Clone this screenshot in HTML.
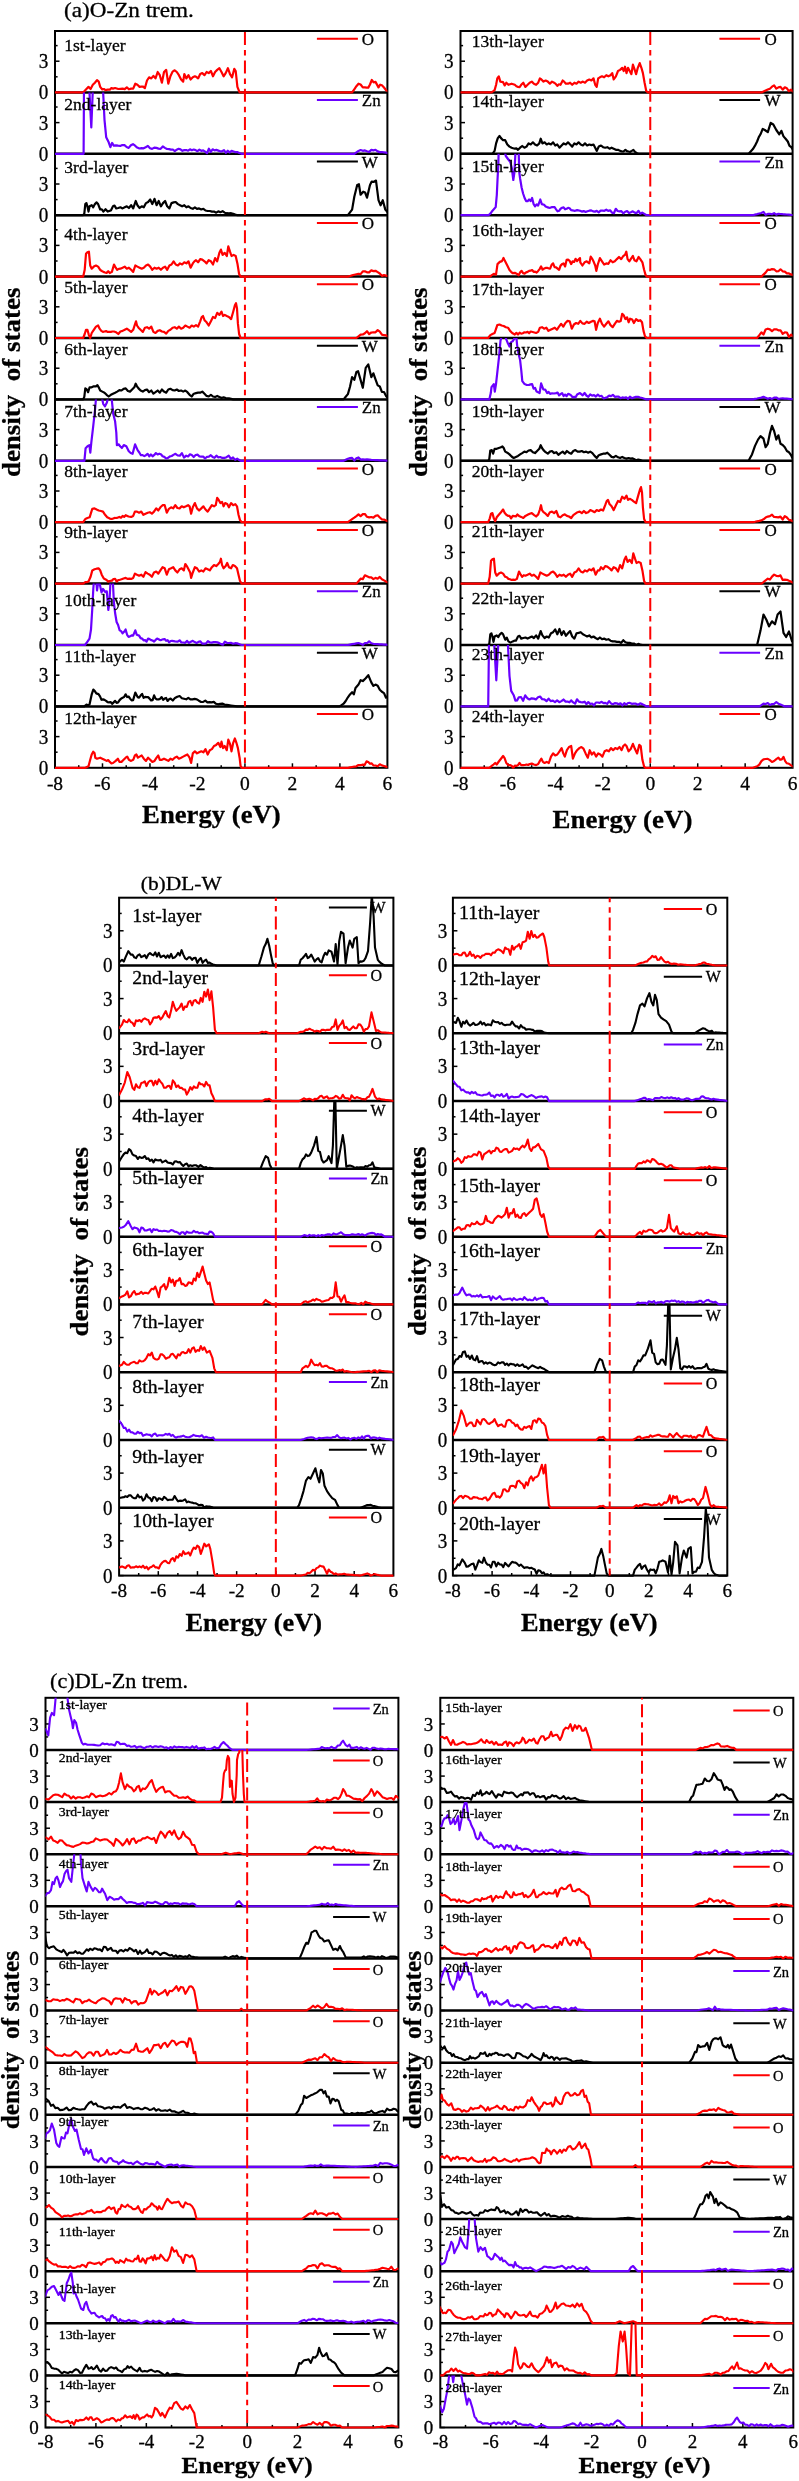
<!DOCTYPE html>
<html><head><meta charset="utf-8"><style>
html,body{margin:0;padding:0;background:#fff;}
svg{display:block;filter:blur(0.35px);}
text{font-family:"Liberation Serif",serif;fill:#000;stroke:#000;stroke-width:0.3px;}
</style></head><body>
<svg width="799" height="2481" viewBox="0 0 799 2481">
<defs><clipPath id="caL0"><rect x="55" y="31" width="332.4" height="63.4"/></clipPath><clipPath id="caL1"><rect x="55" y="92.4" width="332.4" height="63.4"/></clipPath><clipPath id="caL2"><rect x="55" y="153.8" width="332.4" height="63.4"/></clipPath><clipPath id="caL3"><rect x="55" y="215.2" width="332.4" height="63.4"/></clipPath><clipPath id="caL4"><rect x="55" y="276.6" width="332.4" height="63.4"/></clipPath><clipPath id="caL5"><rect x="55" y="338" width="332.4" height="63.4"/></clipPath><clipPath id="caL6"><rect x="55" y="399.4" width="332.4" height="63.4"/></clipPath><clipPath id="caL7"><rect x="55" y="460.8" width="332.4" height="63.4"/></clipPath><clipPath id="caL8"><rect x="55" y="522.2" width="332.4" height="63.4"/></clipPath><clipPath id="caL9"><rect x="55" y="583.6" width="332.4" height="63.4"/></clipPath><clipPath id="caL10"><rect x="55" y="645" width="332.4" height="63.4"/></clipPath><clipPath id="caL11"><rect x="55" y="706.4" width="332.4" height="63.4"/></clipPath><clipPath id="caR0"><rect x="460.5" y="31" width="332.1" height="63.4"/></clipPath><clipPath id="caR1"><rect x="460.5" y="92.4" width="332.1" height="63.4"/></clipPath><clipPath id="caR2"><rect x="460.5" y="153.8" width="332.1" height="63.4"/></clipPath><clipPath id="caR3"><rect x="460.5" y="215.2" width="332.1" height="63.4"/></clipPath><clipPath id="caR4"><rect x="460.5" y="276.6" width="332.1" height="63.4"/></clipPath><clipPath id="caR5"><rect x="460.5" y="338" width="332.1" height="63.4"/></clipPath><clipPath id="caR6"><rect x="460.5" y="399.4" width="332.1" height="63.4"/></clipPath><clipPath id="caR7"><rect x="460.5" y="460.8" width="332.1" height="63.4"/></clipPath><clipPath id="caR8"><rect x="460.5" y="522.2" width="332.1" height="63.4"/></clipPath><clipPath id="caR9"><rect x="460.5" y="583.6" width="332.1" height="63.4"/></clipPath><clipPath id="caR10"><rect x="460.5" y="645" width="332.1" height="63.4"/></clipPath><clipPath id="caR11"><rect x="460.5" y="706.4" width="332.1" height="63.4"/></clipPath><clipPath id="cbL0"><rect x="119.1" y="897.7" width="274.3" height="69.79"/></clipPath><clipPath id="cbL1"><rect x="119.1" y="965.49" width="274.3" height="69.79"/></clipPath><clipPath id="cbL2"><rect x="119.1" y="1033.28" width="274.3" height="69.79"/></clipPath><clipPath id="cbL3"><rect x="119.1" y="1101.07" width="274.3" height="69.79"/></clipPath><clipPath id="cbL4"><rect x="119.1" y="1168.86" width="274.3" height="69.79"/></clipPath><clipPath id="cbL5"><rect x="119.1" y="1236.65" width="274.3" height="69.79"/></clipPath><clipPath id="cbL6"><rect x="119.1" y="1304.44" width="274.3" height="69.79"/></clipPath><clipPath id="cbL7"><rect x="119.1" y="1372.23" width="274.3" height="69.79"/></clipPath><clipPath id="cbL8"><rect x="119.1" y="1440.02" width="274.3" height="69.79"/></clipPath><clipPath id="cbL9"><rect x="119.1" y="1507.81" width="274.3" height="69.79"/></clipPath><clipPath id="cbR0"><rect x="452.9" y="897.7" width="274.4" height="69.79"/></clipPath><clipPath id="cbR1"><rect x="452.9" y="965.49" width="274.4" height="69.79"/></clipPath><clipPath id="cbR2"><rect x="452.9" y="1033.28" width="274.4" height="69.79"/></clipPath><clipPath id="cbR3"><rect x="452.9" y="1101.07" width="274.4" height="69.79"/></clipPath><clipPath id="cbR4"><rect x="452.9" y="1168.86" width="274.4" height="69.79"/></clipPath><clipPath id="cbR5"><rect x="452.9" y="1236.65" width="274.4" height="69.79"/></clipPath><clipPath id="cbR6"><rect x="452.9" y="1304.44" width="274.4" height="69.79"/></clipPath><clipPath id="cbR7"><rect x="452.9" y="1372.23" width="274.4" height="69.79"/></clipPath><clipPath id="cbR8"><rect x="452.9" y="1440.02" width="274.4" height="69.79"/></clipPath><clipPath id="cbR9"><rect x="452.9" y="1507.81" width="274.4" height="69.79"/></clipPath><clipPath id="ccL0"><rect x="45.5" y="1697.8" width="352.9" height="54.12"/></clipPath><clipPath id="ccL1"><rect x="45.5" y="1749.92" width="352.9" height="54.12"/></clipPath><clipPath id="ccL2"><rect x="45.5" y="1802.04" width="352.9" height="54.12"/></clipPath><clipPath id="ccL3"><rect x="45.5" y="1854.16" width="352.9" height="54.12"/></clipPath><clipPath id="ccL4"><rect x="45.5" y="1906.29" width="352.9" height="54.12"/></clipPath><clipPath id="ccL5"><rect x="45.5" y="1958.41" width="352.9" height="54.12"/></clipPath><clipPath id="ccL6"><rect x="45.5" y="2010.53" width="352.9" height="54.12"/></clipPath><clipPath id="ccL7"><rect x="45.5" y="2062.65" width="352.9" height="54.12"/></clipPath><clipPath id="ccL8"><rect x="45.5" y="2114.77" width="352.9" height="54.12"/></clipPath><clipPath id="ccL9"><rect x="45.5" y="2166.89" width="352.9" height="54.12"/></clipPath><clipPath id="ccL10"><rect x="45.5" y="2219.01" width="352.9" height="54.12"/></clipPath><clipPath id="ccL11"><rect x="45.5" y="2271.14" width="352.9" height="54.12"/></clipPath><clipPath id="ccL12"><rect x="45.5" y="2323.26" width="352.9" height="54.12"/></clipPath><clipPath id="ccL13"><rect x="45.5" y="2375.38" width="352.9" height="54.12"/></clipPath><clipPath id="ccR0"><rect x="440.3" y="1697.8" width="353" height="54.12"/></clipPath><clipPath id="ccR1"><rect x="440.3" y="1749.92" width="353" height="54.12"/></clipPath><clipPath id="ccR2"><rect x="440.3" y="1802.04" width="353" height="54.12"/></clipPath><clipPath id="ccR3"><rect x="440.3" y="1854.16" width="353" height="54.12"/></clipPath><clipPath id="ccR4"><rect x="440.3" y="1906.29" width="353" height="54.12"/></clipPath><clipPath id="ccR5"><rect x="440.3" y="1958.41" width="353" height="54.12"/></clipPath><clipPath id="ccR6"><rect x="440.3" y="2010.53" width="353" height="54.12"/></clipPath><clipPath id="ccR7"><rect x="440.3" y="2062.65" width="353" height="54.12"/></clipPath><clipPath id="ccR8"><rect x="440.3" y="2114.77" width="353" height="54.12"/></clipPath><clipPath id="ccR9"><rect x="440.3" y="2166.89" width="353" height="54.12"/></clipPath><clipPath id="ccR10"><rect x="440.3" y="2219.01" width="353" height="54.12"/></clipPath><clipPath id="ccR11"><rect x="440.3" y="2271.14" width="353" height="54.12"/></clipPath><clipPath id="ccR12"><rect x="440.3" y="2323.26" width="353" height="54.12"/></clipPath><clipPath id="ccR13"><rect x="440.3" y="2375.38" width="353" height="54.12"/></clipPath></defs>
<line x1="55" y1="92.4" x2="59.5" y2="92.4" stroke="#000" stroke-width="1.5"/>
<line x1="55" y1="76.8" x2="57.6" y2="76.8" stroke="#000" stroke-width="1.5"/>
<line x1="55" y1="61.21" x2="59.5" y2="61.21" stroke="#000" stroke-width="1.5"/>
<line x1="55" y1="45.61" x2="57.6" y2="45.61" stroke="#000" stroke-width="1.5"/>
<text transform="translate(48.2,99.4) scale(0.920,1)" font-size="20.8" text-anchor="end">0</text>
<text transform="translate(48.2,68.21) scale(0.920,1)" font-size="20.8" text-anchor="end">3</text>
<line x1="55" y1="153.8" x2="59.5" y2="153.8" stroke="#000" stroke-width="1.5"/>
<line x1="55" y1="138.2" x2="57.6" y2="138.2" stroke="#000" stroke-width="1.5"/>
<line x1="55" y1="122.61" x2="59.5" y2="122.61" stroke="#000" stroke-width="1.5"/>
<line x1="55" y1="107.01" x2="57.6" y2="107.01" stroke="#000" stroke-width="1.5"/>
<text transform="translate(48.2,160.8) scale(0.920,1)" font-size="20.8" text-anchor="end">0</text>
<text transform="translate(48.2,129.61) scale(0.920,1)" font-size="20.8" text-anchor="end">3</text>
<line x1="55" y1="215.2" x2="59.5" y2="215.2" stroke="#000" stroke-width="1.5"/>
<line x1="55" y1="199.6" x2="57.6" y2="199.6" stroke="#000" stroke-width="1.5"/>
<line x1="55" y1="184.01" x2="59.5" y2="184.01" stroke="#000" stroke-width="1.5"/>
<line x1="55" y1="168.41" x2="57.6" y2="168.41" stroke="#000" stroke-width="1.5"/>
<text transform="translate(48.2,222.2) scale(0.920,1)" font-size="20.8" text-anchor="end">0</text>
<text transform="translate(48.2,191.01) scale(0.920,1)" font-size="20.8" text-anchor="end">3</text>
<line x1="55" y1="276.6" x2="59.5" y2="276.6" stroke="#000" stroke-width="1.5"/>
<line x1="55" y1="261" x2="57.6" y2="261" stroke="#000" stroke-width="1.5"/>
<line x1="55" y1="245.41" x2="59.5" y2="245.41" stroke="#000" stroke-width="1.5"/>
<line x1="55" y1="229.81" x2="57.6" y2="229.81" stroke="#000" stroke-width="1.5"/>
<text transform="translate(48.2,283.6) scale(0.920,1)" font-size="20.8" text-anchor="end">0</text>
<text transform="translate(48.2,252.41) scale(0.920,1)" font-size="20.8" text-anchor="end">3</text>
<line x1="55" y1="338" x2="59.5" y2="338" stroke="#000" stroke-width="1.5"/>
<line x1="55" y1="322.4" x2="57.6" y2="322.4" stroke="#000" stroke-width="1.5"/>
<line x1="55" y1="306.81" x2="59.5" y2="306.81" stroke="#000" stroke-width="1.5"/>
<line x1="55" y1="291.21" x2="57.6" y2="291.21" stroke="#000" stroke-width="1.5"/>
<text transform="translate(48.2,345) scale(0.920,1)" font-size="20.8" text-anchor="end">0</text>
<text transform="translate(48.2,313.81) scale(0.920,1)" font-size="20.8" text-anchor="end">3</text>
<line x1="55" y1="399.4" x2="59.5" y2="399.4" stroke="#000" stroke-width="1.5"/>
<line x1="55" y1="383.8" x2="57.6" y2="383.8" stroke="#000" stroke-width="1.5"/>
<line x1="55" y1="368.21" x2="59.5" y2="368.21" stroke="#000" stroke-width="1.5"/>
<line x1="55" y1="352.61" x2="57.6" y2="352.61" stroke="#000" stroke-width="1.5"/>
<text transform="translate(48.2,406.4) scale(0.920,1)" font-size="20.8" text-anchor="end">0</text>
<text transform="translate(48.2,375.21) scale(0.920,1)" font-size="20.8" text-anchor="end">3</text>
<line x1="55" y1="460.8" x2="59.5" y2="460.8" stroke="#000" stroke-width="1.5"/>
<line x1="55" y1="445.2" x2="57.6" y2="445.2" stroke="#000" stroke-width="1.5"/>
<line x1="55" y1="429.61" x2="59.5" y2="429.61" stroke="#000" stroke-width="1.5"/>
<line x1="55" y1="414.01" x2="57.6" y2="414.01" stroke="#000" stroke-width="1.5"/>
<text transform="translate(48.2,467.8) scale(0.920,1)" font-size="20.8" text-anchor="end">0</text>
<text transform="translate(48.2,436.61) scale(0.920,1)" font-size="20.8" text-anchor="end">3</text>
<line x1="55" y1="522.2" x2="59.5" y2="522.2" stroke="#000" stroke-width="1.5"/>
<line x1="55" y1="506.6" x2="57.6" y2="506.6" stroke="#000" stroke-width="1.5"/>
<line x1="55" y1="491.01" x2="59.5" y2="491.01" stroke="#000" stroke-width="1.5"/>
<line x1="55" y1="475.41" x2="57.6" y2="475.41" stroke="#000" stroke-width="1.5"/>
<text transform="translate(48.2,529.2) scale(0.920,1)" font-size="20.8" text-anchor="end">0</text>
<text transform="translate(48.2,498.01) scale(0.920,1)" font-size="20.8" text-anchor="end">3</text>
<line x1="55" y1="583.6" x2="59.5" y2="583.6" stroke="#000" stroke-width="1.5"/>
<line x1="55" y1="568" x2="57.6" y2="568" stroke="#000" stroke-width="1.5"/>
<line x1="55" y1="552.41" x2="59.5" y2="552.41" stroke="#000" stroke-width="1.5"/>
<line x1="55" y1="536.81" x2="57.6" y2="536.81" stroke="#000" stroke-width="1.5"/>
<text transform="translate(48.2,590.6) scale(0.920,1)" font-size="20.8" text-anchor="end">0</text>
<text transform="translate(48.2,559.41) scale(0.920,1)" font-size="20.8" text-anchor="end">3</text>
<line x1="55" y1="645" x2="59.5" y2="645" stroke="#000" stroke-width="1.5"/>
<line x1="55" y1="629.4" x2="57.6" y2="629.4" stroke="#000" stroke-width="1.5"/>
<line x1="55" y1="613.81" x2="59.5" y2="613.81" stroke="#000" stroke-width="1.5"/>
<line x1="55" y1="598.21" x2="57.6" y2="598.21" stroke="#000" stroke-width="1.5"/>
<text transform="translate(48.2,652) scale(0.920,1)" font-size="20.8" text-anchor="end">0</text>
<text transform="translate(48.2,620.81) scale(0.920,1)" font-size="20.8" text-anchor="end">3</text>
<line x1="55" y1="706.4" x2="59.5" y2="706.4" stroke="#000" stroke-width="1.5"/>
<line x1="55" y1="690.8" x2="57.6" y2="690.8" stroke="#000" stroke-width="1.5"/>
<line x1="55" y1="675.21" x2="59.5" y2="675.21" stroke="#000" stroke-width="1.5"/>
<line x1="55" y1="659.61" x2="57.6" y2="659.61" stroke="#000" stroke-width="1.5"/>
<text transform="translate(48.2,713.4) scale(0.920,1)" font-size="20.8" text-anchor="end">0</text>
<text transform="translate(48.2,682.21) scale(0.920,1)" font-size="20.8" text-anchor="end">3</text>
<line x1="55" y1="767.8" x2="59.5" y2="767.8" stroke="#000" stroke-width="1.5"/>
<line x1="55" y1="752.2" x2="57.6" y2="752.2" stroke="#000" stroke-width="1.5"/>
<line x1="55" y1="736.61" x2="59.5" y2="736.61" stroke="#000" stroke-width="1.5"/>
<line x1="55" y1="721.01" x2="57.6" y2="721.01" stroke="#000" stroke-width="1.5"/>
<text transform="translate(48.2,774.8) scale(0.920,1)" font-size="20.8" text-anchor="end">0</text>
<text transform="translate(48.2,743.61) scale(0.920,1)" font-size="20.8" text-anchor="end">3</text>
<line x1="55" y1="92.4" x2="387.4" y2="92.4" stroke="#000" stroke-width="2.5"/>
<line x1="55" y1="153.8" x2="387.4" y2="153.8" stroke="#000" stroke-width="2.5"/>
<line x1="55" y1="215.2" x2="387.4" y2="215.2" stroke="#000" stroke-width="2.5"/>
<line x1="55" y1="276.6" x2="387.4" y2="276.6" stroke="#000" stroke-width="2.5"/>
<line x1="55" y1="338" x2="387.4" y2="338" stroke="#000" stroke-width="2.5"/>
<line x1="55" y1="399.4" x2="387.4" y2="399.4" stroke="#000" stroke-width="2.5"/>
<line x1="55" y1="460.8" x2="387.4" y2="460.8" stroke="#000" stroke-width="2.5"/>
<line x1="55" y1="522.2" x2="387.4" y2="522.2" stroke="#000" stroke-width="2.5"/>
<line x1="55" y1="583.6" x2="387.4" y2="583.6" stroke="#000" stroke-width="2.5"/>
<line x1="55" y1="645" x2="387.4" y2="645" stroke="#000" stroke-width="2.5"/>
<line x1="55" y1="706.4" x2="387.4" y2="706.4" stroke="#000" stroke-width="2.5"/>
<rect x="55" y="31" width="332.4" height="736.8" fill="none" stroke="#000" stroke-width="2.0"/>
<line x1="78.74" y1="767.8" x2="78.74" y2="765.2" stroke="#000" stroke-width="1.5"/>
<line x1="102.49" y1="767.8" x2="102.49" y2="763.3" stroke="#000" stroke-width="1.5"/>
<line x1="126.23" y1="767.8" x2="126.23" y2="765.2" stroke="#000" stroke-width="1.5"/>
<line x1="149.97" y1="767.8" x2="149.97" y2="763.3" stroke="#000" stroke-width="1.5"/>
<line x1="173.71" y1="767.8" x2="173.71" y2="765.2" stroke="#000" stroke-width="1.5"/>
<line x1="197.46" y1="767.8" x2="197.46" y2="763.3" stroke="#000" stroke-width="1.5"/>
<line x1="221.2" y1="767.8" x2="221.2" y2="765.2" stroke="#000" stroke-width="1.5"/>
<line x1="244.94" y1="767.8" x2="244.94" y2="763.3" stroke="#000" stroke-width="1.5"/>
<line x1="268.69" y1="767.8" x2="268.69" y2="765.2" stroke="#000" stroke-width="1.5"/>
<line x1="292.43" y1="767.8" x2="292.43" y2="763.3" stroke="#000" stroke-width="1.5"/>
<line x1="316.17" y1="767.8" x2="316.17" y2="765.2" stroke="#000" stroke-width="1.5"/>
<line x1="339.91" y1="767.8" x2="339.91" y2="763.3" stroke="#000" stroke-width="1.5"/>
<line x1="363.66" y1="767.8" x2="363.66" y2="765.2" stroke="#000" stroke-width="1.5"/>
<text transform="translate(55,789.5)" font-size="19.5" text-anchor="middle">-8</text>
<text transform="translate(102.49,789.5)" font-size="19.5" text-anchor="middle">-6</text>
<text transform="translate(149.97,789.5)" font-size="19.5" text-anchor="middle">-4</text>
<text transform="translate(197.46,789.5)" font-size="19.5" text-anchor="middle">-2</text>
<text transform="translate(244.94,789.5)" font-size="19.5" text-anchor="middle">0</text>
<text transform="translate(292.43,789.5)" font-size="19.5" text-anchor="middle">2</text>
<text transform="translate(339.91,789.5)" font-size="19.5" text-anchor="middle">4</text>
<text transform="translate(387.4,789.5)" font-size="19.5" text-anchor="middle">6</text>
<polyline points="50.0,92.4 52.0,92.4 54.0,92.4 56.0,92.4 58.0,92.4 60.0,92.4 62.0,92.4 64.0,92.4 66.0,92.4 68.0,92.4 70.0,92.4 72.0,92.4 74.0,92.4 76.0,92.4 78.0,92.4 80.0,92.4 81.6,92.4 83.2,92.4 84.8,90.7 86.4,89.0 88.5,86.9 90.6,89.0 92.8,84.8 94.9,82.7 97.0,80.1 98.7,81.6 100.2,86.9 102.3,89.5 103.9,89.0 105.5,90.1 107.7,89.7 109.8,89.7 111.4,88.0 113.0,88.6 115.1,88.0 116.7,88.5 118.3,89.0 120.4,88.8 122.6,88.6 124.7,89.1 126.8,87.3 128.9,89.3 131.1,88.6 133.2,88.6 135.3,83.7 137.4,84.8 139.6,86.9 141.2,86.7 142.8,86.5 144.9,88.0 147.0,80.5 149.1,77.3 151.3,78.4 153.4,75.9 155.5,78.4 157.7,72.0 159.8,75.2 161.9,82.7 164.0,72.0 166.2,69.9 168.3,83.7 170.4,76.3 172.6,71.6 174.7,70.3 176.8,72.0 178.9,75.2 181.1,79.5 183.2,81.6 184.3,74.1 186.4,78.4 188.5,75.2 190.6,79.5 192.8,77.3 194.9,76.3 196.5,77.1 198.1,78.4 200.2,74.1 202.3,73.1 204.5,75.2 206.6,72.0 208.7,73.1 210.9,71.0 213.0,76.3 215.1,72.0 217.2,69.9 219.4,68.2 221.5,72.0 223.6,76.3 225.7,73.1 227.9,68.2 230.0,74.1 232.1,77.3 234.3,68.8 235.7,71.0 237.4,86.9 239.6,92.4 241.7,92.4 243.7,92.4 245.8,92.4 247.9,92.4 250.0,92.4 252.0,92.4 254.0,92.4 256.0,92.4 258.0,92.4 260.0,92.4 262.0,92.4 264.0,92.4 266.0,92.4 268.0,92.4 270.0,92.4 272.0,92.4 274.0,92.4 276.0,92.4 278.0,92.4 280.0,92.4 282.0,92.4 284.0,92.4 286.0,92.4 288.0,92.4 290.1,92.4 292.1,92.4 294.1,92.4 296.1,92.4 298.1,92.4 300.1,92.4 302.1,92.4 304.1,92.4 306.1,92.4 308.1,92.4 310.1,92.4 312.1,92.4 314.1,92.4 316.1,92.4 318.1,92.4 320.1,92.4 322.1,92.4 324.1,92.4 326.1,92.4 328.1,92.4 330.1,92.4 332.1,92.4 334.1,92.4 336.1,92.4 338.1,92.4 340.1,92.4 342.1,92.4 344.1,92.4 346.1,92.4 348.1,92.4 350.1,92.4 352.1,92.4 354.3,89.3 356.4,86.2 358.5,83.7 360.6,84.5 362.8,87.4 364.9,87.4 366.6,87.6 368.3,87.6 370.0,84.5 371.8,80.0 373.7,82.4 375.5,81.9 378.5,87.4 380.2,84.7 381.9,85.3 384.0,87.5 386.2,90.4 388.1,91.4 390.0,92.4" fill="none" stroke="#ff0000" stroke-width="2.2" stroke-linejoin="round" clip-path="url(#caL0)"/>
<polyline points="50.0,153.8 52.0,153.8 54.0,153.8 55.9,153.8 57.9,153.8 59.9,153.8 61.9,153.8 63.8,153.8 65.8,153.8 67.8,153.8 69.8,153.8 71.8,153.8 73.7,153.8 75.7,153.8 77.7,153.8 79.7,153.8 81.6,153.8 83.6,153.8 84.0,85.3 85.7,85.3 87.4,85.3 89.1,85.3 91.3,127.4 93.0,85.3 94.9,85.3 96.9,85.3 98.9,85.3 100.8,85.3 102.8,85.3 104.5,119.8 106.2,137.2 108.7,142.3 110.4,147.2 112.1,142.9 113.8,145.7 116.0,145.4 118.1,145.7 120.2,145.9 122.3,145.0 124.5,145.2 126.6,147.0 128.7,147.9 130.9,145.3 133.0,144.2 135.1,145.7 137.2,147.6 139.4,148.5 141.5,148.1 143.6,148.3 145.7,147.2 147.9,145.9 150.0,148.3 152.1,148.9 154.3,147.6 156.4,147.9 158.5,148.6 160.6,148.8 162.8,146.4 164.9,147.9 167.0,149.0 169.1,149.1 171.0,149.6 172.9,149.5 174.8,151.1 176.7,149.7 178.6,148.8 180.5,149.4 182.4,150.8 184.3,150.1 186.2,150.0 188.1,150.7 190.0,149.3 191.8,150.2 193.7,149.5 195.6,150.1 197.5,151.2 199.4,149.7 201.3,150.8 203.2,150.4 205.1,151.7 207.0,153.2 208.9,148.7 210.8,151.9 212.6,149.3 214.5,150.4 216.4,149.9 218.3,150.6 220.2,151.3 222.1,151.3 224.0,150.1 225.9,152.8 227.8,150.7 229.7,152.4 231.6,150.9 233.5,151.5 235.3,152.1 237.2,152.1 239.4,153.0 241.5,153.8 243.5,153.8 245.5,153.8 247.5,153.8 249.5,153.8 251.6,153.8 253.6,153.8 255.6,153.8 257.6,153.8 259.6,153.8 261.6,153.8 263.6,153.8 265.7,153.8 267.7,153.8 269.7,153.8 271.7,153.8 273.7,153.8 275.7,153.8 277.7,153.8 279.7,153.8 281.8,153.8 283.8,153.8 285.8,153.8 287.8,153.8 289.8,153.8 291.8,153.8 293.8,153.8 295.9,153.8 297.9,153.8 299.9,153.8 301.9,153.8 303.9,153.8 305.9,153.8 307.9,153.8 310.0,153.8 312.0,153.8 314.0,153.8 316.0,153.8 318.0,153.8 320.0,153.8 322.0,153.8 324.1,153.8 326.1,153.8 328.1,153.8 330.1,153.8 332.1,153.8 334.1,153.8 336.1,153.8 338.1,153.8 340.2,153.8 342.2,153.8 344.2,153.8 346.2,153.8 348.2,153.8 350.2,153.8 352.2,153.8 354.3,153.8 356.4,152.3 358.5,150.9 360.6,150.0 362.8,150.8 364.9,150.4 367.0,151.3 369.1,152.0 371.3,149.9 373.4,150.4 375.5,149.8 377.7,151.4 379.8,152.1 381.9,152.0 384.0,152.3 386.2,152.6 388.1,153.2 390.0,153.8" fill="none" stroke="#6a00ff" stroke-width="2.2" stroke-linejoin="round" clip-path="url(#caL1)"/>
<polyline points="50.0,215.2 52.0,215.2 54.0,215.2 56.0,215.2 58.0,215.2 60.0,215.2 62.0,215.2 64.0,215.2 66.0,215.2 68.0,215.2 70.0,215.2 72.0,215.2 74.0,215.2 76.0,215.2 78.0,215.2 80.0,215.2 81.6,215.2 83.2,215.2 84.3,213.7 85.3,204.1 86.4,203.1 87.4,206.3 88.5,211.6 89.6,206.3 91.7,205.2 93.2,207.3 94.9,204.1 96.6,202.4 98.1,204.1 100.2,209.5 101.8,209.4 103.4,211.6 105.5,209.2 107.7,211.6 109.3,210.9 110.9,210.5 113.0,206.3 114.5,205.6 116.2,208.4 118.3,208.0 120.4,207.3 122.6,208.4 124.7,207.3 126.8,206.3 128.9,208.0 131.1,205.2 133.2,208.4 135.7,201.0 137.4,205.2 139.6,208.0 141.7,206.3 143.8,207.3 146.0,203.1 148.1,202.0 150.2,199.5 152.3,204.1 154.5,198.8 156.6,205.2 158.7,201.0 160.9,206.3 163.0,203.1 165.1,201.0 167.2,206.3 169.4,208.4 171.5,203.1 173.6,202.4 175.7,202.0 177.9,204.1 180.0,205.2 182.1,206.3 184.3,205.2 186.4,207.3 188.5,206.3 190.6,208.0 192.8,208.8 194.9,207.3 197.0,208.8 199.1,208.4 201.3,209.5 203.4,208.8 205.5,210.5 207.7,211.0 209.8,211.0 211.9,211.6 214.0,211.6 216.2,212.7 218.3,211.3 220.4,212.2 222.6,211.2 224.7,212.7 226.8,213.2 228.9,213.3 231.1,213.2 233.2,213.9 235.3,214.6 237.4,215.2 239.6,215.2 241.7,215.2 243.8,215.2 245.9,215.2 247.9,215.2 250.0,215.2 252.0,215.2 254.0,215.2 256.0,215.2 258.0,215.2 260.0,215.2 262.0,215.2 264.0,215.2 266.0,215.2 268.0,215.2 270.0,215.2 272.0,215.2 274.0,215.2 276.0,215.2 278.0,215.2 280.0,215.2 282.0,215.2 284.0,215.2 286.0,215.2 288.0,215.2 289.9,215.2 291.9,215.2 293.9,215.2 295.9,215.2 297.9,215.2 299.9,215.2 301.9,215.2 303.9,215.2 305.9,215.2 307.9,215.2 309.9,215.2 311.9,215.2 313.9,215.2 315.9,215.2 317.9,215.2 319.9,215.2 321.9,215.2 323.9,215.2 325.9,215.2 327.9,215.2 329.9,215.2 331.9,215.2 333.9,215.2 335.9,215.2 337.9,215.2 339.9,215.2 341.9,215.2 343.9,215.2 345.9,215.2 347.9,215.2 350.0,212.4 352.1,209.6 354.3,196.8 357.2,184.9 358.9,184.2 360.6,194.7 363.2,191.7 365.1,192.5 367.0,197.7 370.0,184.9 371.7,181.6 373.4,181.9 376.0,180.6 378.5,200.2 380.6,205.3 382.8,200.2 385.3,209.6 388.3,213.0 390.0,215.2" fill="none" stroke="#000000" stroke-width="2.2" stroke-linejoin="round" clip-path="url(#caL2)"/>
<polyline points="50.0,276.6 52.0,276.6 54.0,276.6 56.0,276.6 58.0,276.6 60.0,276.6 62.0,276.6 64.0,276.6 66.0,276.6 68.0,276.6 70.0,276.6 72.0,276.6 74.0,276.6 76.0,276.6 78.0,276.6 80.0,276.6 81.6,276.6 83.2,276.6 84.7,269.8 86.0,253.8 87.4,252.3 88.9,251.7 90.2,265.5 91.7,268.7 93.8,266.6 96.0,265.5 98.1,266.6 100.2,269.8 101.8,271.0 103.4,271.9 105.0,272.5 106.6,273.0 108.2,271.2 109.8,273.0 111.9,271.9 114.0,264.5 115.7,267.7 117.2,269.8 118.8,268.9 120.4,268.7 122.6,267.7 124.7,266.6 126.8,268.7 128.9,267.7 131.1,269.8 133.2,271.9 135.3,265.5 137.4,266.6 139.6,267.7 141.7,268.7 143.8,267.7 146.0,265.5 148.1,264.5 150.2,266.6 152.3,269.8 154.5,267.7 156.6,268.7 158.7,267.7 160.9,269.8 163.0,267.7 165.1,266.6 167.2,269.8 169.4,265.5 171.5,264.5 173.6,261.3 175.7,264.5 177.9,265.5 180.0,263.4 182.1,264.5 184.3,262.3 186.4,263.4 188.5,261.3 190.6,267.7 192.8,263.4 194.4,261.4 196.0,260.2 198.1,262.3 200.2,259.1 202.3,259.6 204.5,261.3 206.6,263.4 208.7,260.2 210.9,261.3 213.0,264.5 215.1,258.1 217.2,261.3 219.4,252.8 220.9,249.6 222.6,254.9 224.7,252.8 226.8,256.0 228.3,246.4 230.0,251.7 231.5,256.0 233.6,254.9 235.7,256.0 237.4,263.4 239.1,274.0 240.6,276.6 242.5,276.6 244.4,276.6 246.3,276.6 248.1,276.6 250.0,276.6 252.0,276.6 254.0,276.6 256.0,276.6 258.0,276.6 260.0,276.6 262.0,276.6 264.0,276.6 266.0,276.6 268.0,276.6 270.0,276.6 272.0,276.6 274.0,276.6 276.0,276.6 278.0,276.6 280.0,276.6 282.0,276.6 284.0,276.6 286.0,276.6 288.0,276.6 289.9,276.6 291.9,276.6 293.9,276.6 295.9,276.6 297.9,276.6 299.9,276.6 301.9,276.6 303.9,276.6 305.9,276.6 307.9,276.6 309.9,276.6 311.9,276.6 313.9,276.6 315.9,276.6 317.9,276.6 319.9,276.6 321.9,276.6 323.9,276.6 325.9,276.6 327.9,276.6 329.9,276.6 331.9,276.6 333.9,276.6 335.9,276.6 337.9,276.6 339.9,276.6 341.9,276.6 343.9,276.6 345.9,276.6 347.9,276.6 350.0,276.0 352.1,275.4 354.3,274.8 356.4,274.3 358.5,273.8 360.6,274.1 362.8,271.4 364.9,271.3 367.0,272.3 369.1,272.4 371.3,270.4 373.4,271.1 375.5,270.8 377.7,272.1 379.8,273.5 381.9,275.9 384.0,275.1 386.0,275.6 388.0,276.1 390.0,276.6" fill="none" stroke="#ff0000" stroke-width="2.2" stroke-linejoin="round" clip-path="url(#caL3)"/>
<polyline points="50.0,338.0 52.0,338.0 54.0,338.0 56.0,338.0 58.0,338.0 60.0,338.0 62.0,338.0 64.0,338.0 66.0,338.0 68.0,338.0 70.0,338.0 72.0,338.0 74.0,338.0 76.0,338.0 78.0,338.0 80.0,338.0 81.6,338.0 83.2,338.0 84.7,334.0 86.0,329.8 87.4,329.8 88.9,335.1 90.2,338.0 91.7,333.0 93.8,329.8 96.0,326.6 98.1,325.5 99.6,328.7 101.3,330.9 102.9,331.9 104.5,331.5 106.1,331.1 107.7,331.9 109.3,331.9 110.9,331.9 112.4,331.5 114.0,331.5 116.2,332.3 118.3,334.0 120.4,331.5 122.6,330.9 124.7,329.8 126.8,328.7 128.9,330.2 131.1,331.9 133.2,329.8 134.9,324.5 136.0,321.3 137.0,325.5 138.5,327.7 140.6,329.8 142.8,331.9 144.9,327.7 147.0,327.2 149.1,328.7 151.3,326.6 153.4,331.9 155.5,333.0 157.7,330.9 159.8,330.2 161.9,331.5 164.0,331.9 166.2,333.6 168.3,330.9 170.4,329.8 172.6,327.7 174.7,327.2 176.8,328.7 178.9,326.6 181.1,328.7 183.2,327.7 185.3,325.5 187.4,326.6 189.6,327.7 191.7,325.5 193.8,326.6 196.0,325.1 198.1,326.6 200.2,321.3 201.7,317.0 203.0,316.0 204.5,320.2 206.6,322.3 208.7,325.5 210.9,321.3 213.0,317.0 215.1,318.1 217.2,312.8 219.4,314.9 221.5,311.7 223.0,316.0 224.7,314.9 226.8,316.0 228.9,317.0 231.1,319.1 233.2,311.7 234.9,305.3 236.0,303.2 237.0,308.5 237.9,323.4 239.1,334.0 240.6,338.0 242.5,338.0 244.4,338.0 246.3,338.0 248.1,338.0 250.0,338.0 252.0,338.0 254.0,338.0 256.0,338.0 258.0,338.0 260.0,338.0 262.0,338.0 264.1,338.0 266.1,338.0 268.1,338.0 270.1,338.0 272.1,338.0 274.1,338.0 276.1,338.0 278.1,338.0 280.1,338.0 282.1,338.0 284.1,338.0 286.1,338.0 288.1,338.0 290.1,338.0 292.2,338.0 294.2,338.0 296.2,338.0 298.2,338.0 300.2,338.0 302.2,338.0 304.2,338.0 306.2,338.0 308.2,338.0 310.2,338.0 312.2,338.0 314.2,338.0 316.2,338.0 318.2,338.0 320.3,338.0 322.3,338.0 324.3,338.0 326.3,338.0 328.3,338.0 330.3,338.0 332.3,338.0 334.3,338.0 336.3,338.0 338.3,338.0 340.3,338.0 342.3,338.0 344.3,338.0 346.3,338.0 348.4,338.0 350.4,338.0 352.4,338.0 354.4,338.0 356.4,338.0 358.5,336.3 360.6,334.6 362.8,334.5 364.9,333.3 367.0,331.2 369.1,334.1 371.3,332.5 373.4,332.4 375.5,332.3 377.7,330.1 379.8,331.6 381.9,334.6 384.0,335.2 386.2,335.4 388.1,336.7 390.0,338.0" fill="none" stroke="#ff0000" stroke-width="2.2" stroke-linejoin="round" clip-path="url(#caL4)"/>
<polyline points="50.0,399.4 52.0,399.4 54.0,399.4 56.0,399.4 58.0,399.4 60.0,399.4 62.0,399.4 64.0,399.4 66.0,399.4 68.0,399.4 70.0,399.4 72.0,399.4 74.0,399.4 76.0,399.4 78.0,399.4 80.0,399.4 81.6,399.4 83.2,399.4 84.3,396.9 85.3,388.4 86.8,389.5 88.1,392.2 89.6,387.3 91.7,387.3 93.8,386.3 96.0,386.3 97.4,385.2 98.7,387.3 100.2,390.5 102.3,391.6 104.5,392.7 106.6,394.8 108.7,396.5 110.9,394.8 113.0,393.7 115.1,392.7 117.2,391.6 119.4,390.1 121.5,390.5 123.6,388.8 125.7,388.4 127.9,391.0 130.0,391.6 132.1,389.5 134.3,387.3 135.7,383.7 137.0,386.3 138.5,388.4 140.6,390.5 142.8,391.6 144.9,390.1 147.0,389.5 149.1,392.2 151.3,390.5 153.4,393.7 155.5,392.2 157.7,390.5 159.8,392.7 161.9,389.5 164.0,391.6 166.2,392.7 168.3,389.5 170.4,388.8 172.6,390.1 174.7,390.5 176.8,389.5 178.9,391.0 181.1,390.5 183.2,391.6 185.3,390.5 187.4,392.2 189.6,394.8 191.7,396.5 193.8,393.7 196.0,393.1 198.1,392.7 200.2,392.7 202.3,391.6 204.5,393.7 206.6,395.9 208.7,396.5 210.9,394.8 213.0,396.5 215.1,396.9 217.2,395.9 219.4,396.9 221.5,398.0 223.6,397.3 225.7,398.0 227.3,398.3 228.9,398.4 231.1,398.9 233.2,399.4 235.3,399.4 237.4,399.4 239.6,399.4 241.7,399.4 243.8,399.4 245.9,399.4 247.9,399.4 250.0,399.4 252.0,399.4 254.0,399.4 256.0,399.4 258.0,399.4 260.0,399.4 262.0,399.4 263.9,399.4 265.9,399.4 267.9,399.4 269.9,399.4 271.9,399.4 273.9,399.4 275.9,399.4 277.9,399.4 279.9,399.4 281.9,399.4 283.9,399.4 285.9,399.4 287.8,399.4 289.8,399.4 291.8,399.4 293.8,399.4 295.8,399.4 297.8,399.4 299.8,399.4 301.8,399.4 303.8,399.4 305.8,399.4 307.8,399.4 309.8,399.4 311.7,399.4 313.7,399.4 315.7,399.4 317.7,399.4 319.7,399.4 321.7,399.4 323.7,399.4 325.7,399.4 327.7,399.4 329.7,399.4 331.7,399.4 333.7,399.4 335.6,399.4 337.6,399.4 339.6,399.4 341.6,399.4 343.6,399.4 345.7,396.8 347.9,394.1 350.0,386.8 352.1,377.1 354.3,379.9 356.4,372.0 358.1,371.2 359.8,377.1 362.8,387.8 365.7,367.8 368.3,364.4 371.3,377.1 373.4,373.3 375.5,379.3 377.7,385.4 379.8,386.5 381.9,391.9 384.0,392.0 386.2,396.2 388.3,398.4 390.0,399.4" fill="none" stroke="#000000" stroke-width="2.2" stroke-linejoin="round" clip-path="url(#caL5)"/>
<polyline points="53.0,460.8 55.1,460.8 57.2,460.8 59.4,460.8 61.5,460.8 63.6,460.8 65.8,460.8 67.9,460.8 70.0,460.8 72.1,460.8 74.1,460.8 76.2,460.8 78.2,460.8 80.3,460.8 82.3,460.8 84.4,460.8 85.6,448.2 87.5,446.3 89.4,445.1 90.3,452.6 91.3,442.6 93.2,426.3 95.0,410.0 96.3,395.0 98.0,395.0 99.6,395.0 101.3,395.0 103.2,403.8 105.0,406.3 106.9,402.5 108.8,395.0 111.3,395.0 113.2,413.8 115.1,421.3 116.3,432.5 116.9,445.1 118.8,444.4 120.1,446.3 121.9,448.0 123.8,445.1 126.3,446.3 128.8,451.3 130.7,453.0 132.6,453.8 135.1,444.4 137.6,450.1 139.3,452.5 140.9,455.2 142.6,455.1 144.3,456.1 145.9,455.2 147.6,453.8 149.3,456.3 150.9,454.5 152.6,456.3 154.3,454.9 155.9,453.1 157.6,454.4 159.3,453.7 160.9,454.2 162.6,456.3 164.3,456.9 166.0,458.3 167.6,458.2 170.0,456.3 171.7,456.0 173.4,454.9 175.5,453.8 177.7,455.5 179.8,455.7 181.9,453.1 184.0,457.6 186.2,455.7 188.1,456.5 190.0,454.3 191.8,455.0 193.7,457.0 195.6,455.0 197.5,454.7 199.4,456.3 201.3,456.6 203.2,456.6 205.1,458.5 207.0,456.8 208.9,456.6 210.8,455.2 212.6,456.9 214.5,457.8 216.4,455.7 218.3,457.3 220.2,457.0 222.3,457.9 224.5,457.9 226.6,457.2 228.7,455.7 230.9,458.8 233.0,457.4 235.1,459.9 237.2,458.7 238.9,459.8 240.6,460.8 242.7,460.8 244.7,460.8 246.7,460.8 248.7,460.8 250.7,460.8 252.8,460.8 254.8,460.8 256.8,460.8 258.8,460.8 260.8,460.8 262.8,460.8 264.9,460.8 266.9,460.8 268.9,460.8 270.9,460.8 272.9,460.8 275.0,460.8 277.0,460.8 279.0,460.8 281.0,460.8 283.0,460.8 285.1,460.8 287.1,460.8 289.1,460.8 291.1,460.8 293.1,460.8 295.2,460.8 297.2,460.8 299.2,460.8 301.2,460.8 303.2,460.8 305.3,460.8 307.3,460.8 309.3,460.8 311.3,460.8 313.3,460.8 315.3,460.8 317.4,460.8 319.4,460.8 321.4,460.8 323.4,460.8 325.4,460.8 327.5,460.8 329.5,460.8 331.5,460.8 333.5,460.8 335.5,460.8 337.6,460.8 339.6,460.8 341.6,460.8 343.6,460.8 345.7,459.8 347.9,458.7 350.0,458.1 352.1,457.9 354.3,460.6 356.4,458.3 358.5,457.4 360.6,459.6 362.8,459.3 364.9,459.6 367.0,459.3 369.1,459.6 371.3,459.9 373.4,460.0 375.5,460.1 377.6,460.2 379.6,460.3 381.7,460.4 383.8,460.5 385.9,460.6 387.9,460.7 390.0,460.8" fill="none" stroke="#6a00ff" stroke-width="2.2" stroke-linejoin="round" clip-path="url(#caL6)"/>
<polyline points="50.0,522.2 52.0,522.2 54.0,522.2 56.0,522.2 58.0,522.2 60.0,522.2 62.0,522.2 64.0,522.2 66.0,522.2 68.0,522.2 70.0,522.2 72.0,522.2 74.0,522.2 76.0,522.2 78.0,522.2 80.0,522.2 81.6,522.2 83.2,522.2 85.3,519.0 87.4,518.0 89.6,517.3 91.1,512.7 92.3,508.8 94.5,508.4 96.6,509.5 98.7,510.5 100.9,511.0 103.0,511.6 105.1,514.8 107.2,517.3 109.8,518.6 111.4,519.0 113.0,518.6 114.6,517.9 116.2,518.0 117.8,517.6 119.4,516.9 121.0,517.7 122.6,515.9 124.1,516.9 125.7,515.2 128.5,516.5 131.1,516.9 133.2,515.9 134.9,511.6 137.0,511.6 139.1,512.7 141.3,511.6 143.4,514.8 145.5,513.7 147.7,512.7 149.8,512.2 151.9,513.7 154.0,511.6 156.2,508.4 158.3,510.5 160.4,507.3 162.6,505.2 164.7,505.2 166.8,512.7 168.9,508.8 171.1,507.3 173.2,508.4 175.3,505.2 177.4,508.0 179.6,508.4 181.7,506.3 183.8,507.3 186.0,506.3 188.1,505.2 189.6,506.3 191.1,513.7 192.8,507.3 194.9,503.1 197.0,508.4 199.1,510.5 201.3,508.4 203.4,506.3 205.5,509.5 207.7,511.6 209.8,508.4 211.9,505.2 214.0,506.3 215.7,505.2 217.2,497.8 218.7,499.9 220.4,503.1 222.1,502.0 223.6,506.3 225.1,503.1 227.2,504.1 228.9,507.3 231.1,503.1 233.2,505.2 235.3,504.1 237.0,506.3 238.5,514.8 240.0,520.1 241.7,522.2 243.8,522.2 245.9,522.2 247.9,522.2 250.0,522.2 252.0,522.2 254.0,522.2 256.0,522.2 258.0,522.2 260.0,522.2 262.0,522.2 264.0,522.2 266.0,522.2 268.0,522.2 270.0,522.2 272.0,522.2 274.0,522.2 276.0,522.2 278.0,522.2 280.0,522.2 282.0,522.2 284.0,522.2 286.0,522.2 288.0,522.2 289.9,522.2 291.9,522.2 293.9,522.2 295.9,522.2 297.9,522.2 299.9,522.2 301.9,522.2 303.9,522.2 305.9,522.2 307.9,522.2 309.9,522.2 311.9,522.2 313.9,522.2 315.9,522.2 317.9,522.2 319.9,522.2 321.9,522.2 323.9,522.2 325.9,522.2 327.9,522.2 329.9,522.2 331.9,522.2 333.9,522.2 335.9,522.2 337.9,522.2 339.9,522.2 341.9,522.2 343.9,522.2 345.9,522.2 347.9,522.2 350.0,520.7 352.1,519.2 354.3,517.7 356.4,516.1 358.5,514.4 360.6,516.2 362.8,514.1 364.9,514.0 367.0,516.8 369.1,517.4 371.3,517.0 373.4,517.6 375.5,515.9 377.7,515.3 379.8,517.5 381.9,519.3 384.0,519.6 386.0,520.4 388.0,521.3 390.0,522.2" fill="none" stroke="#ff0000" stroke-width="2.2" stroke-linejoin="round" clip-path="url(#caL7)"/>
<polyline points="50.0,583.6 52.0,583.6 54.0,583.6 56.0,583.6 58.0,583.6 60.0,583.6 62.0,583.6 64.0,583.6 66.0,583.6 68.0,583.6 70.0,583.6 72.0,583.6 74.0,583.6 76.0,583.6 78.0,583.6 80.0,583.6 81.6,583.6 83.2,583.6 85.3,582.1 86.9,582.1 88.5,581.5 90.6,576.8 92.3,570.4 94.5,569.3 96.6,568.7 98.7,568.3 100.2,570.4 101.7,574.7 103.8,578.5 106.6,580.0 108.2,581.6 109.8,581.0 111.9,580.6 113.5,579.0 115.1,578.9 116.7,581.6 118.3,580.0 119.9,579.8 121.5,579.3 123.6,578.5 125.7,577.9 127.9,578.9 129.5,578.6 131.1,578.9 133.2,577.9 134.9,573.6 137.0,574.7 139.1,575.7 141.3,574.7 143.4,576.8 145.5,572.1 147.7,573.6 149.8,574.7 151.9,576.8 154.0,572.5 156.2,571.5 158.3,573.6 160.4,570.4 162.6,567.2 164.7,568.3 166.8,574.7 168.9,569.3 171.1,568.3 173.2,567.2 175.3,570.4 177.4,572.5 179.6,569.3 181.7,568.3 183.8,570.4 185.3,564.0 186.8,566.1 188.5,569.3 190.2,572.5 191.1,577.9 192.8,572.5 194.9,567.2 197.0,568.3 199.1,571.5 201.3,570.4 203.4,571.5 205.5,568.3 207.7,569.3 209.8,570.4 211.9,567.2 214.0,565.1 216.2,566.1 218.3,564.0 220.0,561.9 220.9,558.7 222.1,565.1 223.6,568.3 225.7,566.1 227.2,563.0 228.9,567.2 231.1,568.3 232.8,565.1 234.9,566.1 237.0,568.3 238.5,574.7 240.0,581.0 241.7,583.6 243.8,583.6 245.9,583.6 247.9,583.6 250.0,583.6 252.0,583.6 254.0,583.6 256.0,583.6 258.0,583.6 260.0,583.6 262.0,583.6 264.1,583.6 266.1,583.6 268.1,583.6 270.1,583.6 272.1,583.6 274.1,583.6 276.1,583.6 278.1,583.6 280.1,583.6 282.1,583.6 284.1,583.6 286.1,583.6 288.1,583.6 290.1,583.6 292.2,583.6 294.2,583.6 296.2,583.6 298.2,583.6 300.2,583.6 302.2,583.6 304.2,583.6 306.2,583.6 308.2,583.6 310.2,583.6 312.2,583.6 314.2,583.6 316.2,583.6 318.2,583.6 320.3,583.6 322.3,583.6 324.3,583.6 326.3,583.6 328.3,583.6 330.3,583.6 332.3,583.6 334.3,583.6 336.3,583.6 338.3,583.6 340.3,583.6 342.3,583.6 344.3,583.6 346.3,583.6 348.4,583.6 350.4,583.6 352.4,583.6 354.4,583.6 356.4,583.6 358.5,581.2 360.6,578.7 362.8,579.1 364.9,575.3 367.0,576.3 369.1,577.3 371.3,577.4 373.4,579.1 375.5,577.9 377.7,578.7 379.8,576.9 381.9,579.2 384.0,580.4 386.0,581.5 388.0,582.5 390.0,583.6" fill="none" stroke="#ff0000" stroke-width="2.2" stroke-linejoin="round" clip-path="url(#caL8)"/>
<polyline points="50.0,645.0 52.5,645.0 55.0,645.0 57.0,645.0 59.0,645.0 61.0,645.0 62.9,645.0 64.9,645.0 66.9,645.0 68.9,645.0 70.9,645.0 72.9,645.0 74.8,645.0 76.8,645.0 78.8,645.0 80.8,645.0 82.8,645.0 85.0,645.0 87.3,641.8 89.5,638.6 91.0,629.5 92.2,610.0 93.3,589.0 94.0,580.0 96.3,580.0 97.0,590.5 98.5,580.0 100.0,585.3 101.5,592.3 103.0,589.0 105.3,592.0 106.8,591.3 108.3,610.0 109.4,602.5 110.6,580.0 112.8,580.0 113.9,602.5 115.1,613.0 116.6,622.0 118.1,625.0 119.6,630.3 121.1,631.1 122.6,633.3 124.1,631.8 125.6,629.5 127.1,634.8 128.6,636.9 130.1,636.3 131.6,635.3 133.1,635.6 135.3,630.3 136.8,634.8 139.1,635.6 140.6,638.1 142.1,638.6 143.6,640.3 145.1,640.1 146.6,641.6 148.1,638.6 149.6,639.1 151.1,640.1 152.6,640.5 154.1,641.6 155.6,639.9 157.1,638.6 158.6,639.2 160.1,640.1 161.6,639.8 163.1,639.3 164.6,639.0 166.1,640.8 167.6,640.2 169.1,642.3 170.6,641.0 172.1,640.8 175.0,641.3 177.7,641.7 179.6,640.3 181.4,642.5 183.3,642.5 185.2,642.8 187.1,640.9 189.0,642.9 190.9,641.7 192.8,640.8 194.7,642.1 196.6,643.0 198.5,641.9 200.4,641.3 202.2,643.7 204.1,643.6 206.0,643.4 207.9,641.1 209.8,642.5 211.7,642.6 213.6,642.2 215.5,642.2 217.4,642.4 219.3,643.1 221.2,644.1 223.0,644.6 224.9,641.7 226.8,642.8 228.7,643.0 230.9,642.8 233.0,643.7 235.1,643.2 237.2,643.4 239.4,644.2 241.5,645.0 243.5,645.0 245.5,645.0 247.5,645.0 249.5,645.0 251.5,645.0 253.5,645.0 255.5,645.0 257.5,645.0 259.6,645.0 261.6,645.0 263.6,645.0 265.6,645.0 267.6,645.0 269.6,645.0 271.6,645.0 273.6,645.0 275.6,645.0 277.6,645.0 279.6,645.0 281.6,645.0 283.6,645.0 285.6,645.0 287.7,645.0 289.7,645.0 291.7,645.0 293.7,645.0 295.7,645.0 297.7,645.0 299.7,645.0 301.7,645.0 303.7,645.0 305.7,645.0 307.7,645.0 309.7,645.0 311.7,645.0 313.7,645.0 315.8,645.0 317.8,645.0 319.8,645.0 321.8,645.0 323.8,645.0 325.8,645.0 327.8,645.0 329.8,645.0 331.8,645.0 333.8,645.0 335.8,645.0 337.8,645.0 339.8,645.0 341.9,645.0 343.9,645.0 345.9,645.0 347.9,645.0 350.0,644.6 352.1,644.2 354.3,643.8 356.4,643.4 358.5,643.0 360.6,643.8 362.8,644.8 364.9,643.0 367.0,643.2 369.1,641.3 371.3,643.3 373.4,643.8 375.5,644.0 377.6,644.1 379.6,644.3 381.7,644.4 383.8,644.6 385.9,644.7 387.9,644.9 390.0,645.0" fill="none" stroke="#6a00ff" stroke-width="2.2" stroke-linejoin="round" clip-path="url(#caL9)"/>
<polyline points="50.0,706.4 52.5,706.4 55.0,706.4 57.0,706.4 58.9,706.4 60.9,706.4 62.8,706.4 64.8,706.4 66.7,706.4 68.7,706.4 70.6,706.4 72.6,706.4 74.5,706.4 76.5,706.4 78.4,706.4 80.4,706.4 82.3,706.4 84.3,706.4 86.5,704.6 88.0,705.2 89.5,704.6 91.8,694.1 93.3,689.6 94.8,691.1 96.3,693.4 98.5,694.1 100.0,696.4 101.5,699.8 103.0,699.4 104.5,699.9 106.1,700.9 107.6,702.2 109.1,702.4 110.6,702.0 112.1,703.9 113.6,702.4 115.1,700.9 116.6,702.9 118.1,702.4 119.6,700.1 121.1,698.6 122.6,697.7 124.1,697.1 125.6,694.3 127.1,697.1 128.6,696.5 130.1,698.6 131.6,700.4 133.1,700.1 135.3,692.6 137.6,697.1 139.1,697.6 140.6,695.6 142.1,693.9 143.6,697.9 145.1,696.9 146.6,697.1 148.1,697.1 149.6,698.6 151.1,700.5 152.6,700.1 154.1,695.4 155.6,698.6 157.1,699.5 158.6,699.4 160.1,698.7 161.6,697.1 163.1,699.8 164.6,698.6 166.1,697.9 167.6,700.9 169.1,699.3 170.6,698.6 172.8,700.5 175.0,697.9 177.3,696.7 179.6,696.0 181.9,698.2 184.0,698.7 186.2,699.3 188.3,697.8 190.4,699.4 192.6,699.4 194.7,698.9 196.8,699.3 198.9,700.7 201.1,702.0 203.2,701.9 205.3,700.6 207.4,702.4 209.6,702.1 211.7,702.4 213.8,701.9 216.0,703.8 218.1,704.3 220.2,703.9 222.3,703.6 224.5,704.6 226.6,704.9 228.7,705.2 230.9,705.5 233.0,705.8 235.1,706.1 237.2,706.4 239.4,706.4 241.5,706.4 243.5,706.4 245.5,706.4 247.5,706.4 249.5,706.4 251.5,706.4 253.5,706.4 255.5,706.4 257.5,706.4 259.5,706.4 261.5,706.4 263.5,706.4 265.5,706.4 267.5,706.4 269.5,706.4 271.5,706.4 273.4,706.4 275.4,706.4 277.4,706.4 279.4,706.4 281.4,706.4 283.4,706.4 285.4,706.4 287.4,706.4 289.4,706.4 291.4,706.4 293.4,706.4 295.4,706.4 297.4,706.4 299.4,706.4 301.4,706.4 303.4,706.4 305.4,706.4 307.4,706.4 309.4,706.4 311.4,706.4 313.4,706.4 315.4,706.4 317.4,706.4 319.4,706.4 321.4,706.4 323.4,706.4 325.4,706.4 327.4,706.4 329.4,706.4 331.4,706.4 333.4,706.4 335.4,706.4 337.4,706.4 339.4,706.4 341.5,705.1 343.6,703.7 345.7,701.0 347.9,697.3 350.0,694.4 352.1,692.2 353.8,694.4 355.5,688.0 358.5,684.6 360.6,680.2 362.8,681.1 365.7,678.2 368.3,675.2 371.3,682.4 373.4,685.9 375.5,684.6 377.7,685.7 379.8,689.7 381.9,691.8 384.0,693.1 386.0,697.7 388.0,695.9 390.0,699.4" fill="none" stroke="#000000" stroke-width="2.2" stroke-linejoin="round" clip-path="url(#caL10)"/>
<polyline points="50.0,767.8 52.0,767.8 54.0,767.8 56.0,767.8 58.0,767.8 60.0,767.8 62.0,767.8 64.0,767.8 66.0,767.8 68.0,767.8 70.0,767.8 72.0,767.8 74.0,767.8 76.0,767.8 78.0,767.8 80.0,767.8 81.6,767.8 83.2,767.8 85.3,767.8 86.9,767.0 88.5,766.2 90.2,759.8 91.7,754.5 93.2,751.7 94.5,753.0 95.3,757.7 97.0,758.7 98.6,758.2 100.2,757.7 102.3,758.7 104.5,759.8 106.6,760.9 108.2,760.1 109.8,761.9 111.4,763.3 113.0,763.0 115.7,760.9 117.9,758.7 119.4,761.9 121.5,761.9 123.6,759.8 125.7,757.7 127.2,756.6 128.9,759.8 131.1,760.9 133.2,759.8 134.9,755.5 136.4,754.5 137.9,757.7 139.6,756.6 141.7,755.5 143.8,758.7 146.0,760.9 148.1,757.7 150.2,759.8 152.3,761.9 154.5,760.9 156.6,757.7 158.3,755.5 159.8,759.8 161.9,759.8 164.0,758.7 166.2,759.8 168.3,760.9 170.4,758.7 172.6,759.8 174.7,757.7 176.8,756.6 178.9,758.7 181.1,757.7 183.2,756.6 185.3,755.5 187.4,754.5 189.6,757.7 191.1,763.0 192.8,753.4 194.9,751.3 197.0,753.4 199.1,752.3 201.3,751.3 203.4,752.3 205.5,749.1 207.7,754.5 209.8,750.2 211.9,749.1 214.0,746.0 216.2,744.9 218.3,742.8 220.4,747.0 221.5,741.7 223.0,748.1 224.7,746.0 226.8,750.2 228.3,739.6 230.0,743.8 231.5,751.3 233.2,742.8 234.9,738.5 236.4,742.8 237.9,748.1 239.6,757.7 240.6,766.2 241.7,767.8 243.8,767.8 245.9,767.8 247.9,767.8 250.0,767.8 252.0,767.8 254.0,767.8 256.0,767.8 258.0,767.8 260.0,767.8 262.0,767.8 264.0,767.8 266.0,767.8 268.0,767.8 270.0,767.8 272.0,767.8 274.0,767.8 276.0,767.8 278.0,767.8 280.0,767.8 282.0,767.8 284.0,767.8 286.0,767.8 288.0,767.8 289.9,767.8 291.9,767.8 293.9,767.8 295.9,767.8 297.9,767.8 299.9,767.8 301.9,767.8 303.9,767.8 305.9,767.8 307.9,767.8 309.9,767.8 311.9,767.8 313.9,767.8 315.9,767.8 317.9,767.8 319.9,767.8 321.9,767.8 323.9,767.8 325.9,767.8 327.9,767.8 329.9,767.8 331.9,767.8 333.9,767.8 335.9,767.8 337.9,767.8 339.9,767.8 341.9,767.8 343.9,767.8 345.9,767.8 347.9,767.8 350.0,767.4 352.1,767.0 354.3,766.6 356.4,766.3 358.5,765.0 360.6,765.2 362.8,764.6 364.6,764.9 366.5,761.4 368.3,762.0 370.0,763.8 371.7,763.4 373.4,765.4 375.5,765.5 377.7,766.3 379.8,764.3 381.9,765.4 383.9,766.0 386.0,766.6 388.0,767.2 390.0,767.8" fill="none" stroke="#ff0000" stroke-width="2.2" stroke-linejoin="round" clip-path="url(#caL11)"/>
<line x1="244.94" y1="31" x2="244.94" y2="767.8" stroke="#ff0000" stroke-width="2.0" stroke-dasharray="13 5 5.5 4.8" stroke-dashoffset="27.2"/>
<text transform="translate(64.3,50.7)" font-size="17.5">1st-layer</text>
<line x1="316.9" y1="38.7" x2="357.9" y2="38.7" stroke="#ff0000" stroke-width="2"/>
<text transform="translate(361.8,44.7)" font-size="17">O</text>
<text transform="translate(64.3,109.7)" font-size="17.5">2nd-layer</text>
<line x1="316.9" y1="100.1" x2="357.9" y2="100.1" stroke="#6a00ff" stroke-width="2"/>
<text transform="translate(361.8,106.1)" font-size="17">Zn</text>
<text transform="translate(64.3,172.7)" font-size="17.5">3rd-layer</text>
<line x1="316.9" y1="161.5" x2="357.9" y2="161.5" stroke="#000000" stroke-width="2"/>
<text transform="translate(361.8,167.5)" font-size="17">W</text>
<text transform="translate(64.3,239.7)" font-size="17.5">4th-layer</text>
<line x1="316.9" y1="222.9" x2="357.9" y2="222.9" stroke="#ff0000" stroke-width="2"/>
<text transform="translate(361.8,228.9)" font-size="17">O</text>
<text transform="translate(64.3,293.4)" font-size="17.5">5th-layer</text>
<line x1="316.9" y1="284.3" x2="357.9" y2="284.3" stroke="#ff0000" stroke-width="2"/>
<text transform="translate(361.8,290.3)" font-size="17">O</text>
<text transform="translate(64.3,354.7)" font-size="17.5">6th-layer</text>
<line x1="316.9" y1="345.7" x2="357.9" y2="345.7" stroke="#000000" stroke-width="2"/>
<text transform="translate(361.8,351.7)" font-size="17">W</text>
<text transform="translate(64.3,417.2)" font-size="17.5">7th-layer</text>
<line x1="316.9" y1="407.1" x2="357.9" y2="407.1" stroke="#6a00ff" stroke-width="2"/>
<text transform="translate(361.8,413.1)" font-size="17">Zn</text>
<text transform="translate(64.3,477.1)" font-size="17.5">8th-layer</text>
<line x1="316.9" y1="468.5" x2="357.9" y2="468.5" stroke="#ff0000" stroke-width="2"/>
<text transform="translate(361.8,474.5)" font-size="17">O</text>
<text transform="translate(64.3,537.5)" font-size="17.5">9th-layer</text>
<line x1="316.9" y1="529.9" x2="357.9" y2="529.9" stroke="#ff0000" stroke-width="2"/>
<text transform="translate(361.8,535.9)" font-size="17">O</text>
<text transform="translate(64.3,605.7)" font-size="17.5">10th-layer</text>
<line x1="316.9" y1="591.3" x2="357.9" y2="591.3" stroke="#6a00ff" stroke-width="2"/>
<text transform="translate(361.8,597.3)" font-size="17">Zn</text>
<text transform="translate(64.3,662.2)" font-size="17.5">11th-layer</text>
<line x1="316.9" y1="652.7" x2="357.9" y2="652.7" stroke="#000000" stroke-width="2"/>
<text transform="translate(361.8,658.7)" font-size="17">W</text>
<text transform="translate(64.3,724.4)" font-size="17.5">12th-layer</text>
<line x1="316.9" y1="714.1" x2="357.9" y2="714.1" stroke="#ff0000" stroke-width="2"/>
<text transform="translate(361.8,720.1)" font-size="17">O</text>
<line x1="460.5" y1="92.4" x2="465" y2="92.4" stroke="#000" stroke-width="1.5"/>
<line x1="460.5" y1="76.8" x2="463.1" y2="76.8" stroke="#000" stroke-width="1.5"/>
<line x1="460.5" y1="61.21" x2="465" y2="61.21" stroke="#000" stroke-width="1.5"/>
<line x1="460.5" y1="45.61" x2="463.1" y2="45.61" stroke="#000" stroke-width="1.5"/>
<text transform="translate(453.6,99.4) scale(0.920,1)" font-size="20.8" text-anchor="end">0</text>
<text transform="translate(453.6,68.21) scale(0.920,1)" font-size="20.8" text-anchor="end">3</text>
<line x1="460.5" y1="153.8" x2="465" y2="153.8" stroke="#000" stroke-width="1.5"/>
<line x1="460.5" y1="138.2" x2="463.1" y2="138.2" stroke="#000" stroke-width="1.5"/>
<line x1="460.5" y1="122.61" x2="465" y2="122.61" stroke="#000" stroke-width="1.5"/>
<line x1="460.5" y1="107.01" x2="463.1" y2="107.01" stroke="#000" stroke-width="1.5"/>
<text transform="translate(453.6,160.8) scale(0.920,1)" font-size="20.8" text-anchor="end">0</text>
<text transform="translate(453.6,129.61) scale(0.920,1)" font-size="20.8" text-anchor="end">3</text>
<line x1="460.5" y1="215.2" x2="465" y2="215.2" stroke="#000" stroke-width="1.5"/>
<line x1="460.5" y1="199.6" x2="463.1" y2="199.6" stroke="#000" stroke-width="1.5"/>
<line x1="460.5" y1="184.01" x2="465" y2="184.01" stroke="#000" stroke-width="1.5"/>
<line x1="460.5" y1="168.41" x2="463.1" y2="168.41" stroke="#000" stroke-width="1.5"/>
<text transform="translate(453.6,222.2) scale(0.920,1)" font-size="20.8" text-anchor="end">0</text>
<text transform="translate(453.6,191.01) scale(0.920,1)" font-size="20.8" text-anchor="end">3</text>
<line x1="460.5" y1="276.6" x2="465" y2="276.6" stroke="#000" stroke-width="1.5"/>
<line x1="460.5" y1="261" x2="463.1" y2="261" stroke="#000" stroke-width="1.5"/>
<line x1="460.5" y1="245.41" x2="465" y2="245.41" stroke="#000" stroke-width="1.5"/>
<line x1="460.5" y1="229.81" x2="463.1" y2="229.81" stroke="#000" stroke-width="1.5"/>
<text transform="translate(453.6,283.6) scale(0.920,1)" font-size="20.8" text-anchor="end">0</text>
<text transform="translate(453.6,252.41) scale(0.920,1)" font-size="20.8" text-anchor="end">3</text>
<line x1="460.5" y1="338" x2="465" y2="338" stroke="#000" stroke-width="1.5"/>
<line x1="460.5" y1="322.4" x2="463.1" y2="322.4" stroke="#000" stroke-width="1.5"/>
<line x1="460.5" y1="306.81" x2="465" y2="306.81" stroke="#000" stroke-width="1.5"/>
<line x1="460.5" y1="291.21" x2="463.1" y2="291.21" stroke="#000" stroke-width="1.5"/>
<text transform="translate(453.6,345) scale(0.920,1)" font-size="20.8" text-anchor="end">0</text>
<text transform="translate(453.6,313.81) scale(0.920,1)" font-size="20.8" text-anchor="end">3</text>
<line x1="460.5" y1="399.4" x2="465" y2="399.4" stroke="#000" stroke-width="1.5"/>
<line x1="460.5" y1="383.8" x2="463.1" y2="383.8" stroke="#000" stroke-width="1.5"/>
<line x1="460.5" y1="368.21" x2="465" y2="368.21" stroke="#000" stroke-width="1.5"/>
<line x1="460.5" y1="352.61" x2="463.1" y2="352.61" stroke="#000" stroke-width="1.5"/>
<text transform="translate(453.6,406.4) scale(0.920,1)" font-size="20.8" text-anchor="end">0</text>
<text transform="translate(453.6,375.21) scale(0.920,1)" font-size="20.8" text-anchor="end">3</text>
<line x1="460.5" y1="460.8" x2="465" y2="460.8" stroke="#000" stroke-width="1.5"/>
<line x1="460.5" y1="445.2" x2="463.1" y2="445.2" stroke="#000" stroke-width="1.5"/>
<line x1="460.5" y1="429.61" x2="465" y2="429.61" stroke="#000" stroke-width="1.5"/>
<line x1="460.5" y1="414.01" x2="463.1" y2="414.01" stroke="#000" stroke-width="1.5"/>
<text transform="translate(453.6,467.8) scale(0.920,1)" font-size="20.8" text-anchor="end">0</text>
<text transform="translate(453.6,436.61) scale(0.920,1)" font-size="20.8" text-anchor="end">3</text>
<line x1="460.5" y1="522.2" x2="465" y2="522.2" stroke="#000" stroke-width="1.5"/>
<line x1="460.5" y1="506.6" x2="463.1" y2="506.6" stroke="#000" stroke-width="1.5"/>
<line x1="460.5" y1="491.01" x2="465" y2="491.01" stroke="#000" stroke-width="1.5"/>
<line x1="460.5" y1="475.41" x2="463.1" y2="475.41" stroke="#000" stroke-width="1.5"/>
<text transform="translate(453.6,529.2) scale(0.920,1)" font-size="20.8" text-anchor="end">0</text>
<text transform="translate(453.6,498.01) scale(0.920,1)" font-size="20.8" text-anchor="end">3</text>
<line x1="460.5" y1="583.6" x2="465" y2="583.6" stroke="#000" stroke-width="1.5"/>
<line x1="460.5" y1="568" x2="463.1" y2="568" stroke="#000" stroke-width="1.5"/>
<line x1="460.5" y1="552.41" x2="465" y2="552.41" stroke="#000" stroke-width="1.5"/>
<line x1="460.5" y1="536.81" x2="463.1" y2="536.81" stroke="#000" stroke-width="1.5"/>
<text transform="translate(453.6,590.6) scale(0.920,1)" font-size="20.8" text-anchor="end">0</text>
<text transform="translate(453.6,559.41) scale(0.920,1)" font-size="20.8" text-anchor="end">3</text>
<line x1="460.5" y1="645" x2="465" y2="645" stroke="#000" stroke-width="1.5"/>
<line x1="460.5" y1="629.4" x2="463.1" y2="629.4" stroke="#000" stroke-width="1.5"/>
<line x1="460.5" y1="613.81" x2="465" y2="613.81" stroke="#000" stroke-width="1.5"/>
<line x1="460.5" y1="598.21" x2="463.1" y2="598.21" stroke="#000" stroke-width="1.5"/>
<text transform="translate(453.6,652) scale(0.920,1)" font-size="20.8" text-anchor="end">0</text>
<text transform="translate(453.6,620.81) scale(0.920,1)" font-size="20.8" text-anchor="end">3</text>
<line x1="460.5" y1="706.4" x2="465" y2="706.4" stroke="#000" stroke-width="1.5"/>
<line x1="460.5" y1="690.8" x2="463.1" y2="690.8" stroke="#000" stroke-width="1.5"/>
<line x1="460.5" y1="675.21" x2="465" y2="675.21" stroke="#000" stroke-width="1.5"/>
<line x1="460.5" y1="659.61" x2="463.1" y2="659.61" stroke="#000" stroke-width="1.5"/>
<text transform="translate(453.6,713.4) scale(0.920,1)" font-size="20.8" text-anchor="end">0</text>
<text transform="translate(453.6,682.21) scale(0.920,1)" font-size="20.8" text-anchor="end">3</text>
<line x1="460.5" y1="767.8" x2="465" y2="767.8" stroke="#000" stroke-width="1.5"/>
<line x1="460.5" y1="752.2" x2="463.1" y2="752.2" stroke="#000" stroke-width="1.5"/>
<line x1="460.5" y1="736.61" x2="465" y2="736.61" stroke="#000" stroke-width="1.5"/>
<line x1="460.5" y1="721.01" x2="463.1" y2="721.01" stroke="#000" stroke-width="1.5"/>
<text transform="translate(453.6,774.8) scale(0.920,1)" font-size="20.8" text-anchor="end">0</text>
<text transform="translate(453.6,743.61) scale(0.920,1)" font-size="20.8" text-anchor="end">3</text>
<line x1="460.5" y1="92.4" x2="792.6" y2="92.4" stroke="#000" stroke-width="2.5"/>
<line x1="460.5" y1="153.8" x2="792.6" y2="153.8" stroke="#000" stroke-width="2.5"/>
<line x1="460.5" y1="215.2" x2="792.6" y2="215.2" stroke="#000" stroke-width="2.5"/>
<line x1="460.5" y1="276.6" x2="792.6" y2="276.6" stroke="#000" stroke-width="2.5"/>
<line x1="460.5" y1="338" x2="792.6" y2="338" stroke="#000" stroke-width="2.5"/>
<line x1="460.5" y1="399.4" x2="792.6" y2="399.4" stroke="#000" stroke-width="2.5"/>
<line x1="460.5" y1="460.8" x2="792.6" y2="460.8" stroke="#000" stroke-width="2.5"/>
<line x1="460.5" y1="522.2" x2="792.6" y2="522.2" stroke="#000" stroke-width="2.5"/>
<line x1="460.5" y1="583.6" x2="792.6" y2="583.6" stroke="#000" stroke-width="2.5"/>
<line x1="460.5" y1="645" x2="792.6" y2="645" stroke="#000" stroke-width="2.5"/>
<line x1="460.5" y1="706.4" x2="792.6" y2="706.4" stroke="#000" stroke-width="2.5"/>
<rect x="460.5" y="31" width="332.1" height="736.8" fill="none" stroke="#000" stroke-width="2.0"/>
<line x1="484.22" y1="767.8" x2="484.22" y2="765.2" stroke="#000" stroke-width="1.5"/>
<line x1="507.94" y1="767.8" x2="507.94" y2="763.3" stroke="#000" stroke-width="1.5"/>
<line x1="531.66" y1="767.8" x2="531.66" y2="765.2" stroke="#000" stroke-width="1.5"/>
<line x1="555.39" y1="767.8" x2="555.39" y2="763.3" stroke="#000" stroke-width="1.5"/>
<line x1="579.11" y1="767.8" x2="579.11" y2="765.2" stroke="#000" stroke-width="1.5"/>
<line x1="602.83" y1="767.8" x2="602.83" y2="763.3" stroke="#000" stroke-width="1.5"/>
<line x1="626.55" y1="767.8" x2="626.55" y2="765.2" stroke="#000" stroke-width="1.5"/>
<line x1="650.27" y1="767.8" x2="650.27" y2="763.3" stroke="#000" stroke-width="1.5"/>
<line x1="673.99" y1="767.8" x2="673.99" y2="765.2" stroke="#000" stroke-width="1.5"/>
<line x1="697.71" y1="767.8" x2="697.71" y2="763.3" stroke="#000" stroke-width="1.5"/>
<line x1="721.44" y1="767.8" x2="721.44" y2="765.2" stroke="#000" stroke-width="1.5"/>
<line x1="745.16" y1="767.8" x2="745.16" y2="763.3" stroke="#000" stroke-width="1.5"/>
<line x1="768.88" y1="767.8" x2="768.88" y2="765.2" stroke="#000" stroke-width="1.5"/>
<text transform="translate(460.5,789.5)" font-size="19.5" text-anchor="middle">-8</text>
<text transform="translate(507.94,789.5)" font-size="19.5" text-anchor="middle">-6</text>
<text transform="translate(555.39,789.5)" font-size="19.5" text-anchor="middle">-4</text>
<text transform="translate(602.83,789.5)" font-size="19.5" text-anchor="middle">-2</text>
<text transform="translate(650.27,789.5)" font-size="19.5" text-anchor="middle">0</text>
<text transform="translate(697.71,789.5)" font-size="19.5" text-anchor="middle">2</text>
<text transform="translate(745.16,789.5)" font-size="19.5" text-anchor="middle">4</text>
<text transform="translate(792.6,789.5)" font-size="19.5" text-anchor="middle">6</text>
<polyline points="455.0,92.4 457.0,92.4 459.0,92.4 461.0,92.4 463.0,92.4 465.0,92.4 467.0,92.4 469.0,92.4 471.0,92.4 473.0,92.4 475.0,92.4 477.0,92.4 479.0,92.4 481.0,92.4 483.0,92.4 485.0,92.4 486.6,92.4 488.2,92.4 489.8,92.4 491.4,92.4 493.0,91.3 494.6,90.1 496.1,84.8 497.3,78.4 498.8,76.3 500.3,81.6 503.1,82.2 504.7,85.4 506.3,82.7 508.4,84.8 510.0,84.2 511.6,83.7 513.2,84.2 514.8,84.8 516.4,86.3 518.0,86.9 519.6,87.1 521.2,84.8 523.3,82.7 525.4,86.9 527.6,84.8 529.7,82.7 531.8,81.6 533.9,83.7 536.1,84.8 538.2,82.7 539.9,78.4 541.4,79.5 543.5,81.6 545.6,80.5 547.8,81.6 549.9,83.7 552.0,81.6 554.1,82.7 555.7,83.8 557.3,85.9 558.9,84.3 560.5,84.8 562.7,80.5 564.1,81.6 565.9,83.7 568.0,83.7 570.1,82.7 572.2,84.8 574.4,82.7 576.5,83.7 578.6,81.6 580.7,82.7 582.9,81.6 585.0,82.7 587.1,80.5 589.3,79.5 591.4,80.5 593.5,78.4 595.2,84.8 596.7,86.9 598.2,78.4 599.9,77.3 602.0,76.3 604.1,77.3 606.3,75.2 608.4,76.3 610.5,75.2 612.2,73.1 613.7,79.5 615.9,76.3 618.0,71.0 620.1,69.9 622.2,67.8 623.7,71.0 625.0,66.7 626.5,73.1 628.0,67.8 629.7,71.0 631.4,74.1 632.9,64.6 634.4,68.8 636.1,74.1 637.8,67.8 639.7,63.1 641.4,67.8 642.9,73.1 644.6,82.7 646.3,91.2 647.8,92.4 649.6,92.4 651.4,92.4 653.2,92.4 655.0,92.4 657.0,92.4 659.0,92.4 661.0,92.4 663.0,92.4 665.0,92.4 667.0,92.4 669.1,92.4 671.1,92.4 673.1,92.4 675.1,92.4 677.1,92.4 679.1,92.4 681.1,92.4 683.1,92.4 685.1,92.4 687.1,92.4 689.1,92.4 691.1,92.4 693.1,92.4 695.1,92.4 697.2,92.4 699.2,92.4 701.2,92.4 703.2,92.4 705.2,92.4 707.2,92.4 709.2,92.4 711.2,92.4 713.2,92.4 715.2,92.4 717.2,92.4 719.2,92.4 721.2,92.4 723.2,92.4 725.3,92.4 727.3,92.4 729.3,92.4 731.3,92.4 733.3,92.4 735.3,92.4 737.3,92.4 739.3,92.4 741.3,92.4 743.3,92.4 745.3,92.4 747.3,92.4 749.3,92.4 751.3,92.4 753.4,92.4 755.4,92.4 757.4,92.4 759.4,92.4 761.4,92.4 763.5,91.5 765.6,90.6 767.8,89.6 769.9,88.7 772.0,86.7 774.1,85.3 776.3,88.6 778.4,87.4 780.5,86.8 782.7,89.7 784.8,87.3 786.9,88.3 788.9,91.1 791.0,89.6 793.0,91.5 795.0,90.9" fill="none" stroke="#ff0000" stroke-width="2.2" stroke-linejoin="round" clip-path="url(#caR0)"/>
<polyline points="455.0,153.8 457.0,153.8 459.0,153.8 461.0,153.8 463.0,153.8 465.0,153.8 467.0,153.8 469.0,153.8 471.0,153.8 473.0,153.8 475.0,153.8 477.0,153.8 479.0,153.8 481.0,153.8 483.0,153.8 485.0,153.8 487.1,153.8 489.3,153.8 490.9,153.8 492.4,153.8 494.6,150.9 496.1,143.4 497.8,138.1 499.5,136.0 501.0,138.1 503.1,140.2 505.2,140.2 507.3,144.5 509.5,146.6 511.6,147.7 513.2,148.3 514.8,148.7 516.4,148.4 518.0,149.8 520.1,147.7 522.2,146.0 524.4,147.7 526.5,146.6 528.6,143.4 530.7,144.5 532.9,142.3 535.0,144.5 537.1,145.5 539.3,143.4 540.7,138.7 542.4,143.4 544.6,142.3 546.7,144.5 548.8,143.4 551.0,144.5 553.1,142.3 555.2,145.5 557.3,144.5 559.5,147.7 561.6,145.5 563.7,143.4 565.9,144.5 568.0,142.3 570.1,144.5 572.2,146.6 574.4,143.4 576.5,144.5 578.6,142.3 580.7,144.5 582.9,145.5 585.0,143.4 587.1,145.5 589.3,144.5 591.4,145.1 593.5,144.5 595.2,147.7 596.7,150.9 598.8,146.6 601.0,145.5 603.1,147.2 605.2,147.7 607.3,147.2 609.5,148.7 611.6,147.7 613.7,148.7 615.9,149.8 618.0,149.8 620.1,150.9 622.2,151.5 623.8,151.3 625.4,149.8 627.0,151.1 628.6,151.5 630.2,151.8 631.8,150.9 633.4,149.9 635.0,151.9 636.6,152.9 638.2,153.8 640.3,153.8 642.4,153.8 644.6,153.8 646.7,153.8 648.8,153.8 650.9,153.8 652.9,153.8 655.0,153.8 657.0,153.8 659.0,153.8 661.0,153.8 663.0,153.8 665.0,153.8 667.0,153.8 668.9,153.8 670.9,153.8 672.9,153.8 674.9,153.8 676.9,153.8 678.9,153.8 680.9,153.8 682.9,153.8 684.9,153.8 686.9,153.8 688.9,153.8 690.9,153.8 692.8,153.8 694.8,153.8 696.8,153.8 698.8,153.8 700.8,153.8 702.8,153.8 704.8,153.8 706.8,153.8 708.8,153.8 710.8,153.8 712.8,153.8 714.8,153.8 716.7,153.8 718.7,153.8 720.7,153.8 722.7,153.8 724.7,153.8 726.7,153.8 728.7,153.8 730.7,153.8 732.7,153.8 734.7,153.8 736.7,153.8 738.7,153.8 740.6,153.8 742.6,153.8 744.6,153.8 746.6,153.8 748.6,153.8 750.7,151.5 752.9,149.1 755.0,145.7 757.1,141.5 758.8,137.1 760.5,134.3 762.7,128.9 764.8,130.0 767.8,132.1 770.7,122.8 773.3,124.5 776.3,130.0 779.3,134.3 781.4,130.8 783.5,136.4 785.6,138.8 787.8,141.5 789.5,145.9 791.2,147.0 793.1,150.1 795.0,152.6" fill="none" stroke="#000000" stroke-width="2.2" stroke-linejoin="round" clip-path="url(#caR1)"/>
<polyline points="455.0,215.2 457.5,215.2 460.0,215.2 462.0,215.2 464.1,215.2 466.1,215.2 468.2,215.2 470.2,215.2 472.2,215.2 474.3,215.2 476.3,215.2 478.3,215.2 480.4,215.2 482.4,215.2 484.5,215.2 486.5,215.2 488.5,215.2 490.8,213.1 492.3,210.9 493.8,209.3 495.7,207.1 496.8,195.0 497.5,180.0 498.3,165.0 498.7,150.0 500.6,150.0 502.4,150.0 504.3,150.0 505.8,156.0 508.0,159.0 510.3,162.0 511.8,168.0 513.3,180.0 514.4,172.5 515.6,150.0 517.1,150.0 518.6,150.0 519.3,172.5 520.1,178.5 521.6,187.5 523.1,193.5 524.6,198.0 526.1,201.1 527.6,201.2 529.1,199.5 530.6,201.1 532.1,198.0 533.6,204.1 535.1,206.3 536.6,204.4 538.1,205.6 540.3,199.5 541.8,204.1 544.1,204.8 545.6,206.4 547.1,207.1 548.6,207.6 550.1,207.8 551.6,207.2 553.1,207.1 554.6,207.2 556.1,209.3 557.6,211.3 559.1,210.8 560.6,208.7 562.1,207.8 563.6,207.4 565.1,209.3 566.6,208.8 568.1,207.8 569.6,208.2 571.1,210.1 572.6,210.4 574.1,210.8 575.6,210.7 577.1,210.1 580.0,210.8 581.8,211.6 583.7,211.1 585.6,212.0 587.4,211.3 589.3,210.7 591.2,210.4 593.1,211.4 595.0,211.6 596.8,210.9 598.7,212.3 600.6,210.7 602.5,210.7 604.4,210.8 606.3,209.7 608.2,210.9 610.1,210.3 612.0,212.6 613.9,213.2 615.8,208.8 617.6,211.0 619.5,211.3 621.4,211.2 623.3,213.4 625.2,211.7 627.1,211.0 629.0,213.1 630.9,212.3 632.8,211.3 634.7,212.6 636.6,213.1 638.5,210.8 640.3,213.9 642.2,212.6 644.4,213.9 646.5,215.2 648.5,215.2 650.5,215.2 652.5,215.2 654.5,215.2 656.5,215.2 658.5,215.2 660.5,215.2 662.5,215.2 664.6,215.2 666.6,215.2 668.6,215.2 670.6,215.2 672.6,215.2 674.6,215.2 676.6,215.2 678.6,215.2 680.6,215.2 682.6,215.2 684.6,215.2 686.6,215.2 688.6,215.2 690.6,215.2 692.7,215.2 694.7,215.2 696.7,215.2 698.7,215.2 700.7,215.2 702.7,215.2 704.7,215.2 706.7,215.2 708.7,215.2 710.7,215.2 712.7,215.2 714.7,215.2 716.7,215.2 718.7,215.2 720.8,215.2 722.8,215.2 724.8,215.2 726.8,215.2 728.8,215.2 730.8,215.2 732.8,215.2 734.8,215.2 736.8,215.2 738.8,215.2 740.8,215.2 742.8,215.2 744.8,215.2 746.9,215.2 748.9,215.2 750.9,215.2 752.9,215.2 755.0,214.6 757.1,214.1 759.3,213.5 761.4,213.0 763.5,211.9 765.6,214.8 767.8,213.9 769.9,213.8 772.0,214.3 774.1,213.1 776.3,214.6 778.4,213.8 780.5,214.0 782.6,214.2 784.6,214.3 786.7,214.5 788.8,214.7 790.9,214.9 792.9,215.0 795.0,215.2" fill="none" stroke="#6a00ff" stroke-width="2.2" stroke-linejoin="round" clip-path="url(#caR2)"/>
<polyline points="455.0,276.6 457.5,276.6 460.0,276.6 462.0,276.6 464.0,276.6 466.0,276.6 468.0,276.6 470.0,276.6 472.0,276.6 474.0,276.6 476.0,276.6 478.0,276.6 480.0,276.6 482.0,276.6 484.0,276.6 486.0,276.6 488.0,276.6 490.0,276.6 491.5,275.4 493.8,273.9 496.0,274.6 497.5,264.1 499.8,261.9 502.0,261.1 503.5,257.9 505.0,261.1 507.3,265.6 509.5,270.1 511.1,271.8 512.6,273.1 514.8,272.8 517.1,273.9 518.6,275.3 520.1,272.4 521.6,270.9 523.1,273.1 524.6,273.6 526.1,272.4 527.6,271.9 529.1,270.9 530.6,270.7 532.1,270.1 533.6,271.8 535.1,271.6 536.6,272.6 538.1,270.9 539.6,269.1 541.1,266.4 542.6,269.7 544.1,268.6 545.6,267.9 547.1,267.9 548.6,268.3 550.1,268.6 551.6,264.9 553.1,263.4 554.6,267.1 556.1,267.3 557.6,268.6 559.1,269.9 560.6,265.6 562.1,264.1 563.6,263.4 565.1,266.4 566.6,259.9 568.1,259.6 569.6,260.8 571.1,264.1 572.6,261.4 574.1,261.9 575.6,258.8 577.1,261.1 580.0,258.1 580.3,262.3 582.4,265.5 584.6,262.3 586.7,261.3 589.3,263.4 590.7,256.6 592.4,259.1 593.9,262.3 595.2,265.5 596.3,270.9 597.8,264.5 599.9,258.1 602.0,261.3 604.1,264.5 606.3,263.4 608.4,263.8 610.5,260.2 612.7,262.3 614.8,261.3 616.9,259.1 619.0,257.0 621.2,259.1 623.3,256.0 625.0,254.9 626.3,251.7 627.6,259.1 629.3,261.3 631.4,258.1 632.9,256.0 634.4,260.2 636.5,261.3 638.6,257.0 640.3,259.1 642.4,262.3 644.1,269.8 645.6,275.1 647.1,276.6 649.1,276.6 651.1,276.6 653.0,276.6 655.0,276.6 657.0,276.6 659.0,276.6 661.0,276.6 663.0,276.6 665.0,276.6 667.0,276.6 669.1,276.6 671.1,276.6 673.1,276.6 675.1,276.6 677.1,276.6 679.1,276.6 681.1,276.6 683.1,276.6 685.1,276.6 687.1,276.6 689.1,276.6 691.1,276.6 693.1,276.6 695.1,276.6 697.2,276.6 699.2,276.6 701.2,276.6 703.2,276.6 705.2,276.6 707.2,276.6 709.2,276.6 711.2,276.6 713.2,276.6 715.2,276.6 717.2,276.6 719.2,276.6 721.2,276.6 723.2,276.6 725.3,276.6 727.3,276.6 729.3,276.6 731.3,276.6 733.3,276.6 735.3,276.6 737.3,276.6 739.3,276.6 741.3,276.6 743.3,276.6 745.3,276.6 747.3,276.6 749.3,276.6 751.3,276.6 753.4,276.6 755.4,276.6 757.4,276.6 759.4,276.6 761.4,276.6 763.5,274.6 765.6,272.6 767.8,269.6 769.9,270.0 772.0,269.1 774.1,269.3 776.3,271.3 778.4,271.2 780.5,269.3 782.7,271.3 784.8,271.6 786.9,273.4 789.0,273.4 791.0,274.4 793.0,275.0 795.0,275.5" fill="none" stroke="#ff0000" stroke-width="2.2" stroke-linejoin="round" clip-path="url(#caR3)"/>
<polyline points="455.0,338.0 457.0,338.0 459.0,338.0 461.0,338.0 463.0,338.0 465.0,338.0 467.0,338.0 469.0,338.0 471.0,338.0 473.0,338.0 475.0,338.0 477.0,338.0 479.0,338.0 481.0,338.0 483.0,338.0 485.0,338.0 486.6,338.0 488.2,338.0 490.3,335.1 492.4,334.0 494.6,333.0 496.1,328.7 497.3,325.1 499.5,324.5 501.6,325.5 503.7,326.0 505.9,327.2 508.0,327.7 510.1,330.9 512.2,333.0 514.8,334.5 516.4,332.9 518.0,334.5 519.6,332.6 521.2,333.6 522.8,333.2 524.4,332.3 526.0,332.5 527.6,331.9 529.1,333.3 530.7,331.5 533.5,332.3 536.1,333.0 538.2,331.9 539.9,327.7 542.0,327.2 544.1,328.7 546.3,327.7 548.4,330.9 550.5,329.8 552.7,328.7 554.8,327.7 556.9,329.8 559.0,326.6 561.2,323.8 563.3,326.6 565.4,323.0 567.6,320.9 569.7,321.3 571.8,328.7 573.9,324.5 576.1,323.0 578.2,323.8 580.3,320.9 582.4,323.4 584.6,323.8 586.7,321.7 588.8,323.0 591.0,321.7 593.1,320.9 594.6,321.3 596.1,329.8 597.8,323.0 599.9,318.7 602.0,323.8 604.1,326.6 606.3,323.8 608.4,321.3 610.5,325.1 612.7,327.2 614.8,323.8 616.9,320.9 619.0,321.7 620.7,320.9 622.2,313.8 623.7,315.3 625.4,319.1 627.1,317.4 628.6,322.3 630.1,318.7 632.2,319.6 633.9,323.0 636.1,319.1 638.2,320.9 640.3,320.2 642.0,322.3 643.5,330.9 645.0,336.2 646.7,338.0 648.8,338.0 650.9,338.0 652.9,338.0 655.0,338.0 657.0,338.0 659.0,338.0 661.0,338.0 663.0,338.0 665.0,338.0 667.0,338.0 669.0,338.0 671.0,338.0 673.0,338.0 675.0,338.0 677.0,338.0 679.0,338.0 681.0,338.0 683.0,338.0 685.0,338.0 687.0,338.0 689.0,338.0 691.0,338.0 693.0,338.0 695.1,338.0 697.1,338.0 699.1,338.0 701.1,338.0 703.1,338.0 705.1,338.0 707.1,338.0 709.1,338.0 711.1,338.0 713.1,338.0 715.1,338.0 717.1,338.0 719.1,338.0 721.1,338.0 723.1,338.0 725.1,338.0 727.1,338.0 729.1,338.0 731.1,338.0 733.1,338.0 735.1,338.0 737.1,338.0 739.1,338.0 741.1,338.0 743.1,338.0 745.1,338.0 747.1,338.0 749.1,338.0 751.1,338.0 753.1,338.0 755.1,338.0 757.1,338.0 759.3,335.2 761.4,332.4 763.5,334.5 765.6,329.5 767.8,328.7 769.9,329.4 772.0,331.2 774.1,329.3 776.3,329.3 778.4,330.3 780.5,330.3 782.7,333.9 784.8,332.4 786.9,332.5 789.0,337.0 791.2,334.6 793.1,336.3 795.0,338.0" fill="none" stroke="#ff0000" stroke-width="2.2" stroke-linejoin="round" clip-path="url(#caR4)"/>
<polyline points="455.0,399.4 457.5,399.4 460.0,399.4 462.0,399.4 463.9,399.4 465.9,399.4 467.8,399.4 469.8,399.4 471.7,399.4 473.7,399.4 475.6,399.4 477.6,399.4 479.5,399.4 481.5,399.4 483.4,399.4 485.4,399.4 487.3,399.4 489.3,399.4 490.8,393.1 491.5,387.1 493.8,384.1 494.8,391.6 496.0,384.1 497.5,370.6 499.0,357.1 500.5,340.6 501.7,336.1 503.4,336.1 505.0,336.1 506.5,339.8 508.0,343.6 509.5,346.6 511.1,342.1 512.6,341.3 514.1,339.1 514.8,336.1 516.3,336.1 517.1,345.1 518.6,354.1 520.1,360.1 521.3,370.6 522.3,381.1 524.6,384.1 526.8,385.0 529.1,384.9 530.6,384.4 532.1,384.1 533.6,388.6 535.1,388.0 536.6,391.6 538.1,392.3 539.6,393.1 541.1,383.4 543.3,389.4 545.2,389.6 547.1,393.1 548.6,392.0 550.1,393.9 552.1,393.3 554.1,393.5 556.1,393.1 557.6,392.6 559.1,395.4 560.6,394.2 562.1,393.1 563.6,396.0 565.1,394.6 566.6,396.1 568.1,393.9 569.6,394.3 571.1,395.4 572.6,397.3 574.1,396.9 575.6,397.2 577.1,394.6 580.0,393.1 582.7,395.4 584.6,393.0 586.4,395.5 588.3,396.9 590.2,394.4 592.1,395.7 594.0,395.1 595.9,396.5 597.8,394.6 599.7,396.3 601.6,395.8 603.5,398.3 605.4,397.9 607.2,397.2 609.1,395.6 611.0,396.1 612.9,394.9 614.8,396.8 616.7,396.7 618.6,396.6 620.5,398.2 622.4,397.4 624.3,397.9 626.2,397.3 628.0,398.9 629.9,396.6 631.8,398.2 633.7,397.6 635.9,396.9 638.0,396.8 640.1,397.5 642.2,398.0 644.4,398.7 646.5,399.4 648.5,399.4 650.5,399.4 652.5,399.4 654.5,399.4 656.5,399.4 658.5,399.4 660.5,399.4 662.5,399.4 664.6,399.4 666.6,399.4 668.6,399.4 670.6,399.4 672.6,399.4 674.6,399.4 676.6,399.4 678.6,399.4 680.6,399.4 682.6,399.4 684.6,399.4 686.6,399.4 688.6,399.4 690.6,399.4 692.7,399.4 694.7,399.4 696.7,399.4 698.7,399.4 700.7,399.4 702.7,399.4 704.7,399.4 706.7,399.4 708.7,399.4 710.7,399.4 712.7,399.4 714.7,399.4 716.7,399.4 718.7,399.4 720.8,399.4 722.8,399.4 724.8,399.4 726.8,399.4 728.8,399.4 730.8,399.4 732.8,399.4 734.8,399.4 736.8,399.4 738.8,399.4 740.8,399.4 742.8,399.4 744.8,399.4 746.9,399.4 748.9,399.4 750.9,399.4 752.9,399.4 755.0,398.9 757.1,398.5 759.3,398.0 761.4,397.6 763.5,396.9 765.6,397.7 767.8,398.8 769.9,398.0 772.0,398.9 774.1,397.7 776.3,397.5 778.4,399.0 780.5,398.5 782.7,398.4 784.7,398.6 786.8,398.7 788.8,398.9 790.9,399.1 792.9,399.2 795.0,399.4" fill="none" stroke="#6a00ff" stroke-width="2.2" stroke-linejoin="round" clip-path="url(#caR5)"/>
<polyline points="455.0,460.8 457.0,460.8 459.0,460.8 461.0,460.8 463.0,460.8 465.0,460.8 467.0,460.8 469.0,460.8 471.0,460.8 473.0,460.8 475.0,460.8 477.0,460.8 479.0,460.8 481.0,460.8 483.0,460.8 485.0,460.8 486.6,460.8 488.2,460.8 489.3,459.0 490.3,450.5 491.8,450.1 493.1,453.7 494.6,448.8 496.7,448.8 498.8,448.0 501.0,447.3 502.4,446.3 503.7,448.0 505.2,451.6 507.3,452.7 509.5,454.4 511.6,456.5 513.7,458.0 515.9,456.9 518.0,455.9 520.1,454.4 522.2,453.1 524.4,451.6 526.5,452.2 528.6,450.5 530.7,450.1 532.9,452.2 535.0,453.1 537.1,451.0 539.3,448.8 540.7,445.2 542.0,448.0 543.5,450.1 545.6,452.2 547.8,453.7 549.9,451.6 552.0,451.0 554.1,453.1 556.3,452.2 558.4,454.8 560.5,453.1 562.7,451.6 564.8,453.7 566.9,451.0 569.0,452.7 571.2,453.7 573.3,451.0 575.4,450.1 577.6,451.6 579.7,451.6 581.8,451.0 583.9,452.2 586.1,451.6 588.2,452.7 590.3,451.6 592.4,453.1 594.6,455.9 596.7,458.0 598.8,455.2 601.0,454.4 603.1,453.7 605.2,453.7 607.3,452.7 609.5,454.8 611.6,456.9 613.7,457.3 615.9,455.9 618.0,457.3 620.1,458.0 622.2,456.9 624.4,458.0 626.5,458.6 628.6,458.0 630.7,458.6 632.3,458.3 633.9,459.0 636.1,460.2 638.2,459.5 640.3,460.1 642.4,460.8 644.6,460.8 646.7,460.8 648.8,460.8 650.9,460.8 652.9,460.8 655.0,460.8 657.0,460.8 659.0,460.8 661.0,460.8 663.0,460.8 665.0,460.8 667.0,460.8 668.9,460.8 670.9,460.8 672.9,460.8 674.9,460.8 676.9,460.8 678.9,460.8 680.9,460.8 682.9,460.8 684.9,460.8 686.9,460.8 688.9,460.8 690.9,460.8 692.8,460.8 694.8,460.8 696.8,460.8 698.8,460.8 700.8,460.8 702.8,460.8 704.8,460.8 706.8,460.8 708.8,460.8 710.8,460.8 712.8,460.8 714.8,460.8 716.7,460.8 718.7,460.8 720.7,460.8 722.7,460.8 724.7,460.8 726.7,460.8 728.7,460.8 730.7,460.8 732.7,460.8 734.7,460.8 736.7,460.8 738.7,460.8 740.6,460.8 742.6,460.8 744.6,460.8 746.6,460.8 748.6,460.8 750.3,457.6 752.0,454.4 755.0,445.9 758.0,439.6 760.5,436.1 763.5,438.7 765.6,447.2 767.8,443.8 769.9,433.2 772.0,425.9 774.1,431.0 776.3,439.6 778.4,435.3 780.5,443.8 782.7,445.0 784.8,447.2 786.9,451.0 789.0,452.3 791.0,455.0 793.0,459.2 795.0,460.0" fill="none" stroke="#000000" stroke-width="2.2" stroke-linejoin="round" clip-path="url(#caR6)"/>
<polyline points="455.0,522.2 457.0,522.2 459.0,522.2 461.0,522.2 463.0,522.2 465.0,522.2 467.0,522.2 469.0,522.2 471.0,522.2 473.0,522.2 475.0,522.2 477.0,522.2 479.0,522.2 481.0,522.2 483.0,522.2 485.0,522.2 486.6,522.2 488.2,522.2 489.7,518.6 491.0,513.7 492.4,513.1 493.9,518.6 495.2,521.2 496.7,517.3 498.8,514.8 501.0,512.2 503.1,509.5 504.6,512.7 506.3,514.8 507.9,515.8 509.5,515.9 511.1,518.3 512.7,515.9 514.3,516.2 515.9,516.5 517.4,514.5 519.0,515.9 521.2,516.9 523.3,518.0 525.4,515.9 527.6,514.8 529.7,513.7 531.8,513.1 533.9,514.8 536.1,516.5 538.2,514.4 539.9,509.5 541.0,505.2 542.0,510.1 543.5,512.2 545.6,513.7 547.8,515.9 549.9,512.2 552.0,511.6 554.1,513.1 556.3,511.0 558.4,516.5 560.5,517.3 562.7,515.2 564.8,514.4 566.9,515.9 569.0,516.5 571.2,518.0 573.3,515.2 575.4,513.7 577.6,512.2 579.7,511.6 581.8,513.1 583.9,511.0 586.1,513.1 588.2,512.2 590.3,510.1 592.4,511.0 594.6,512.2 596.7,510.1 598.8,511.0 601.0,509.5 603.1,510.5 605.2,505.2 606.7,501.0 608.0,499.9 609.5,504.1 611.6,506.3 613.7,510.1 615.9,505.2 618.0,501.0 620.1,502.0 622.2,496.7 624.4,498.8 626.5,495.6 628.0,499.9 629.7,498.8 631.8,499.9 633.9,501.6 636.1,503.1 638.2,495.6 639.9,489.7 641.0,487.1 642.0,492.4 642.9,507.3 644.1,519.0 645.6,522.2 647.5,522.2 649.4,522.2 651.3,522.2 653.1,522.2 655.0,522.2 657.0,522.2 659.0,522.2 661.0,522.2 663.0,522.2 665.0,522.2 667.0,522.2 669.0,522.2 671.0,522.2 673.0,522.2 675.0,522.2 677.0,522.2 679.0,522.2 681.0,522.2 683.0,522.2 685.0,522.2 687.0,522.2 689.0,522.2 691.0,522.2 693.0,522.2 694.9,522.2 696.9,522.2 698.9,522.2 700.9,522.2 702.9,522.2 704.9,522.2 706.9,522.2 708.9,522.2 710.9,522.2 712.9,522.2 714.9,522.2 716.9,522.2 718.9,522.2 720.9,522.2 722.9,522.2 724.9,522.2 726.9,522.2 728.9,522.2 730.9,522.2 732.9,522.2 734.9,522.2 736.9,522.2 738.9,522.2 740.9,522.2 742.9,522.2 744.9,522.2 746.9,522.2 748.9,522.2 750.9,522.2 752.9,522.2 755.0,521.8 757.1,521.3 759.3,520.9 761.4,520.4 763.5,519.3 765.6,517.6 767.8,516.6 769.9,516.1 772.0,514.7 774.1,517.0 776.3,517.1 778.4,517.4 780.5,516.6 782.7,519.5 784.8,516.1 786.9,517.5 789.0,519.9 791.2,520.4 793.1,521.3 795.0,522.2" fill="none" stroke="#ff0000" stroke-width="2.2" stroke-linejoin="round" clip-path="url(#caR7)"/>
<polyline points="455.0,583.6 457.0,583.6 459.0,583.6 461.0,583.6 463.0,583.6 465.0,583.6 467.0,583.6 469.0,583.6 471.0,583.6 473.0,583.6 475.0,583.6 477.0,583.6 479.0,583.6 481.0,583.6 483.0,583.6 485.0,583.6 486.6,583.6 488.2,583.6 489.7,576.8 491.0,560.8 492.4,559.3 493.9,558.7 495.2,572.5 496.7,575.7 498.8,573.6 501.0,572.5 503.1,573.6 505.2,576.8 506.8,577.3 508.4,578.9 510.0,579.3 511.6,580.0 513.2,579.6 514.8,580.0 516.9,578.9 519.0,571.5 520.7,574.7 522.2,576.8 523.8,575.2 525.4,575.7 527.6,574.7 529.7,573.6 531.8,575.7 533.9,574.7 536.1,576.8 538.2,578.9 540.3,572.5 542.4,573.6 544.6,574.7 546.7,575.7 548.8,574.7 551.0,572.5 553.1,571.5 555.2,573.6 557.3,576.8 559.5,574.7 561.6,575.7 563.7,574.7 565.9,576.8 568.0,574.7 570.1,573.6 572.2,576.8 574.4,572.5 576.5,571.5 578.6,568.3 580.7,571.5 582.9,572.5 585.0,570.4 587.1,571.5 589.3,569.3 591.4,570.4 593.5,568.3 595.6,574.7 597.8,570.4 599.4,570.5 601.0,567.2 603.1,569.3 605.2,566.1 607.3,566.6 609.5,568.3 611.6,570.4 613.7,567.2 615.9,568.3 618.0,571.5 620.1,565.1 622.2,568.3 624.4,559.8 625.9,556.6 627.6,561.9 629.7,559.8 631.8,563.0 633.3,553.4 635.0,558.7 636.5,563.0 638.6,561.9 640.7,563.0 642.4,570.4 644.1,581.0 645.6,583.6 647.5,583.6 649.4,583.6 651.3,583.6 653.1,583.6 655.0,583.6 657.0,583.6 659.0,583.6 661.0,583.6 663.0,583.6 665.0,583.6 667.0,583.6 669.1,583.6 671.1,583.6 673.1,583.6 675.1,583.6 677.1,583.6 679.1,583.6 681.1,583.6 683.1,583.6 685.1,583.6 687.1,583.6 689.1,583.6 691.1,583.6 693.1,583.6 695.1,583.6 697.2,583.6 699.2,583.6 701.2,583.6 703.2,583.6 705.2,583.6 707.2,583.6 709.2,583.6 711.2,583.6 713.2,583.6 715.2,583.6 717.2,583.6 719.2,583.6 721.2,583.6 723.2,583.6 725.3,583.6 727.3,583.6 729.3,583.6 731.3,583.6 733.3,583.6 735.3,583.6 737.3,583.6 739.3,583.6 741.3,583.6 743.3,583.6 745.3,583.6 747.3,583.6 749.3,583.6 751.3,583.6 753.4,583.6 755.4,583.6 757.4,583.6 759.4,583.6 761.4,583.6 763.5,582.0 765.6,580.3 767.8,578.7 769.9,579.6 772.0,576.6 774.1,574.6 776.3,575.8 778.4,576.2 780.5,575.4 782.7,579.9 784.8,579.6 786.9,579.8 789.0,580.8 791.2,581.7 793.1,582.7 795.0,583.6" fill="none" stroke="#ff0000" stroke-width="2.2" stroke-linejoin="round" clip-path="url(#caR8)"/>
<polyline points="455.0,645.0 457.0,645.0 459.0,645.0 461.0,645.0 463.0,645.0 465.0,645.0 467.0,645.0 469.0,645.0 471.0,645.0 473.0,645.0 475.0,645.0 477.0,645.0 479.0,645.0 481.0,645.0 483.0,645.0 485.0,645.0 486.6,645.0 488.2,645.0 489.3,643.9 490.3,634.3 491.4,633.3 492.4,636.5 493.5,641.8 494.6,636.5 496.7,635.4 498.2,637.1 499.9,634.3 501.6,632.9 503.1,634.3 505.2,639.7 506.8,637.7 508.4,641.4 510.5,642.6 512.7,641.4 514.3,640.7 515.9,640.7 518.0,636.5 519.5,635.8 521.2,638.6 523.3,638.0 525.4,637.5 527.6,638.6 529.7,637.5 531.8,636.5 533.9,638.0 536.1,635.4 538.2,638.6 540.7,631.1 542.4,635.4 544.6,638.0 546.7,636.5 548.8,637.5 551.0,633.3 553.1,632.2 555.2,629.4 557.3,634.3 559.5,629.0 561.6,635.0 563.7,631.1 565.9,635.8 568.0,633.3 570.1,631.1 572.2,636.5 574.4,638.6 576.5,633.3 578.6,632.9 580.7,632.2 582.9,634.3 585.0,635.4 587.1,636.5 589.3,635.4 591.4,637.5 593.5,636.5 595.6,638.0 597.8,639.2 599.9,637.5 602.0,639.2 604.1,638.6 606.3,639.7 608.4,639.2 610.5,640.7 612.7,641.4 614.8,641.4 616.9,641.8 619.0,641.8 621.2,642.9 623.3,640.2 625.4,642.2 627.6,642.9 629.7,642.9 631.8,643.5 633.9,643.5 636.1,645.0 638.2,643.9 640.3,644.5 642.4,645.0 644.6,645.0 646.7,645.0 648.8,645.0 650.9,645.0 652.9,645.0 655.0,645.0 657.0,645.0 659.0,645.0 661.0,645.0 663.0,645.0 665.0,645.0 667.0,645.0 669.0,645.0 671.0,645.0 673.0,645.0 675.0,645.0 677.0,645.0 679.0,645.0 681.0,645.0 683.0,645.0 685.0,645.0 687.0,645.0 689.0,645.0 691.0,645.0 693.0,645.0 695.1,645.0 697.1,645.0 699.1,645.0 701.1,645.0 703.1,645.0 705.1,645.0 707.1,645.0 709.1,645.0 711.1,645.0 713.1,645.0 715.1,645.0 717.1,645.0 719.1,645.0 721.1,645.0 723.1,645.0 725.1,645.0 727.1,645.0 729.1,645.0 731.1,645.0 733.1,645.0 735.1,645.0 737.1,645.0 739.1,645.0 741.1,645.0 743.1,645.0 745.1,645.0 747.1,645.0 749.1,645.0 751.1,645.0 753.1,645.0 755.1,645.0 757.1,645.0 758.8,637.8 760.5,630.6 763.5,614.5 766.5,620.0 769.0,626.4 772.0,621.3 775.0,624.3 777.6,614.5 780.5,611.5 783.5,632.8 786.1,637.0 789.0,631.5 792.0,641.3 795.0,643.4" fill="none" stroke="#000000" stroke-width="2.2" stroke-linejoin="round" clip-path="url(#caR9)"/>
<polyline points="455.0,706.4 457.0,706.4 458.9,706.4 460.9,706.4 462.8,706.4 464.8,706.4 466.7,706.4 468.7,706.4 470.6,706.4 472.6,706.4 474.5,706.4 476.5,706.4 478.4,706.4 480.4,706.4 482.3,706.4 484.3,706.4 486.2,706.4 488.2,706.4 489.0,642.0 490.7,642.0 492.4,642.0 494.1,642.0 496.3,680.3 498.4,642.0 500.3,642.0 502.1,642.0 504.0,642.0 505.9,642.0 507.8,642.0 509.5,676.0 511.2,690.9 513.7,695.2 515.4,700.6 517.1,700.4 518.8,697.3 521.0,697.0 523.1,700.8 525.2,695.4 527.3,698.2 529.5,699.5 531.6,698.3 533.7,698.6 535.9,699.4 538.0,697.2 540.1,696.5 542.2,699.2 544.4,699.4 546.5,701.2 548.6,698.6 550.7,701.1 552.9,700.7 555.0,702.1 557.1,700.4 559.3,702.2 561.4,701.1 563.5,699.5 565.6,701.6 567.5,701.5 569.4,702.3 571.3,700.4 573.2,702.4 575.1,703.7 577.0,699.3 578.9,701.6 580.8,702.1 582.7,702.4 584.6,701.7 586.4,704.2 588.3,702.1 590.2,704.0 592.1,703.5 594.0,705.4 595.9,702.5 597.8,702.5 599.7,702.9 601.6,701.8 603.5,703.2 605.4,702.9 607.2,703.9 609.1,701.2 611.0,703.4 612.9,704.2 614.8,703.1 616.7,703.3 618.6,704.3 620.5,703.3 622.4,705.5 624.3,703.1 626.2,704.6 628.0,703.0 629.9,702.9 631.8,703.8 633.7,703.7 635.9,703.7 638.0,704.8 640.1,703.3 642.2,704.1 644.4,705.3 646.5,706.4 648.5,706.4 650.5,706.4 652.5,706.4 654.5,706.4 656.6,706.4 658.6,706.4 660.6,706.4 662.6,706.4 664.6,706.4 666.6,706.4 668.6,706.4 670.7,706.4 672.7,706.4 674.7,706.4 676.7,706.4 678.7,706.4 680.7,706.4 682.7,706.4 684.7,706.4 686.8,706.4 688.8,706.4 690.8,706.4 692.8,706.4 694.8,706.4 696.8,706.4 698.8,706.4 700.9,706.4 702.9,706.4 704.9,706.4 706.9,706.4 708.9,706.4 710.9,706.4 712.9,706.4 715.0,706.4 717.0,706.4 719.0,706.4 721.0,706.4 723.0,706.4 725.0,706.4 727.0,706.4 729.1,706.4 731.1,706.4 733.1,706.4 735.1,706.4 737.1,706.4 739.1,706.4 741.1,706.4 743.1,706.4 745.2,706.4 747.2,706.4 749.2,706.4 751.2,706.4 753.2,706.4 755.2,706.4 757.2,706.4 759.3,706.4 761.4,705.1 763.5,703.7 765.6,704.0 767.8,703.0 769.9,705.0 772.0,704.1 774.1,703.8 776.3,702.2 778.4,703.7 780.5,704.6 782.7,705.5 784.8,706.4 786.8,706.4 788.9,706.4 790.9,706.4 793.0,706.4 795.0,706.4" fill="none" stroke="#6a00ff" stroke-width="2.2" stroke-linejoin="round" clip-path="url(#caR10)"/>
<polyline points="455.0,767.8 457.0,767.8 459.0,767.8 461.0,767.8 463.0,767.8 465.0,767.8 467.0,767.8 469.0,767.8 471.0,767.8 473.0,767.8 475.0,767.8 477.0,767.8 479.0,767.8 481.0,767.8 483.0,767.8 485.0,767.8 487.1,767.8 489.3,767.8 491.4,766.2 493.5,764.5 495.2,763.0 496.7,764.5 498.8,761.5 501.0,758.7 503.1,756.0 504.6,758.1 506.3,763.0 508.4,765.1 510.0,765.1 511.6,765.7 513.2,767.7 514.8,765.7 516.4,765.9 518.0,765.1 519.5,763.0 521.2,765.1 523.3,765.1 524.9,765.0 526.5,764.5 528.1,765.0 529.7,764.0 531.8,763.6 533.9,764.5 536.1,765.1 538.2,764.0 539.9,760.9 541.4,758.7 542.9,761.9 544.6,763.0 546.7,761.9 548.8,763.0 551.0,756.6 553.1,753.4 555.2,755.5 557.3,754.5 559.5,751.3 561.6,748.1 563.3,753.4 564.8,756.6 566.9,750.2 569.0,747.0 571.2,746.0 572.9,758.7 575.0,753.4 577.1,750.2 579.3,748.1 581.4,747.0 583.5,748.7 585.6,753.4 587.8,757.7 589.7,750.2 591.8,754.5 593.9,752.3 596.1,756.6 598.2,753.4 600.3,754.5 602.4,756.6 604.6,751.3 606.7,750.2 608.8,751.3 611.0,748.1 613.1,750.2 615.2,748.1 617.3,749.1 619.5,747.0 621.6,750.2 623.3,746.0 625.0,744.5 626.5,746.0 628.6,751.3 630.7,749.1 632.9,743.8 635.0,749.1 637.1,753.4 639.3,744.9 640.7,746.0 642.4,759.8 644.1,766.6 645.6,767.8 647.5,767.8 649.4,767.8 651.3,767.8 653.1,767.8 655.0,767.8 657.0,767.8 659.0,767.8 661.0,767.8 663.0,767.8 665.0,767.8 667.0,767.8 669.0,767.8 671.0,767.8 673.0,767.8 675.0,767.8 677.0,767.8 679.0,767.8 681.0,767.8 683.0,767.8 685.0,767.8 687.0,767.8 689.0,767.8 691.0,767.8 693.0,767.8 694.9,767.8 696.9,767.8 698.9,767.8 700.9,767.8 702.9,767.8 704.9,767.8 706.9,767.8 708.9,767.8 710.9,767.8 712.9,767.8 714.9,767.8 716.9,767.8 718.9,767.8 720.9,767.8 722.9,767.8 724.9,767.8 726.9,767.8 728.9,767.8 730.9,767.8 732.9,767.8 734.9,767.8 736.9,767.8 738.9,767.8 740.9,767.8 742.9,767.8 744.9,767.8 746.9,767.8 748.9,767.8 750.9,767.8 752.9,767.8 755.0,767.0 757.1,766.3 759.3,764.6 761.4,761.1 763.5,759.3 765.6,759.0 767.8,758.8 769.9,760.2 772.0,762.0 774.1,761.0 776.3,759.1 778.4,757.7 780.1,759.8 781.8,759.4 783.5,756.9 785.2,761.1 786.9,763.3 789.0,763.8 791.2,765.4 793.1,766.6 795.0,767.8" fill="none" stroke="#ff0000" stroke-width="2.2" stroke-linejoin="round" clip-path="url(#caR11)"/>
<line x1="650.27" y1="31" x2="650.27" y2="767.8" stroke="#ff0000" stroke-width="2.0" stroke-dasharray="13 5 5.5 4.8" stroke-dashoffset="27.2"/>
<text transform="translate(471.8,47.4)" font-size="17.5">13th-layer</text>
<line x1="719.4" y1="38.7" x2="760.1" y2="38.7" stroke="#ff0000" stroke-width="2"/>
<text transform="translate(764.6,44.7)" font-size="17">O</text>
<text transform="translate(471.8,106.7)" font-size="17.5">14th-layer</text>
<line x1="719.4" y1="100.1" x2="760.1" y2="100.1" stroke="#000000" stroke-width="2"/>
<text transform="translate(764.6,106.1)" font-size="17">W</text>
<text transform="translate(471.8,171.7)" font-size="17.5">15th-layer</text>
<line x1="719.4" y1="161.5" x2="760.1" y2="161.5" stroke="#6a00ff" stroke-width="2"/>
<text transform="translate(764.6,167.5)" font-size="17">Zn</text>
<text transform="translate(471.8,235.5)" font-size="17.5">16th-layer</text>
<line x1="719.4" y1="222.9" x2="760.1" y2="222.9" stroke="#ff0000" stroke-width="2"/>
<text transform="translate(764.6,228.9)" font-size="17">O</text>
<text transform="translate(471.8,294.7)" font-size="17.5">17th-layer</text>
<line x1="719.4" y1="284.3" x2="760.1" y2="284.3" stroke="#ff0000" stroke-width="2"/>
<text transform="translate(764.6,290.3)" font-size="17">O</text>
<text transform="translate(471.8,355.2)" font-size="17.5">18th-layer</text>
<line x1="719.4" y1="345.7" x2="760.1" y2="345.7" stroke="#6a00ff" stroke-width="2"/>
<text transform="translate(764.6,351.7)" font-size="17">Zn</text>
<text transform="translate(471.8,416.9)" font-size="17.5">19th-layer</text>
<line x1="719.4" y1="407.1" x2="760.1" y2="407.1" stroke="#000000" stroke-width="2"/>
<text transform="translate(764.6,413.1)" font-size="17">W</text>
<text transform="translate(471.8,477)" font-size="17.5">20th-layer</text>
<line x1="719.4" y1="468.5" x2="760.1" y2="468.5" stroke="#ff0000" stroke-width="2"/>
<text transform="translate(764.6,474.5)" font-size="17">O</text>
<text transform="translate(471.8,537.4)" font-size="17.5">21th-layer</text>
<line x1="719.4" y1="529.9" x2="760.1" y2="529.9" stroke="#ff0000" stroke-width="2"/>
<text transform="translate(764.6,535.9)" font-size="17">O</text>
<text transform="translate(471.8,603.5)" font-size="17.5">22th-layer</text>
<line x1="719.4" y1="591.3" x2="760.1" y2="591.3" stroke="#000000" stroke-width="2"/>
<text transform="translate(764.6,597.3)" font-size="17">W</text>
<text transform="translate(471.8,660.2)" font-size="17.5">23th-layer</text>
<line x1="719.4" y1="652.7" x2="760.1" y2="652.7" stroke="#6a00ff" stroke-width="2"/>
<text transform="translate(764.6,658.7)" font-size="17">Zn</text>
<text transform="translate(471.8,721.7)" font-size="17.5">24th-layer</text>
<line x1="719.4" y1="714.1" x2="760.1" y2="714.1" stroke="#ff0000" stroke-width="2"/>
<text transform="translate(764.6,720.1)" font-size="17">O</text>
<line x1="119.1" y1="965.49" x2="123.6" y2="965.49" stroke="#000" stroke-width="1.5"/>
<line x1="119.1" y1="948.14" x2="121.7" y2="948.14" stroke="#000" stroke-width="1.5"/>
<line x1="119.1" y1="930.78" x2="123.6" y2="930.78" stroke="#000" stroke-width="1.5"/>
<line x1="119.1" y1="913.43" x2="121.7" y2="913.43" stroke="#000" stroke-width="1.5"/>
<text transform="translate(112.6,972.49) scale(0.930,1)" font-size="20.5" text-anchor="end">0</text>
<text transform="translate(112.6,937.78) scale(0.930,1)" font-size="20.5" text-anchor="end">3</text>
<line x1="119.1" y1="1033.28" x2="123.6" y2="1033.28" stroke="#000" stroke-width="1.5"/>
<line x1="119.1" y1="1015.93" x2="121.7" y2="1015.93" stroke="#000" stroke-width="1.5"/>
<line x1="119.1" y1="998.57" x2="123.6" y2="998.57" stroke="#000" stroke-width="1.5"/>
<line x1="119.1" y1="981.22" x2="121.7" y2="981.22" stroke="#000" stroke-width="1.5"/>
<text transform="translate(112.6,1040.28) scale(0.930,1)" font-size="20.5" text-anchor="end">0</text>
<text transform="translate(112.6,1005.57) scale(0.930,1)" font-size="20.5" text-anchor="end">3</text>
<line x1="119.1" y1="1101.07" x2="123.6" y2="1101.07" stroke="#000" stroke-width="1.5"/>
<line x1="119.1" y1="1083.72" x2="121.7" y2="1083.72" stroke="#000" stroke-width="1.5"/>
<line x1="119.1" y1="1066.36" x2="123.6" y2="1066.36" stroke="#000" stroke-width="1.5"/>
<line x1="119.1" y1="1049.01" x2="121.7" y2="1049.01" stroke="#000" stroke-width="1.5"/>
<text transform="translate(112.6,1108.07) scale(0.930,1)" font-size="20.5" text-anchor="end">0</text>
<text transform="translate(112.6,1073.36) scale(0.930,1)" font-size="20.5" text-anchor="end">3</text>
<line x1="119.1" y1="1168.86" x2="123.6" y2="1168.86" stroke="#000" stroke-width="1.5"/>
<line x1="119.1" y1="1151.51" x2="121.7" y2="1151.51" stroke="#000" stroke-width="1.5"/>
<line x1="119.1" y1="1134.15" x2="123.6" y2="1134.15" stroke="#000" stroke-width="1.5"/>
<line x1="119.1" y1="1116.8" x2="121.7" y2="1116.8" stroke="#000" stroke-width="1.5"/>
<text transform="translate(112.6,1175.86) scale(0.930,1)" font-size="20.5" text-anchor="end">0</text>
<text transform="translate(112.6,1141.15) scale(0.930,1)" font-size="20.5" text-anchor="end">3</text>
<line x1="119.1" y1="1236.65" x2="123.6" y2="1236.65" stroke="#000" stroke-width="1.5"/>
<line x1="119.1" y1="1219.3" x2="121.7" y2="1219.3" stroke="#000" stroke-width="1.5"/>
<line x1="119.1" y1="1201.94" x2="123.6" y2="1201.94" stroke="#000" stroke-width="1.5"/>
<line x1="119.1" y1="1184.59" x2="121.7" y2="1184.59" stroke="#000" stroke-width="1.5"/>
<text transform="translate(112.6,1243.65) scale(0.930,1)" font-size="20.5" text-anchor="end">0</text>
<text transform="translate(112.6,1208.94) scale(0.930,1)" font-size="20.5" text-anchor="end">3</text>
<line x1="119.1" y1="1304.44" x2="123.6" y2="1304.44" stroke="#000" stroke-width="1.5"/>
<line x1="119.1" y1="1287.09" x2="121.7" y2="1287.09" stroke="#000" stroke-width="1.5"/>
<line x1="119.1" y1="1269.73" x2="123.6" y2="1269.73" stroke="#000" stroke-width="1.5"/>
<line x1="119.1" y1="1252.38" x2="121.7" y2="1252.38" stroke="#000" stroke-width="1.5"/>
<text transform="translate(112.6,1311.44) scale(0.930,1)" font-size="20.5" text-anchor="end">0</text>
<text transform="translate(112.6,1276.73) scale(0.930,1)" font-size="20.5" text-anchor="end">3</text>
<line x1="119.1" y1="1372.23" x2="123.6" y2="1372.23" stroke="#000" stroke-width="1.5"/>
<line x1="119.1" y1="1354.88" x2="121.7" y2="1354.88" stroke="#000" stroke-width="1.5"/>
<line x1="119.1" y1="1337.52" x2="123.6" y2="1337.52" stroke="#000" stroke-width="1.5"/>
<line x1="119.1" y1="1320.17" x2="121.7" y2="1320.17" stroke="#000" stroke-width="1.5"/>
<text transform="translate(112.6,1379.23) scale(0.930,1)" font-size="20.5" text-anchor="end">0</text>
<text transform="translate(112.6,1344.52) scale(0.930,1)" font-size="20.5" text-anchor="end">3</text>
<line x1="119.1" y1="1440.02" x2="123.6" y2="1440.02" stroke="#000" stroke-width="1.5"/>
<line x1="119.1" y1="1422.67" x2="121.7" y2="1422.67" stroke="#000" stroke-width="1.5"/>
<line x1="119.1" y1="1405.31" x2="123.6" y2="1405.31" stroke="#000" stroke-width="1.5"/>
<line x1="119.1" y1="1387.96" x2="121.7" y2="1387.96" stroke="#000" stroke-width="1.5"/>
<text transform="translate(112.6,1447.02) scale(0.930,1)" font-size="20.5" text-anchor="end">0</text>
<text transform="translate(112.6,1412.31) scale(0.930,1)" font-size="20.5" text-anchor="end">3</text>
<line x1="119.1" y1="1507.81" x2="123.6" y2="1507.81" stroke="#000" stroke-width="1.5"/>
<line x1="119.1" y1="1490.46" x2="121.7" y2="1490.46" stroke="#000" stroke-width="1.5"/>
<line x1="119.1" y1="1473.1" x2="123.6" y2="1473.1" stroke="#000" stroke-width="1.5"/>
<line x1="119.1" y1="1455.75" x2="121.7" y2="1455.75" stroke="#000" stroke-width="1.5"/>
<text transform="translate(112.6,1514.81) scale(0.930,1)" font-size="20.5" text-anchor="end">0</text>
<text transform="translate(112.6,1480.1) scale(0.930,1)" font-size="20.5" text-anchor="end">3</text>
<line x1="119.1" y1="1575.6" x2="123.6" y2="1575.6" stroke="#000" stroke-width="1.5"/>
<line x1="119.1" y1="1558.25" x2="121.7" y2="1558.25" stroke="#000" stroke-width="1.5"/>
<line x1="119.1" y1="1540.89" x2="123.6" y2="1540.89" stroke="#000" stroke-width="1.5"/>
<line x1="119.1" y1="1523.54" x2="121.7" y2="1523.54" stroke="#000" stroke-width="1.5"/>
<text transform="translate(112.6,1582.6) scale(0.930,1)" font-size="20.5" text-anchor="end">0</text>
<text transform="translate(112.6,1547.89) scale(0.930,1)" font-size="20.5" text-anchor="end">3</text>
<line x1="119.1" y1="965.49" x2="393.4" y2="965.49" stroke="#000" stroke-width="2.5"/>
<line x1="119.1" y1="1033.28" x2="393.4" y2="1033.28" stroke="#000" stroke-width="2.5"/>
<line x1="119.1" y1="1101.07" x2="393.4" y2="1101.07" stroke="#000" stroke-width="2.5"/>
<line x1="119.1" y1="1168.86" x2="393.4" y2="1168.86" stroke="#000" stroke-width="2.5"/>
<line x1="119.1" y1="1236.65" x2="393.4" y2="1236.65" stroke="#000" stroke-width="2.5"/>
<line x1="119.1" y1="1304.44" x2="393.4" y2="1304.44" stroke="#000" stroke-width="2.5"/>
<line x1="119.1" y1="1372.23" x2="393.4" y2="1372.23" stroke="#000" stroke-width="2.5"/>
<line x1="119.1" y1="1440.02" x2="393.4" y2="1440.02" stroke="#000" stroke-width="2.5"/>
<line x1="119.1" y1="1507.81" x2="393.4" y2="1507.81" stroke="#000" stroke-width="2.5"/>
<rect x="119.1" y="897.7" width="274.3" height="677.9" fill="none" stroke="#000" stroke-width="2.0"/>
<line x1="138.69" y1="1575.6" x2="138.69" y2="1573" stroke="#000" stroke-width="1.5"/>
<line x1="158.29" y1="1575.6" x2="158.29" y2="1571.1" stroke="#000" stroke-width="1.5"/>
<line x1="177.88" y1="1575.6" x2="177.88" y2="1573" stroke="#000" stroke-width="1.5"/>
<line x1="197.47" y1="1575.6" x2="197.47" y2="1571.1" stroke="#000" stroke-width="1.5"/>
<line x1="217.06" y1="1575.6" x2="217.06" y2="1573" stroke="#000" stroke-width="1.5"/>
<line x1="236.66" y1="1575.6" x2="236.66" y2="1571.1" stroke="#000" stroke-width="1.5"/>
<line x1="256.25" y1="1575.6" x2="256.25" y2="1573" stroke="#000" stroke-width="1.5"/>
<line x1="275.84" y1="1575.6" x2="275.84" y2="1571.1" stroke="#000" stroke-width="1.5"/>
<line x1="295.44" y1="1575.6" x2="295.44" y2="1573" stroke="#000" stroke-width="1.5"/>
<line x1="315.03" y1="1575.6" x2="315.03" y2="1571.1" stroke="#000" stroke-width="1.5"/>
<line x1="334.62" y1="1575.6" x2="334.62" y2="1573" stroke="#000" stroke-width="1.5"/>
<line x1="354.21" y1="1575.6" x2="354.21" y2="1571.1" stroke="#000" stroke-width="1.5"/>
<line x1="373.81" y1="1575.6" x2="373.81" y2="1573" stroke="#000" stroke-width="1.5"/>
<text transform="translate(119.1,1596.7)" font-size="19.2" text-anchor="middle">-8</text>
<text transform="translate(158.29,1596.7)" font-size="19.2" text-anchor="middle">-6</text>
<text transform="translate(197.47,1596.7)" font-size="19.2" text-anchor="middle">-4</text>
<text transform="translate(236.66,1596.7)" font-size="19.2" text-anchor="middle">-2</text>
<text transform="translate(275.84,1596.7)" font-size="19.2" text-anchor="middle">0</text>
<text transform="translate(315.03,1596.7)" font-size="19.2" text-anchor="middle">2</text>
<text transform="translate(354.21,1596.7)" font-size="19.2" text-anchor="middle">4</text>
<text transform="translate(393.4,1596.7)" font-size="19.2" text-anchor="middle">6</text>
<polyline points="117.1,962.3 119.2,962.3 122.0,959.8 123.8,961.6 125.5,957.4 128.3,951.1 130.8,954.6 132.5,954.5 134.3,957.4 136.0,958.1 137.8,955.3 139.5,954.3 141.3,957.1 143.0,956.3 144.8,955.2 146.5,958.1 148.3,954.6 150.0,953.0 151.8,954.6 153.5,955.3 155.3,952.4 157.0,956.5 158.8,952.8 160.6,957.2 162.3,956.3 164.1,955.6 165.8,957.8 167.6,955.3 169.3,957.7 171.1,953.9 172.8,958.1 174.6,957.4 176.3,955.7 178.1,952.8 179.8,955.5 181.6,950.2 183.3,954.6 185.1,958.4 186.8,959.4 188.6,957.4 190.3,957.3 192.1,959.8 193.8,958.1 195.6,957.8 197.3,962.9 199.1,959.8 200.8,958.0 202.6,962.9 204.3,960.9 206.1,959.7 207.9,963.1 209.6,962.6 211.4,963.8 213.1,964.4 214.9,964.9 216.6,965.5 218.6,965.5 220.6,965.5 222.6,965.5 224.6,965.5 226.6,965.5 228.6,965.5 230.6,965.5 232.6,965.5 234.6,965.5 236.6,965.5 238.6,965.5 240.6,965.5 242.6,965.5 244.6,965.5 246.6,965.5 248.6,965.5 250.6,965.5 252.7,965.5 254.7,965.5 256.7,965.5 258.7,965.5 261.5,956.3 263.9,947.6 265.7,944.1 267.4,938.8 269.2,945.8 270.9,954.6 272.7,963.3 274.4,965.5 276.5,965.5 278.5,965.5 280.6,965.5 282.6,965.5 284.6,965.5 286.7,965.5 288.7,965.5 290.8,965.5 292.8,965.5 294.9,965.5 296.9,965.5 299.0,965.5 300.7,959.8 302.5,958.2 304.2,956.3 306.0,953.9 307.7,958.1 309.5,957.0 311.2,954.6 313.0,957.9 314.7,961.6 316.5,959.4 318.2,958.1 320.0,961.3 321.7,962.3 323.5,956.3 325.2,952.8 327.0,954.7 328.7,950.4 331.5,951.8 334.0,961.6 335.7,944.1 337.5,964.4 339.2,941.3 341.0,931.8 343.5,933.5 345.6,963.3 348.0,947.6 349.8,940.6 352.6,947.6 354.3,938.8 356.8,937.0 358.5,963.3 360.3,961.4 362.0,961.6 363.8,960.7 365.5,958.1 368.0,951.1 370.1,923.0 371.8,895.0 373.6,916.0 375.0,947.6 377.8,959.8 379.5,961.9 381.3,963.3 383.0,964.4 384.8,965.5 386.8,965.5 388.9,965.5 390.9,965.5 392.9,965.5 395.0,965.5" fill="none" stroke="#000000" stroke-width="2.1" stroke-linejoin="round" clip-path="url(#cbL0)"/>
<polyline points="117.1,1028.1 119.2,1028.1 122.0,1024.6 123.8,1020.0 125.5,1021.8 127.3,1022.2 129.0,1019.4 130.8,1022.0 132.5,1022.9 134.3,1026.0 136.0,1020.4 137.8,1021.1 139.5,1020.0 141.3,1021.8 143.0,1019.3 144.8,1018.3 146.5,1019.4 148.3,1019.9 150.0,1024.4 151.8,1021.8 153.5,1017.7 155.3,1017.4 157.0,1017.6 158.8,1016.1 160.6,1019.4 162.3,1017.5 164.1,1014.1 165.8,1011.1 167.6,1015.9 169.3,1017.6 171.1,1010.6 172.8,1001.8 174.6,1007.1 176.3,1010.8 178.1,1008.9 179.8,1007.1 181.6,1003.6 183.3,1010.0 185.1,1006.4 186.8,1006.9 188.6,1001.9 190.3,1000.9 192.1,1005.4 193.8,1000.7 195.6,1000.1 197.3,1002.6 199.1,1003.6 200.8,997.9 202.6,1001.9 204.3,991.7 206.1,996.6 207.9,989.6 209.6,1000.1 211.4,991.4 213.1,1007.1 214.9,1029.9 216.6,1033.3 218.6,1033.3 220.6,1033.3 222.6,1033.3 224.6,1033.3 226.6,1033.3 228.6,1033.3 230.6,1033.3 232.6,1033.3 234.6,1033.3 236.6,1033.3 238.6,1033.3 240.6,1033.3 242.6,1033.3 244.6,1033.3 246.6,1033.3 248.6,1033.3 250.6,1033.3 252.7,1033.3 254.7,1033.3 256.7,1033.3 258.7,1033.3 260.4,1032.5 262.2,1031.7 263.9,1032.4 265.7,1031.7 267.4,1032.5 269.2,1033.3 271.2,1033.3 273.2,1033.3 275.2,1033.3 277.2,1033.3 279.2,1033.3 281.2,1033.3 283.2,1033.3 285.2,1033.3 287.2,1033.3 289.2,1033.3 291.2,1033.3 293.2,1033.3 295.2,1033.3 297.2,1033.3 299.0,1032.5 300.7,1031.7 302.5,1031.9 304.2,1031.1 306.0,1029.6 307.7,1029.9 309.5,1028.7 311.2,1029.6 313.0,1030.4 314.7,1031.7 316.5,1030.7 318.2,1031.1 320.0,1031.8 321.7,1029.9 323.5,1029.7 325.2,1030.4 327.0,1029.8 328.7,1029.9 330.5,1029.6 332.2,1026.9 334.0,1026.4 335.7,1019.4 337.5,1029.9 339.2,1025.9 341.0,1023.9 342.8,1020.4 344.5,1028.1 346.3,1026.8 348.0,1029.4 349.8,1029.9 351.5,1028.3 353.3,1026.4 355.0,1028.2 356.8,1028.1 358.5,1024.4 360.3,1024.6 362.0,1027.0 363.8,1031.7 365.5,1029.1 367.3,1029.0 369.0,1026.4 371.5,1012.4 373.6,1021.1 376.0,1030.9 377.8,1030.2 379.5,1031.4 381.3,1032.4 383.2,1032.5 385.2,1032.6 387.1,1032.7 389.1,1032.9 391.1,1033.0 393.0,1033.1 395.0,1033.3" fill="none" stroke="#ff0000" stroke-width="2.1" stroke-linejoin="round" clip-path="url(#cbL1)"/>
<polyline points="117.1,1094.8 119.2,1094.8 122.0,1089.6 124.8,1082.6 127.3,1072.0 129.7,1077.3 132.5,1087.8 134.3,1089.9 136.0,1084.3 137.8,1087.2 139.5,1087.8 141.3,1083.0 143.0,1082.6 144.8,1081.3 146.5,1086.1 148.3,1082.3 150.0,1080.8 151.8,1080.9 153.5,1085.4 155.3,1080.8 157.0,1084.3 158.8,1079.3 160.6,1081.9 162.3,1083.7 164.1,1087.8 165.8,1087.7 167.6,1086.1 169.3,1085.8 171.1,1088.9 172.8,1080.4 174.6,1082.6 176.3,1087.1 178.1,1085.4 179.8,1087.9 181.6,1087.8 183.3,1089.4 185.1,1089.6 186.8,1094.6 188.6,1091.3 190.3,1087.1 192.1,1089.6 193.8,1086.4 195.6,1087.8 197.3,1087.8 199.1,1082.6 200.8,1084.2 202.6,1084.3 204.3,1086.5 206.1,1081.9 207.9,1085.1 209.6,1085.4 211.4,1093.3 213.1,1096.6 214.9,1101.1 216.8,1101.1 218.8,1101.1 220.8,1101.1 222.7,1101.1 224.7,1101.1 226.7,1101.1 228.7,1101.1 230.6,1101.1 232.6,1101.1 234.6,1101.1 236.5,1101.1 238.5,1101.1 240.5,1101.1 242.5,1101.1 244.4,1101.1 246.4,1101.1 248.4,1101.1 250.3,1101.1 252.3,1101.1 254.3,1101.1 256.2,1101.1 258.2,1101.1 260.2,1101.1 262.2,1101.1 265.0,1099.4 267.1,1099.4 269.2,1098.7 272.0,1101.1 274.0,1101.1 276.1,1101.1 278.2,1101.1 280.3,1101.1 282.3,1101.1 284.4,1101.1 286.5,1101.1 288.6,1101.1 290.7,1101.1 292.7,1101.1 294.8,1101.1 296.9,1101.1 299.0,1101.1 300.7,1100.2 302.5,1099.2 304.2,1098.3 306.0,1099.4 307.7,1099.1 309.5,1098.7 311.2,1099.4 313.0,1100.4 314.7,1098.9 316.5,1099.1 318.2,1098.3 320.0,1096.3 321.7,1095.8 323.5,1098.2 325.2,1097.3 327.0,1096.3 328.7,1098.8 330.5,1098.3 332.2,1098.3 334.0,1097.6 335.7,1095.9 337.5,1096.8 339.2,1098.7 341.0,1098.3 342.8,1094.8 344.5,1097.8 346.3,1098.3 348.0,1098.2 349.8,1100.5 351.5,1095.3 353.3,1097.3 355.0,1098.4 356.8,1097.0 358.5,1097.8 360.3,1098.3 362.0,1099.1 363.8,1099.1 365.5,1099.5 367.3,1097.3 369.0,1096.7 370.8,1093.1 372.5,1088.9 375.0,1096.6 377.1,1099.2 379.2,1098.6 381.3,1099.4 383.2,1099.6 385.2,1099.9 387.1,1100.1 389.1,1100.3 391.1,1100.6 393.0,1100.8 395.0,1101.1" fill="none" stroke="#ff0000" stroke-width="2.1" stroke-linejoin="round" clip-path="url(#cbL2)"/>
<polyline points="117.1,1161.4 119.2,1161.4 122.0,1156.8 123.8,1154.1 125.5,1152.6 127.3,1153.2 129.0,1149.1 130.8,1150.6 132.5,1154.4 134.3,1155.6 136.0,1156.1 137.8,1159.0 139.5,1156.9 141.3,1157.9 143.0,1157.6 144.8,1156.0 146.5,1158.9 148.3,1158.3 150.0,1160.8 151.8,1159.6 153.5,1162.4 155.3,1159.4 157.0,1160.3 158.8,1160.4 160.6,1159.8 162.3,1162.4 164.1,1161.4 165.8,1160.5 167.6,1162.5 169.3,1162.9 171.1,1163.1 172.8,1164.5 174.6,1161.6 176.3,1161.3 178.1,1162.4 179.8,1162.0 181.6,1164.4 183.3,1165.9 185.1,1164.2 186.8,1163.6 188.6,1166.4 190.3,1165.2 192.1,1165.9 194.2,1165.2 196.3,1165.3 198.4,1166.9 200.5,1165.1 202.6,1166.7 204.3,1167.7 206.1,1167.0 207.9,1168.7 209.6,1167.7 211.4,1168.1 213.1,1168.5 214.9,1168.9 216.8,1168.9 218.8,1168.9 220.8,1168.9 222.8,1168.9 224.8,1168.9 226.7,1168.9 228.7,1168.9 230.7,1168.9 232.7,1168.9 234.7,1168.9 236.6,1168.9 238.6,1168.9 240.6,1168.9 242.6,1168.9 244.6,1168.9 246.5,1168.9 248.5,1168.9 250.5,1168.9 252.5,1168.9 254.5,1168.9 256.4,1168.9 258.4,1168.9 260.4,1168.9 262.9,1162.4 265.7,1156.1 268.1,1157.9 269.9,1164.9 272.0,1168.9 274.0,1168.9 276.1,1168.9 278.2,1168.9 280.3,1168.9 282.3,1168.9 284.4,1168.9 286.5,1168.9 288.6,1168.9 290.7,1168.9 292.7,1168.9 294.8,1168.9 296.9,1168.9 299.0,1168.9 300.7,1163.1 302.5,1159.4 304.2,1157.9 306.0,1154.4 307.7,1156.1 309.5,1155.4 311.2,1152.6 314.0,1145.6 316.5,1136.9 318.2,1150.9 320.0,1151.9 321.7,1159.6 323.5,1162.5 325.2,1161.4 327.0,1160.1 328.7,1156.1 331.5,1163.1 332.9,1145.6 334.3,1100.1 335.4,1100.1 336.8,1168.9 338.9,1157.2 341.0,1145.6 342.8,1135.1 344.5,1145.6 346.3,1166.7 348.0,1165.9 349.8,1165.6 351.5,1166.1 353.3,1166.7 355.0,1168.1 356.8,1167.2 358.5,1167.6 360.3,1167.4 362.0,1167.2 363.8,1167.5 365.5,1166.1 367.3,1166.7 369.0,1165.2 370.8,1165.0 372.5,1162.4 374.3,1167.4 376.0,1167.7 377.8,1168.1 379.5,1168.5 381.3,1168.9 383.2,1168.9 385.2,1168.9 387.1,1168.9 389.1,1168.9 391.1,1168.9 393.0,1168.9 395.0,1168.9" fill="none" stroke="#000000" stroke-width="2.1" stroke-linejoin="round" clip-path="url(#cbL3)"/>
<polyline points="117.1,1228.1 119.2,1228.1 122.0,1227.4 123.8,1226.8 125.5,1225.3 128.3,1221.1 130.8,1226.3 132.5,1229.2 134.3,1227.4 136.0,1227.9 137.8,1228.8 139.5,1232.4 141.3,1227.5 143.0,1228.1 144.8,1230.5 146.5,1230.5 148.3,1229.8 150.0,1229.1 151.8,1232.2 153.5,1229.1 155.3,1230.0 157.0,1229.5 158.8,1231.0 160.6,1230.9 162.3,1231.3 164.1,1230.8 165.8,1231.0 167.6,1231.6 169.3,1231.5 171.1,1230.0 172.8,1230.4 174.6,1231.6 176.3,1231.9 178.1,1232.7 179.8,1234.3 181.6,1232.3 183.3,1232.2 185.1,1234.2 186.8,1231.7 188.6,1232.6 190.3,1232.8 192.1,1232.6 193.8,1230.8 195.6,1232.3 197.3,1231.9 199.1,1233.2 200.8,1232.7 202.6,1232.6 204.3,1233.7 206.1,1233.8 207.9,1234.4 209.6,1231.6 211.4,1231.9 213.1,1233.3 214.9,1236.7 216.9,1236.7 218.9,1236.7 220.8,1236.7 222.8,1236.7 224.8,1236.7 226.8,1236.7 228.8,1236.7 230.8,1236.7 232.8,1236.7 234.8,1236.7 236.8,1236.7 238.8,1236.7 240.8,1236.7 242.8,1236.7 244.8,1236.7 246.8,1236.7 248.8,1236.7 250.8,1236.7 252.8,1236.7 254.8,1236.7 256.8,1236.7 258.8,1236.7 260.8,1236.7 262.8,1236.7 264.8,1236.7 266.8,1236.7 268.8,1236.7 270.8,1236.7 272.8,1236.7 274.8,1236.7 276.7,1236.7 278.7,1236.7 280.7,1236.7 282.7,1236.7 284.7,1236.7 286.7,1236.7 288.7,1236.7 290.7,1236.7 292.7,1236.7 294.7,1236.7 296.7,1236.7 298.7,1236.7 300.7,1236.7 302.5,1235.9 304.2,1235.1 306.0,1235.5 307.7,1236.2 309.5,1234.8 311.2,1235.8 313.0,1235.2 314.7,1235.4 316.5,1236.2 318.2,1235.1 320.0,1236.1 321.7,1235.0 323.5,1235.6 325.2,1235.1 327.3,1234.4 329.4,1234.2 331.5,1235.2 333.6,1233.4 335.7,1234.4 337.5,1233.9 339.2,1233.3 341.0,1232.2 342.8,1233.8 344.5,1234.9 346.3,1235.1 348.0,1235.0 349.8,1235.1 351.5,1234.4 353.3,1234.4 355.0,1234.8 356.8,1234.6 358.5,1234.0 360.3,1235.1 362.0,1234.3 363.8,1235.0 365.5,1235.4 367.3,1234.0 369.0,1233.5 370.8,1233.1 372.5,1232.9 374.3,1233.3 376.0,1235.0 377.8,1234.0 379.5,1234.6 381.3,1234.4 383.0,1235.5 384.8,1236.7 386.8,1236.7 388.9,1236.7 390.9,1236.7 392.9,1236.7 395.0,1236.7" fill="none" stroke="#6a00ff" stroke-width="2.1" stroke-linejoin="round" clip-path="url(#cbL4)"/>
<polyline points="117.1,1298.1 119.2,1298.1 122.0,1296.4 123.8,1295.7 125.5,1294.6 127.3,1291.3 129.0,1297.4 130.8,1296.2 132.5,1292.9 134.3,1291.1 136.0,1294.6 137.8,1293.9 139.5,1293.6 141.3,1291.8 143.0,1293.9 144.8,1292.7 146.5,1292.9 148.3,1293.5 150.0,1291.1 151.8,1288.7 153.5,1289.4 155.3,1286.5 157.0,1291.1 158.8,1297.3 160.6,1287.6 162.3,1286.2 164.1,1284.1 165.8,1289.4 167.6,1285.9 169.3,1277.7 171.1,1282.4 172.8,1279.6 174.6,1285.9 176.3,1280.7 178.1,1280.6 179.8,1278.1 181.6,1284.1 183.3,1283.9 185.1,1285.9 186.8,1285.4 188.6,1282.4 190.3,1282.7 192.1,1284.1 193.8,1278.5 195.6,1280.6 197.3,1272.8 199.1,1277.1 200.8,1272.1 202.6,1266.6 204.3,1273.6 206.1,1280.6 207.9,1284.1 209.6,1282.4 211.4,1291.1 213.1,1299.9 214.9,1304.4 216.8,1304.4 218.8,1304.4 220.8,1304.4 222.7,1304.4 224.7,1304.4 226.7,1304.4 228.7,1304.4 230.6,1304.4 232.6,1304.4 234.6,1304.4 236.5,1304.4 238.5,1304.4 240.5,1304.4 242.5,1304.4 244.4,1304.4 246.4,1304.4 248.4,1304.4 250.3,1304.4 252.3,1304.4 254.3,1304.4 256.2,1304.4 258.2,1304.4 260.2,1304.4 262.2,1304.4 263.9,1302.2 265.7,1299.9 267.4,1301.5 269.2,1302.4 272.0,1304.4 274.0,1304.4 276.1,1304.4 278.1,1304.4 280.2,1304.4 282.2,1304.4 284.3,1304.4 286.3,1304.4 288.4,1304.4 290.4,1304.4 292.5,1304.4 294.5,1304.4 296.6,1304.4 298.7,1304.4 300.7,1304.4 302.5,1303.0 304.2,1301.7 306.0,1301.3 307.7,1302.5 309.5,1301.4 311.2,1300.9 313.0,1299.5 314.7,1300.6 316.5,1298.8 318.2,1299.8 320.0,1300.3 321.7,1301.7 323.5,1301.4 325.2,1300.7 327.0,1300.3 328.7,1299.9 330.5,1297.8 332.2,1298.0 334.0,1296.4 335.7,1282.4 337.5,1296.4 339.2,1296.8 341.0,1301.7 342.8,1298.0 344.5,1295.3 346.3,1302.4 348.0,1302.1 349.8,1302.7 351.5,1303.2 353.3,1303.4 355.3,1303.3 357.3,1304.0 359.3,1304.2 361.3,1302.8 363.3,1304.4 365.3,1301.7 367.3,1302.7 369.0,1303.1 370.8,1303.6 372.5,1304.0 374.3,1304.4 376.4,1304.4 378.4,1304.4 380.5,1304.4 382.6,1304.4 384.6,1304.4 386.7,1304.4 388.8,1304.4 390.8,1304.4 392.9,1304.4 395.0,1304.4" fill="none" stroke="#ff0000" stroke-width="2.1" stroke-linejoin="round" clip-path="url(#cbL5)"/>
<polyline points="117.1,1365.9 119.2,1365.9 122.0,1364.8 123.8,1361.9 125.5,1363.8 127.3,1364.8 129.0,1364.8 130.8,1363.1 132.5,1362.4 134.3,1361.7 136.0,1363.1 137.8,1363.2 139.5,1360.3 141.3,1361.5 143.0,1361.3 144.8,1360.2 146.5,1357.8 148.3,1354.2 150.0,1355.4 151.8,1352.7 153.5,1357.8 155.3,1359.2 157.0,1359.6 158.8,1358.7 160.6,1354.3 162.3,1354.4 164.1,1356.1 165.8,1358.7 167.6,1357.8 169.3,1357.2 171.1,1354.3 172.8,1353.8 174.6,1356.1 176.3,1358.3 178.1,1354.3 179.8,1355.3 181.6,1352.6 183.3,1352.1 185.1,1353.3 186.8,1352.8 188.6,1349.1 190.3,1352.6 192.1,1348.4 193.8,1347.4 195.6,1351.9 197.3,1350.1 199.1,1350.8 200.8,1346.1 202.6,1349.8 204.3,1347.3 206.8,1352.6 209.6,1350.8 212.4,1357.8 214.2,1368.3 215.9,1372.2 217.9,1372.2 219.9,1372.2 222.0,1372.2 224.0,1372.2 226.0,1372.2 228.0,1372.2 230.0,1372.2 232.1,1372.2 234.1,1372.2 236.1,1372.2 238.1,1372.2 240.1,1372.2 242.2,1372.2 244.2,1372.2 246.2,1372.2 248.2,1372.2 250.2,1372.2 252.3,1372.2 254.3,1372.2 256.3,1372.2 258.3,1372.2 260.3,1372.2 262.3,1372.2 264.4,1372.2 266.4,1372.2 268.4,1372.2 270.4,1372.2 272.4,1372.2 274.5,1372.2 276.5,1372.2 278.5,1372.2 280.5,1372.2 282.5,1372.2 284.6,1372.2 286.6,1372.2 288.6,1372.2 290.6,1372.2 292.6,1372.2 294.6,1372.2 296.7,1372.2 298.7,1372.2 300.7,1372.2 302.5,1368.3 304.2,1367.2 306.0,1365.9 307.7,1367.1 309.5,1364.8 311.2,1359.7 313.0,1363.1 314.7,1365.2 316.5,1364.8 318.2,1365.4 320.0,1363.1 321.7,1366.5 323.5,1366.6 325.2,1365.7 327.0,1365.9 328.7,1367.5 330.5,1368.3 332.2,1368.3 334.0,1369.4 335.7,1370.8 337.5,1370.8 339.2,1370.1 341.0,1370.6 342.8,1369.5 344.5,1371.8 346.3,1371.1 348.0,1371.4 349.8,1371.7 351.5,1372.0 353.3,1372.2 355.3,1372.1 357.3,1371.9 359.3,1371.8 361.3,1371.6 363.3,1371.4 365.3,1371.3 367.3,1371.1 369.3,1370.8 371.3,1372.1 373.3,1370.6 375.3,1370.2 377.3,1372.2 379.3,1370.2 381.3,1370.8 383.2,1371.0 385.2,1371.2 387.1,1371.4 389.1,1371.6 391.1,1371.8 393.0,1372.0 395.0,1372.2" fill="none" stroke="#ff0000" stroke-width="2.1" stroke-linejoin="round" clip-path="url(#cbL6)"/>
<polyline points="117.1,1420.9 119.2,1420.9 122.0,1424.4 123.8,1427.9 125.5,1427.9 127.3,1431.6 129.0,1429.6 130.8,1432.3 132.5,1432.4 134.3,1433.6 136.0,1433.8 137.8,1431.8 139.5,1433.1 141.3,1432.7 143.0,1435.8 144.8,1434.9 146.5,1434.3 148.3,1434.7 150.0,1434.9 151.8,1436.4 153.5,1434.2 155.3,1433.5 157.0,1435.9 158.8,1435.3 160.6,1435.2 162.3,1435.4 164.1,1434.9 165.8,1433.9 167.6,1434.7 169.3,1433.8 171.1,1435.9 172.8,1434.9 174.6,1436.9 176.3,1437.7 178.1,1436.7 179.8,1436.6 181.6,1436.4 183.3,1435.6 185.1,1436.7 187.2,1437.3 189.3,1437.3 191.4,1436.3 193.5,1434.9 195.6,1435.9 197.7,1436.0 199.8,1436.4 201.9,1435.3 204.0,1437.7 206.1,1436.7 207.9,1437.4 209.6,1437.8 211.4,1438.0 213.1,1437.4 214.9,1440.0 216.9,1440.0 218.9,1440.0 220.8,1440.0 222.8,1440.0 224.8,1440.0 226.8,1440.0 228.8,1440.0 230.8,1440.0 232.8,1440.0 234.8,1440.0 236.8,1440.0 238.8,1440.0 240.8,1440.0 242.8,1440.0 244.8,1440.0 246.8,1440.0 248.8,1440.0 250.8,1440.0 252.8,1440.0 254.8,1440.0 256.8,1440.0 258.8,1440.0 260.8,1440.0 262.8,1440.0 264.8,1440.0 266.8,1440.0 268.8,1440.0 270.8,1440.0 272.8,1440.0 274.8,1440.0 276.7,1440.0 278.7,1440.0 280.7,1440.0 282.7,1440.0 284.7,1440.0 286.7,1440.0 288.7,1440.0 290.7,1440.0 292.7,1440.0 294.7,1440.0 296.7,1440.0 298.7,1440.0 300.7,1440.0 302.5,1439.4 304.2,1438.9 306.0,1438.3 307.7,1437.7 309.5,1437.5 311.2,1437.3 313.0,1437.5 314.7,1438.4 316.8,1439.1 318.9,1437.8 321.0,1438.3 323.1,1438.0 325.2,1437.7 327.2,1437.5 329.2,1437.7 331.2,1437.9 333.2,1437.0 335.2,1437.0 337.2,1435.1 339.2,1437.4 341.0,1438.3 342.8,1437.7 344.5,1437.6 346.3,1438.4 348.3,1437.9 350.3,1439.5 352.3,1438.2 354.3,1437.7 356.3,1438.8 358.3,1437.4 360.3,1438.4 362.0,1436.3 363.8,1438.7 365.5,1436.2 367.3,1435.9 369.0,1435.8 370.8,1438.5 372.5,1437.5 374.3,1437.4 376.0,1437.8 377.8,1438.7 379.5,1437.6 381.3,1438.4 383.2,1438.6 385.2,1438.9 387.1,1439.1 389.1,1439.3 391.1,1439.6 393.0,1439.8 395.0,1440.0" fill="none" stroke="#6a00ff" stroke-width="2.1" stroke-linejoin="round" clip-path="url(#cbL7)"/>
<polyline points="117.1,1498.1 119.2,1498.1 122.0,1497.4 123.8,1497.2 125.5,1496.3 127.3,1496.9 129.0,1495.3 130.8,1495.4 132.5,1497.4 134.3,1498.2 136.0,1498.1 137.8,1494.7 139.5,1497.4 141.3,1496.6 143.0,1500.6 144.8,1498.8 146.5,1494.3 148.3,1497.5 150.0,1498.1 151.8,1501.1 153.5,1497.0 155.3,1497.4 157.0,1500.9 158.8,1498.2 160.6,1498.8 162.3,1500.0 164.1,1496.9 165.8,1498.1 167.6,1500.1 169.3,1499.8 171.1,1499.8 172.8,1499.6 174.6,1496.0 176.3,1498.8 178.1,1501.4 179.8,1500.6 181.6,1500.9 183.3,1500.4 185.1,1499.3 186.8,1502.3 188.6,1501.6 190.3,1502.3 192.1,1502.6 193.8,1503.2 195.6,1503.3 197.3,1504.1 199.1,1505.3 200.8,1504.8 202.6,1505.1 204.3,1507.7 206.1,1506.4 207.9,1506.6 209.6,1506.5 211.4,1506.9 213.1,1507.4 214.9,1507.8 216.9,1507.8 218.9,1507.8 220.9,1507.8 222.9,1507.8 224.9,1507.8 226.9,1507.8 228.9,1507.8 230.9,1507.8 232.9,1507.8 234.9,1507.8 237.0,1507.8 239.0,1507.8 241.0,1507.8 243.0,1507.8 245.0,1507.8 247.0,1507.8 249.0,1507.8 251.0,1507.8 253.0,1507.8 255.0,1507.8 257.0,1507.8 259.0,1507.8 261.1,1507.8 263.1,1507.8 265.1,1507.8 267.1,1507.8 269.1,1507.8 271.1,1507.8 273.1,1507.8 275.1,1507.8 277.1,1507.8 279.1,1507.8 281.1,1507.8 283.1,1507.8 285.2,1507.8 287.2,1507.8 289.2,1507.8 291.2,1507.8 293.2,1507.8 295.2,1507.8 297.2,1507.8 299.0,1505.1 301.4,1498.1 303.5,1491.1 306.0,1480.6 308.4,1477.0 310.5,1478.8 313.0,1473.5 315.4,1468.3 317.5,1477.0 319.3,1482.3 321.0,1470.0 322.8,1473.5 324.5,1485.8 327.0,1491.1 329.4,1494.6 332.2,1498.1 335.0,1499.8 337.5,1505.1 339.2,1507.8 341.2,1507.8 343.1,1507.8 345.0,1507.8 346.9,1507.8 348.8,1507.8 350.7,1507.8 352.6,1507.8 354.5,1507.8 356.4,1507.8 358.4,1507.8 360.3,1507.8 362.0,1507.1 363.8,1506.4 365.5,1505.8 367.3,1505.1 369.0,1505.0 370.8,1504.9 372.5,1505.7 374.3,1506.1 376.0,1506.5 377.8,1507.0 379.5,1507.4 381.3,1507.8 383.2,1507.8 385.2,1507.8 387.1,1507.8 389.1,1507.8 391.1,1507.8 393.0,1507.8 395.0,1507.8" fill="none" stroke="#000000" stroke-width="2.1" stroke-linejoin="round" clip-path="url(#cbL8)"/>
<polyline points="117.1,1567.4 119.2,1567.4 122.0,1566.4 123.8,1567.2 125.5,1568.1 127.3,1565.7 129.0,1565.3 130.8,1567.8 132.5,1567.3 134.3,1567.4 136.0,1566.3 137.8,1567.2 139.5,1566.4 141.3,1567.4 143.0,1565.7 144.8,1568.1 146.5,1566.7 148.3,1569.4 150.0,1567.4 151.8,1566.7 153.5,1565.3 155.3,1567.4 157.0,1567.4 158.8,1568.5 160.6,1564.6 162.3,1562.5 164.1,1561.1 165.8,1560.9 167.6,1562.9 169.3,1563.1 171.1,1559.4 172.8,1558.0 174.6,1561.1 176.3,1556.3 178.1,1557.6 179.8,1554.0 181.6,1555.9 183.3,1551.2 185.1,1554.1 186.8,1553.6 188.6,1552.4 190.3,1555.5 192.1,1550.6 193.8,1547.6 195.6,1548.9 197.3,1545.6 199.1,1547.1 200.8,1553.9 202.6,1548.9 204.3,1543.7 206.1,1546.4 208.9,1544.3 210.3,1548.9 212.4,1561.1 214.2,1573.4 215.2,1575.6 217.2,1575.6 219.2,1575.6 221.2,1575.6 223.2,1575.6 225.2,1575.6 227.1,1575.6 229.1,1575.6 231.1,1575.6 233.1,1575.6 235.1,1575.6 237.1,1575.6 239.1,1575.6 241.1,1575.6 243.0,1575.6 245.0,1575.6 247.0,1575.6 249.0,1575.6 251.0,1575.6 253.0,1575.6 255.0,1575.6 257.0,1575.6 259.0,1575.6 260.9,1575.6 262.9,1575.6 264.9,1575.6 266.9,1575.6 268.9,1575.6 270.9,1575.6 272.9,1575.6 274.9,1575.6 276.8,1575.6 278.8,1575.6 280.8,1575.6 282.8,1575.6 284.8,1575.6 286.8,1575.6 288.8,1575.6 290.8,1575.6 292.8,1575.6 294.7,1575.6 296.7,1575.6 298.7,1575.6 300.7,1575.6 302.5,1575.2 304.2,1574.8 306.0,1574.5 307.7,1572.8 309.5,1573.3 311.2,1571.7 313.0,1569.8 314.7,1570.6 316.5,1568.1 318.2,1567.4 320.0,1565.6 321.7,1566.4 323.5,1566.6 325.2,1569.9 327.0,1573.8 328.7,1569.5 330.5,1571.7 332.2,1572.5 334.0,1574.3 335.7,1573.4 337.8,1574.6 339.9,1574.3 342.0,1574.3 344.2,1573.7 346.3,1574.5 348.3,1574.6 350.3,1574.8 352.3,1574.9 354.3,1575.1 356.3,1575.3 358.3,1575.4 360.3,1575.6 362.0,1575.1 363.8,1574.5 365.5,1574.0 367.3,1573.4 369.0,1574.1 370.8,1575.6 372.5,1574.9 374.3,1574.1 376.0,1574.5 377.8,1574.9 379.5,1575.2 381.3,1575.6 383.2,1575.6 385.2,1575.6 387.1,1575.6 389.1,1575.6 391.1,1575.6 393.0,1575.6 395.0,1575.6" fill="none" stroke="#ff0000" stroke-width="2.1" stroke-linejoin="round" clip-path="url(#cbL9)"/>
<line x1="275.84" y1="897.7" x2="275.84" y2="1575.6" stroke="#ff0000" stroke-width="2.0" stroke-dasharray="13 5 5.5 4.8" stroke-dashoffset="9.6"/>
<text transform="translate(132.3,921.6) scale(1.040,1)" font-size="19">1st-layer</text>
<line x1="328.9" y1="907.4" x2="366.9" y2="907.4" stroke="#000000" stroke-width="2"/>
<text transform="translate(370.5,913)" font-size="16">W</text>
<text transform="translate(132.3,983.7) scale(1.040,1)" font-size="19">2nd-layer</text>
<line x1="328.9" y1="975.19" x2="366.9" y2="975.19" stroke="#ff0000" stroke-width="2"/>
<text transform="translate(370.5,980.79)" font-size="16">O</text>
<text transform="translate(132.3,1054.7) scale(1.040,1)" font-size="19">3rd-layer</text>
<line x1="328.9" y1="1042.98" x2="366.9" y2="1042.98" stroke="#ff0000" stroke-width="2"/>
<text transform="translate(370.5,1048.58)" font-size="16">O</text>
<text transform="translate(132.3,1121.8) scale(1.040,1)" font-size="19">4th-layer</text>
<line x1="328.9" y1="1110.77" x2="366.9" y2="1110.77" stroke="#000000" stroke-width="2"/>
<text transform="translate(370.5,1116.37)" font-size="16">W</text>
<text transform="translate(132.3,1184.4) scale(1.040,1)" font-size="19">5th-layer</text>
<line x1="328.9" y1="1178.56" x2="366.9" y2="1178.56" stroke="#6a00ff" stroke-width="2"/>
<text transform="translate(370.5,1184.16)" font-size="16">Zn</text>
<text transform="translate(132.3,1255.7) scale(1.040,1)" font-size="19">6th-layer</text>
<line x1="328.9" y1="1246.35" x2="366.9" y2="1246.35" stroke="#ff0000" stroke-width="2"/>
<text transform="translate(370.5,1251.95)" font-size="16">O</text>
<text transform="translate(132.3,1328.1) scale(1.040,1)" font-size="19">7th-layer</text>
<line x1="328.9" y1="1314.14" x2="366.9" y2="1314.14" stroke="#ff0000" stroke-width="2"/>
<text transform="translate(370.5,1319.74)" font-size="16">O</text>
<text transform="translate(132.3,1393.3) scale(1.040,1)" font-size="19">8th-layer</text>
<line x1="328.9" y1="1381.93" x2="366.9" y2="1381.93" stroke="#6a00ff" stroke-width="2"/>
<text transform="translate(370.5,1387.53)" font-size="16">Zn</text>
<text transform="translate(132.3,1463.4) scale(1.040,1)" font-size="19">9th-layer</text>
<line x1="328.9" y1="1449.72" x2="366.9" y2="1449.72" stroke="#000000" stroke-width="2"/>
<text transform="translate(370.5,1455.32)" font-size="16">W</text>
<text transform="translate(132.3,1527.2) scale(1.040,1)" font-size="19">10th-layer</text>
<line x1="328.9" y1="1517.51" x2="366.9" y2="1517.51" stroke="#ff0000" stroke-width="2"/>
<text transform="translate(370.5,1523.11)" font-size="16">O</text>
<line x1="452.9" y1="965.49" x2="457.4" y2="965.49" stroke="#000" stroke-width="1.5"/>
<line x1="452.9" y1="948.14" x2="455.5" y2="948.14" stroke="#000" stroke-width="1.5"/>
<line x1="452.9" y1="930.78" x2="457.4" y2="930.78" stroke="#000" stroke-width="1.5"/>
<line x1="452.9" y1="913.43" x2="455.5" y2="913.43" stroke="#000" stroke-width="1.5"/>
<text transform="translate(447.4,972.49) scale(0.930,1)" font-size="20.5" text-anchor="end">0</text>
<text transform="translate(447.4,937.78) scale(0.930,1)" font-size="20.5" text-anchor="end">3</text>
<line x1="452.9" y1="1033.28" x2="457.4" y2="1033.28" stroke="#000" stroke-width="1.5"/>
<line x1="452.9" y1="1015.93" x2="455.5" y2="1015.93" stroke="#000" stroke-width="1.5"/>
<line x1="452.9" y1="998.57" x2="457.4" y2="998.57" stroke="#000" stroke-width="1.5"/>
<line x1="452.9" y1="981.22" x2="455.5" y2="981.22" stroke="#000" stroke-width="1.5"/>
<text transform="translate(447.4,1040.28) scale(0.930,1)" font-size="20.5" text-anchor="end">0</text>
<text transform="translate(447.4,1005.57) scale(0.930,1)" font-size="20.5" text-anchor="end">3</text>
<line x1="452.9" y1="1101.07" x2="457.4" y2="1101.07" stroke="#000" stroke-width="1.5"/>
<line x1="452.9" y1="1083.72" x2="455.5" y2="1083.72" stroke="#000" stroke-width="1.5"/>
<line x1="452.9" y1="1066.36" x2="457.4" y2="1066.36" stroke="#000" stroke-width="1.5"/>
<line x1="452.9" y1="1049.01" x2="455.5" y2="1049.01" stroke="#000" stroke-width="1.5"/>
<text transform="translate(447.4,1108.07) scale(0.930,1)" font-size="20.5" text-anchor="end">0</text>
<text transform="translate(447.4,1073.36) scale(0.930,1)" font-size="20.5" text-anchor="end">3</text>
<line x1="452.9" y1="1168.86" x2="457.4" y2="1168.86" stroke="#000" stroke-width="1.5"/>
<line x1="452.9" y1="1151.51" x2="455.5" y2="1151.51" stroke="#000" stroke-width="1.5"/>
<line x1="452.9" y1="1134.15" x2="457.4" y2="1134.15" stroke="#000" stroke-width="1.5"/>
<line x1="452.9" y1="1116.8" x2="455.5" y2="1116.8" stroke="#000" stroke-width="1.5"/>
<text transform="translate(447.4,1175.86) scale(0.930,1)" font-size="20.5" text-anchor="end">0</text>
<text transform="translate(447.4,1141.15) scale(0.930,1)" font-size="20.5" text-anchor="end">3</text>
<line x1="452.9" y1="1236.65" x2="457.4" y2="1236.65" stroke="#000" stroke-width="1.5"/>
<line x1="452.9" y1="1219.3" x2="455.5" y2="1219.3" stroke="#000" stroke-width="1.5"/>
<line x1="452.9" y1="1201.94" x2="457.4" y2="1201.94" stroke="#000" stroke-width="1.5"/>
<line x1="452.9" y1="1184.59" x2="455.5" y2="1184.59" stroke="#000" stroke-width="1.5"/>
<text transform="translate(447.4,1243.65) scale(0.930,1)" font-size="20.5" text-anchor="end">0</text>
<text transform="translate(447.4,1208.94) scale(0.930,1)" font-size="20.5" text-anchor="end">3</text>
<line x1="452.9" y1="1304.44" x2="457.4" y2="1304.44" stroke="#000" stroke-width="1.5"/>
<line x1="452.9" y1="1287.09" x2="455.5" y2="1287.09" stroke="#000" stroke-width="1.5"/>
<line x1="452.9" y1="1269.73" x2="457.4" y2="1269.73" stroke="#000" stroke-width="1.5"/>
<line x1="452.9" y1="1252.38" x2="455.5" y2="1252.38" stroke="#000" stroke-width="1.5"/>
<text transform="translate(447.4,1311.44) scale(0.930,1)" font-size="20.5" text-anchor="end">0</text>
<text transform="translate(447.4,1276.73) scale(0.930,1)" font-size="20.5" text-anchor="end">3</text>
<line x1="452.9" y1="1372.23" x2="457.4" y2="1372.23" stroke="#000" stroke-width="1.5"/>
<line x1="452.9" y1="1354.88" x2="455.5" y2="1354.88" stroke="#000" stroke-width="1.5"/>
<line x1="452.9" y1="1337.52" x2="457.4" y2="1337.52" stroke="#000" stroke-width="1.5"/>
<line x1="452.9" y1="1320.17" x2="455.5" y2="1320.17" stroke="#000" stroke-width="1.5"/>
<text transform="translate(447.4,1379.23) scale(0.930,1)" font-size="20.5" text-anchor="end">0</text>
<text transform="translate(447.4,1344.52) scale(0.930,1)" font-size="20.5" text-anchor="end">3</text>
<line x1="452.9" y1="1440.02" x2="457.4" y2="1440.02" stroke="#000" stroke-width="1.5"/>
<line x1="452.9" y1="1422.67" x2="455.5" y2="1422.67" stroke="#000" stroke-width="1.5"/>
<line x1="452.9" y1="1405.31" x2="457.4" y2="1405.31" stroke="#000" stroke-width="1.5"/>
<line x1="452.9" y1="1387.96" x2="455.5" y2="1387.96" stroke="#000" stroke-width="1.5"/>
<text transform="translate(447.4,1447.02) scale(0.930,1)" font-size="20.5" text-anchor="end">0</text>
<text transform="translate(447.4,1412.31) scale(0.930,1)" font-size="20.5" text-anchor="end">3</text>
<line x1="452.9" y1="1507.81" x2="457.4" y2="1507.81" stroke="#000" stroke-width="1.5"/>
<line x1="452.9" y1="1490.46" x2="455.5" y2="1490.46" stroke="#000" stroke-width="1.5"/>
<line x1="452.9" y1="1473.1" x2="457.4" y2="1473.1" stroke="#000" stroke-width="1.5"/>
<line x1="452.9" y1="1455.75" x2="455.5" y2="1455.75" stroke="#000" stroke-width="1.5"/>
<text transform="translate(447.4,1514.81) scale(0.930,1)" font-size="20.5" text-anchor="end">0</text>
<text transform="translate(447.4,1480.1) scale(0.930,1)" font-size="20.5" text-anchor="end">3</text>
<line x1="452.9" y1="1575.6" x2="457.4" y2="1575.6" stroke="#000" stroke-width="1.5"/>
<line x1="452.9" y1="1558.25" x2="455.5" y2="1558.25" stroke="#000" stroke-width="1.5"/>
<line x1="452.9" y1="1540.89" x2="457.4" y2="1540.89" stroke="#000" stroke-width="1.5"/>
<line x1="452.9" y1="1523.54" x2="455.5" y2="1523.54" stroke="#000" stroke-width="1.5"/>
<text transform="translate(447.4,1582.6) scale(0.930,1)" font-size="20.5" text-anchor="end">0</text>
<text transform="translate(447.4,1547.89) scale(0.930,1)" font-size="20.5" text-anchor="end">3</text>
<line x1="452.9" y1="965.49" x2="727.3" y2="965.49" stroke="#000" stroke-width="2.5"/>
<line x1="452.9" y1="1033.28" x2="727.3" y2="1033.28" stroke="#000" stroke-width="2.5"/>
<line x1="452.9" y1="1101.07" x2="727.3" y2="1101.07" stroke="#000" stroke-width="2.5"/>
<line x1="452.9" y1="1168.86" x2="727.3" y2="1168.86" stroke="#000" stroke-width="2.5"/>
<line x1="452.9" y1="1236.65" x2="727.3" y2="1236.65" stroke="#000" stroke-width="2.5"/>
<line x1="452.9" y1="1304.44" x2="727.3" y2="1304.44" stroke="#000" stroke-width="2.5"/>
<line x1="452.9" y1="1372.23" x2="727.3" y2="1372.23" stroke="#000" stroke-width="2.5"/>
<line x1="452.9" y1="1440.02" x2="727.3" y2="1440.02" stroke="#000" stroke-width="2.5"/>
<line x1="452.9" y1="1507.81" x2="727.3" y2="1507.81" stroke="#000" stroke-width="2.5"/>
<rect x="452.9" y="897.7" width="274.4" height="677.9" fill="none" stroke="#000" stroke-width="2.0"/>
<line x1="472.5" y1="1575.6" x2="472.5" y2="1573" stroke="#000" stroke-width="1.5"/>
<line x1="492.1" y1="1575.6" x2="492.1" y2="1571.1" stroke="#000" stroke-width="1.5"/>
<line x1="511.7" y1="1575.6" x2="511.7" y2="1573" stroke="#000" stroke-width="1.5"/>
<line x1="531.3" y1="1575.6" x2="531.3" y2="1571.1" stroke="#000" stroke-width="1.5"/>
<line x1="550.9" y1="1575.6" x2="550.9" y2="1573" stroke="#000" stroke-width="1.5"/>
<line x1="570.5" y1="1575.6" x2="570.5" y2="1571.1" stroke="#000" stroke-width="1.5"/>
<line x1="590.1" y1="1575.6" x2="590.1" y2="1573" stroke="#000" stroke-width="1.5"/>
<line x1="609.7" y1="1575.6" x2="609.7" y2="1571.1" stroke="#000" stroke-width="1.5"/>
<line x1="629.3" y1="1575.6" x2="629.3" y2="1573" stroke="#000" stroke-width="1.5"/>
<line x1="648.9" y1="1575.6" x2="648.9" y2="1571.1" stroke="#000" stroke-width="1.5"/>
<line x1="668.5" y1="1575.6" x2="668.5" y2="1573" stroke="#000" stroke-width="1.5"/>
<line x1="688.1" y1="1575.6" x2="688.1" y2="1571.1" stroke="#000" stroke-width="1.5"/>
<line x1="707.7" y1="1575.6" x2="707.7" y2="1573" stroke="#000" stroke-width="1.5"/>
<text transform="translate(452.9,1596.7)" font-size="19.2" text-anchor="middle">-8</text>
<text transform="translate(492.1,1596.7)" font-size="19.2" text-anchor="middle">-6</text>
<text transform="translate(531.3,1596.7)" font-size="19.2" text-anchor="middle">-4</text>
<text transform="translate(570.5,1596.7)" font-size="19.2" text-anchor="middle">-2</text>
<text transform="translate(609.7,1596.7)" font-size="19.2" text-anchor="middle">0</text>
<text transform="translate(648.9,1596.7)" font-size="19.2" text-anchor="middle">2</text>
<text transform="translate(688.1,1596.7)" font-size="19.2" text-anchor="middle">4</text>
<text transform="translate(727.3,1596.7)" font-size="19.2" text-anchor="middle">6</text>
<polyline points="450.9,954.6 453.2,954.6 456.0,953.9 457.8,954.0 459.5,955.3 461.3,955.3 463.0,952.8 464.8,952.6 466.5,956.2 468.3,955.3 470.0,951.8 471.8,955.9 473.5,954.6 475.3,957.9 477.0,955.8 478.8,956.3 480.5,957.9 482.3,955.5 484.0,955.3 485.8,953.8 487.5,953.9 489.3,953.8 491.0,955.3 492.8,952.5 494.6,952.8 496.3,950.3 498.1,949.3 499.8,950.0 501.6,951.1 503.3,953.2 505.1,947.6 506.8,948.9 508.6,949.3 510.3,954.8 512.1,945.8 513.8,949.6 515.6,946.9 517.3,946.2 519.1,944.1 520.8,948.8 522.6,942.3 524.3,941.8 526.1,940.6 527.8,931.7 529.6,938.8 531.3,931.0 533.1,937.0 534.8,934.9 536.6,937.7 538.3,937.3 540.1,935.3 542.9,933.5 544.3,937.0 546.4,947.6 548.2,961.6 549.2,965.5 551.2,965.5 553.2,965.5 555.2,965.5 557.2,965.5 559.2,965.5 561.1,965.5 563.1,965.5 565.1,965.5 567.1,965.5 569.1,965.5 571.1,965.5 573.1,965.5 575.1,965.5 577.0,965.5 579.0,965.5 581.0,965.5 583.0,965.5 585.0,965.5 587.0,965.5 589.0,965.5 591.0,965.5 593.0,965.5 594.9,965.5 596.9,965.5 598.9,965.5 600.9,965.5 602.9,965.5 604.9,965.5 606.9,965.5 608.9,965.5 610.8,965.5 612.8,965.5 614.8,965.5 616.8,965.5 618.8,965.5 620.8,965.5 622.8,965.5 624.8,965.5 626.8,965.5 628.7,965.5 630.7,965.5 632.7,965.5 634.7,965.5 636.5,964.8 638.2,964.0 640.0,963.3 641.7,962.7 643.5,962.5 645.2,961.6 647.0,961.5 648.7,959.3 650.5,958.1 652.2,955.9 654.0,957.2 655.7,956.3 657.5,959.9 659.2,959.8 661.0,957.1 662.7,959.3 664.5,961.6 666.2,962.5 668.0,961.8 669.7,963.3 671.8,964.1 673.9,963.6 676.0,963.8 678.2,964.8 680.3,964.4 682.3,964.5 684.3,964.7 686.3,964.9 688.3,965.0 690.3,965.2 692.3,965.3 694.3,965.5 696.0,965.0 697.8,964.6 699.5,964.1 701.3,963.7 703.0,962.6 704.8,962.6 706.5,963.9 708.3,964.0 710.0,964.4 711.8,964.8 713.5,965.1 715.3,965.5 717.2,965.5 719.2,965.5 721.1,965.5 723.1,965.5 725.1,965.5 727.0,965.5 729.0,965.5" fill="none" stroke="#ff0000" stroke-width="2.1" stroke-linejoin="round" clip-path="url(#cbR0)"/>
<polyline points="450.9,1021.8 453.2,1021.8 456.0,1022.9 457.8,1017.8 459.5,1021.1 461.3,1026.8 463.0,1021.8 464.8,1023.6 466.5,1020.5 468.3,1023.9 470.0,1025.6 471.8,1024.4 473.5,1022.9 475.3,1025.0 477.0,1024.8 478.8,1023.9 480.5,1021.6 482.3,1024.3 484.0,1022.9 485.8,1025.4 487.5,1024.4 489.3,1024.6 491.0,1025.3 492.8,1020.3 494.6,1021.8 496.3,1022.2 498.1,1022.0 499.8,1023.9 501.6,1022.8 503.3,1024.6 505.1,1025.3 506.8,1024.7 508.6,1024.7 510.3,1024.6 512.1,1021.6 513.8,1024.3 515.6,1026.4 517.3,1026.3 519.1,1028.5 520.8,1025.1 522.6,1027.4 524.3,1027.7 526.1,1029.8 527.8,1029.3 529.6,1029.2 531.3,1029.6 533.1,1029.9 534.8,1031.6 536.6,1030.9 538.3,1030.8 540.1,1030.9 541.9,1031.1 543.6,1032.4 545.4,1032.7 547.1,1033.0 548.9,1033.3 550.9,1033.3 552.9,1033.3 554.9,1033.3 556.9,1033.3 558.9,1033.3 560.9,1033.3 562.9,1033.3 564.9,1033.3 566.9,1033.3 568.9,1033.3 571.0,1033.3 573.0,1033.3 575.0,1033.3 577.0,1033.3 579.0,1033.3 581.0,1033.3 583.0,1033.3 585.0,1033.3 587.0,1033.3 589.0,1033.3 591.0,1033.3 593.0,1033.3 595.1,1033.3 597.1,1033.3 599.1,1033.3 601.1,1033.3 603.1,1033.3 605.1,1033.3 607.1,1033.3 609.1,1033.3 611.1,1033.3 613.1,1033.3 615.1,1033.3 617.1,1033.3 619.2,1033.3 621.2,1033.3 623.2,1033.3 625.2,1033.3 627.2,1033.3 629.2,1033.3 631.2,1033.3 633.0,1029.9 635.4,1022.9 637.5,1014.1 640.0,1005.4 642.4,1003.6 644.5,1006.4 647.0,998.4 649.4,993.1 651.5,1001.9 653.3,1005.4 655.0,994.9 656.8,1000.1 658.5,1014.1 661.0,1017.6 663.4,1019.4 666.2,1021.1 669.0,1024.6 671.5,1031.7 673.2,1033.3 675.2,1033.3 677.1,1033.3 679.0,1033.3 680.9,1033.3 682.8,1033.3 684.7,1033.3 686.6,1033.3 688.5,1033.3 690.4,1033.3 692.4,1033.3 694.3,1033.3 696.0,1032.3 697.8,1031.2 699.5,1030.2 701.3,1029.2 703.0,1028.3 704.8,1028.7 706.5,1030.0 708.3,1030.9 710.0,1031.4 711.8,1030.7 713.5,1032.8 715.3,1032.4 717.2,1032.5 719.2,1032.6 721.1,1032.7 723.1,1032.9 725.1,1033.0 727.0,1033.1 729.0,1033.3" fill="none" stroke="#000000" stroke-width="2.1" stroke-linejoin="round" clip-path="url(#cbR1)"/>
<polyline points="450.9,1080.8 453.2,1080.8 456.0,1084.3 457.8,1086.5 459.5,1086.8 461.3,1090.4 463.0,1089.6 464.8,1091.3 466.5,1092.4 468.3,1092.2 470.0,1093.8 471.8,1091.8 473.5,1093.1 475.3,1092.2 477.0,1094.4 478.8,1094.8 480.5,1095.2 482.3,1095.5 484.0,1094.8 485.8,1094.6 487.5,1094.3 489.3,1092.5 491.0,1095.9 492.8,1095.5 494.6,1097.5 496.3,1094.8 498.1,1094.8 499.8,1095.9 501.6,1094.0 503.3,1096.7 505.1,1095.9 506.8,1093.9 508.6,1098.6 510.3,1097.1 512.1,1096.6 513.8,1097.2 515.6,1097.1 517.3,1097.0 519.1,1096.6 521.2,1094.0 523.3,1094.5 525.4,1096.4 527.5,1097.2 529.6,1095.9 531.7,1095.1 533.8,1096.2 535.9,1097.9 538.0,1097.1 540.1,1096.6 541.9,1096.3 543.6,1097.4 545.4,1096.5 547.1,1097.3 548.9,1101.1 550.9,1101.1 552.9,1101.1 554.8,1101.1 556.8,1101.1 558.8,1101.1 560.8,1101.1 562.8,1101.1 564.8,1101.1 566.8,1101.1 568.8,1101.1 570.8,1101.1 572.8,1101.1 574.8,1101.1 576.8,1101.1 578.8,1101.1 580.8,1101.1 582.8,1101.1 584.8,1101.1 586.8,1101.1 588.8,1101.1 590.8,1101.1 592.8,1101.1 594.8,1101.1 596.8,1101.1 598.8,1101.1 600.8,1101.1 602.8,1101.1 604.8,1101.1 606.8,1101.1 608.8,1101.1 610.7,1101.1 612.7,1101.1 614.7,1101.1 616.7,1101.1 618.7,1101.1 620.7,1101.1 622.7,1101.1 624.7,1101.1 626.7,1101.1 628.7,1101.1 630.7,1101.1 632.7,1101.1 634.7,1101.1 636.5,1100.5 638.2,1099.9 640.0,1099.3 641.7,1098.7 643.5,1097.9 645.2,1097.8 647.0,1099.9 648.7,1099.0 650.8,1099.6 652.9,1100.2 655.0,1098.1 657.1,1098.1 659.2,1098.3 661.2,1097.1 663.2,1097.8 665.2,1098.2 667.2,1097.4 669.2,1098.2 671.2,1097.3 673.2,1098.3 675.0,1097.9 676.8,1099.2 678.5,1098.1 680.3,1099.4 682.3,1099.8 684.3,1099.2 686.3,1098.4 688.3,1098.5 690.3,1099.7 692.3,1100.3 694.3,1099.4 696.0,1098.8 697.8,1098.9 699.5,1098.8 701.3,1096.6 703.0,1096.3 704.8,1097.7 706.5,1098.3 708.3,1098.3 710.0,1099.1 711.8,1099.5 713.5,1098.7 715.3,1099.4 717.2,1099.6 719.2,1099.9 721.1,1100.1 723.1,1100.3 725.1,1100.6 727.0,1100.8 729.0,1101.1" fill="none" stroke="#6a00ff" stroke-width="2.1" stroke-linejoin="round" clip-path="url(#cbR2)"/>
<polyline points="450.9,1161.4 453.2,1161.4 456.0,1160.3 457.8,1158.2 459.5,1159.6 461.3,1162.8 463.0,1161.4 464.8,1157.2 466.5,1157.9 468.3,1156.1 470.0,1156.8 471.8,1156.4 473.5,1154.4 475.3,1154.4 477.0,1155.4 478.8,1151.6 480.5,1152.6 482.3,1159.4 484.0,1154.4 485.8,1153.1 487.5,1151.9 489.3,1150.5 491.0,1153.3 492.8,1151.0 494.6,1150.9 496.3,1147.7 498.1,1148.4 499.8,1151.6 501.6,1151.9 503.3,1150.1 505.1,1149.1 506.8,1149.0 508.6,1152.6 510.3,1151.9 512.1,1150.9 513.8,1148.2 515.6,1149.1 517.3,1148.6 519.1,1149.8 520.8,1147.5 522.6,1145.6 524.3,1147.4 526.1,1144.9 527.8,1139.6 529.6,1148.4 531.3,1151.0 533.1,1147.4 534.8,1147.1 536.6,1145.6 538.3,1143.9 540.8,1149.1 543.6,1150.9 546.4,1157.9 548.2,1166.7 549.9,1168.9 551.9,1168.9 553.9,1168.9 556.0,1168.9 558.0,1168.9 560.0,1168.9 562.0,1168.9 564.0,1168.9 566.1,1168.9 568.1,1168.9 570.1,1168.9 572.1,1168.9 574.1,1168.9 576.2,1168.9 578.2,1168.9 580.2,1168.9 582.2,1168.9 584.2,1168.9 586.3,1168.9 588.3,1168.9 590.3,1168.9 592.3,1168.9 594.3,1168.9 596.3,1168.9 598.4,1168.9 600.4,1168.9 602.4,1168.9 604.4,1168.9 606.4,1168.9 608.5,1168.9 610.5,1168.9 612.5,1168.9 614.5,1168.9 616.5,1168.9 618.6,1168.9 620.6,1168.9 622.6,1168.9 624.6,1168.9 626.6,1168.9 628.6,1168.9 630.7,1168.9 632.7,1168.9 634.7,1168.9 636.5,1165.9 638.2,1163.5 640.0,1163.1 641.7,1163.2 643.5,1161.4 645.2,1162.5 647.0,1160.3 648.7,1161.0 650.5,1162.4 652.2,1159.0 654.0,1159.6 655.7,1161.0 657.5,1163.1 659.2,1164.3 661.0,1163.8 662.7,1164.4 664.5,1165.9 666.2,1167.4 668.0,1166.7 669.7,1165.3 671.5,1165.3 673.2,1167.4 675.0,1167.7 676.8,1168.1 678.5,1168.5 680.3,1168.9 682.3,1168.9 684.3,1168.9 686.3,1168.9 688.3,1168.9 690.3,1168.9 692.3,1168.9 694.3,1168.9 696.0,1168.5 697.8,1168.1 699.5,1167.7 701.3,1167.4 703.3,1167.7 705.3,1167.1 707.3,1167.9 709.3,1166.0 711.3,1168.1 713.3,1167.4 715.3,1167.4 717.2,1167.6 719.2,1167.8 721.1,1168.0 723.1,1168.2 725.1,1168.4 727.0,1168.6 729.0,1168.9" fill="none" stroke="#ff0000" stroke-width="2.1" stroke-linejoin="round" clip-path="url(#cbR3)"/>
<polyline points="450.9,1230.9 453.2,1230.9 456.0,1228.8 457.8,1227.4 459.5,1227.4 461.3,1229.9 463.0,1228.8 464.8,1228.7 466.5,1225.3 468.3,1225.0 470.0,1226.3 471.8,1223.2 473.5,1224.1 475.3,1223.9 477.0,1221.7 478.8,1223.7 480.5,1224.6 482.3,1224.1 484.0,1222.8 485.8,1215.9 487.5,1221.1 489.3,1221.6 491.0,1222.8 492.8,1222.9 494.6,1219.3 496.3,1217.6 498.1,1215.8 499.8,1216.5 501.6,1217.6 503.3,1216.0 505.1,1214.1 506.8,1207.7 508.6,1217.6 510.3,1213.0 512.1,1213.4 513.8,1209.0 515.6,1216.9 517.3,1214.5 519.1,1217.6 520.8,1218.0 522.6,1214.1 524.3,1213.2 526.1,1215.8 527.8,1214.1 529.6,1212.3 531.3,1210.8 533.1,1208.8 534.8,1199.8 536.6,1198.3 538.3,1205.3 540.1,1214.1 541.9,1216.9 543.6,1214.1 545.4,1222.8 547.1,1231.6 548.9,1236.7 550.8,1236.7 552.8,1236.7 554.8,1236.7 556.8,1236.7 558.8,1236.7 560.7,1236.7 562.7,1236.7 564.7,1236.7 566.7,1236.7 568.7,1236.7 570.6,1236.7 572.6,1236.7 574.6,1236.7 576.6,1236.7 578.6,1236.7 580.5,1236.7 582.5,1236.7 584.5,1236.7 586.5,1236.7 588.5,1236.7 590.4,1236.7 592.4,1236.7 594.4,1236.7 596.2,1234.1 597.9,1231.6 600.4,1229.8 603.2,1233.3 606.0,1236.7 608.0,1236.7 610.1,1236.7 612.1,1236.7 614.2,1236.7 616.2,1236.7 618.3,1236.7 620.3,1236.7 622.4,1236.7 624.4,1236.7 626.5,1236.7 628.5,1236.7 630.6,1236.7 632.7,1236.7 634.7,1236.7 636.5,1235.0 638.2,1233.3 640.0,1231.9 641.7,1234.2 643.5,1230.7 645.2,1231.6 647.0,1231.3 648.7,1229.8 650.5,1229.8 652.2,1230.2 654.0,1232.7 655.7,1233.3 657.5,1232.7 659.2,1231.3 661.0,1230.1 662.7,1231.6 664.8,1230.7 666.9,1228.1 669.0,1214.8 670.8,1228.1 672.5,1230.1 674.3,1231.6 676.8,1226.3 678.5,1233.3 680.7,1234.4 682.9,1232.3 685.1,1234.3 687.3,1234.4 689.3,1233.4 691.3,1234.8 693.3,1235.3 695.3,1233.9 697.3,1232.4 699.3,1233.9 701.3,1233.3 703.0,1235.2 704.8,1233.2 706.5,1232.4 708.3,1234.0 710.4,1234.3 712.4,1234.6 714.5,1234.8 716.6,1235.1 718.6,1235.3 720.7,1235.6 722.8,1235.9 724.8,1236.1 726.9,1236.4 729.0,1236.7" fill="none" stroke="#ff0000" stroke-width="2.1" stroke-linejoin="round" clip-path="url(#cbR4)"/>
<polyline points="450.9,1295.3 453.2,1295.3 456.0,1294.6 457.8,1294.6 459.5,1292.9 462.3,1287.6 464.8,1292.9 466.5,1295.4 468.3,1294.6 470.0,1294.6 471.8,1296.4 473.5,1295.9 475.3,1296.5 477.0,1295.3 478.8,1296.6 480.5,1294.7 482.3,1297.4 484.0,1297.0 485.8,1297.0 487.5,1296.7 489.3,1296.0 491.0,1300.2 492.8,1296.4 494.6,1298.1 496.3,1299.0 498.1,1297.5 499.8,1296.1 501.6,1298.8 503.3,1299.8 505.1,1299.3 506.8,1299.1 508.6,1298.8 510.3,1298.5 512.1,1300.4 513.8,1298.1 515.6,1299.5 517.3,1299.9 519.1,1299.1 520.8,1298.8 522.6,1299.9 524.3,1297.1 526.1,1298.9 527.8,1300.3 529.6,1299.5 531.3,1300.2 533.1,1300.2 534.8,1297.5 536.6,1299.9 538.3,1298.8 540.1,1298.3 541.9,1297.7 543.6,1298.1 545.4,1301.4 547.1,1300.9 548.9,1304.4 550.9,1304.4 552.9,1304.4 554.8,1304.4 556.8,1304.4 558.8,1304.4 560.8,1304.4 562.8,1304.4 564.8,1304.4 566.8,1304.4 568.8,1304.4 570.8,1304.4 572.8,1304.4 574.8,1304.4 576.8,1304.4 578.8,1304.4 580.8,1304.4 582.8,1304.4 584.8,1304.4 586.8,1304.4 588.8,1304.4 590.8,1304.4 592.8,1304.4 594.8,1304.4 596.8,1304.4 598.8,1304.4 600.8,1304.4 602.8,1304.4 604.8,1304.4 606.8,1304.4 608.8,1304.4 610.7,1304.4 612.7,1304.4 614.7,1304.4 616.7,1304.4 618.7,1304.4 620.7,1304.4 622.7,1304.4 624.7,1304.4 626.7,1304.4 628.7,1304.4 630.7,1304.4 632.7,1304.4 634.7,1304.4 636.5,1303.4 638.2,1302.4 640.0,1303.2 641.7,1302.8 643.5,1302.9 645.2,1302.7 647.0,1303.9 648.7,1301.4 650.5,1301.7 652.2,1302.4 654.0,1301.0 655.7,1303.5 657.5,1302.4 659.2,1302.4 661.3,1301.7 663.4,1303.1 665.5,1301.3 667.6,1301.0 669.7,1301.7 671.5,1300.5 673.2,1300.9 675.0,1300.5 676.8,1301.9 678.5,1301.1 680.3,1302.4 682.0,1301.4 683.8,1301.8 685.5,1303.3 687.3,1301.7 689.0,1302.2 690.8,1302.1 692.5,1302.6 694.3,1302.4 696.0,1301.6 697.8,1301.9 699.5,1300.7 701.3,1300.9 703.0,1302.9 704.8,1301.5 706.5,1300.3 708.3,1299.9 710.0,1301.3 711.8,1301.8 713.5,1302.5 715.3,1301.7 717.0,1303.0 718.8,1304.4 720.8,1304.4 722.9,1304.4 724.9,1304.4 726.9,1304.4 729.0,1304.4" fill="none" stroke="#6a00ff" stroke-width="2.1" stroke-linejoin="round" clip-path="url(#cbR5)"/>
<polyline points="450.9,1364.8 453.2,1364.8 456.0,1359.6 457.8,1359.0 459.5,1356.1 461.3,1356.8 463.0,1351.9 464.8,1351.4 466.5,1356.8 468.3,1355.7 470.0,1358.9 471.8,1355.5 473.5,1359.6 475.3,1360.3 477.0,1356.1 478.8,1362.3 480.5,1361.3 482.3,1361.0 484.0,1363.6 485.8,1362.4 487.5,1363.7 489.3,1362.6 491.0,1363.1 492.8,1364.6 494.6,1365.3 496.3,1364.7 498.1,1362.4 499.8,1363.4 501.6,1362.4 503.3,1362.2 505.1,1364.8 506.8,1363.5 508.6,1365.5 510.3,1363.7 512.1,1364.1 513.8,1364.4 515.6,1365.8 517.3,1364.3 519.1,1365.9 520.8,1365.5 522.6,1364.3 524.3,1367.0 526.1,1366.6 528.2,1368.8 530.3,1367.0 532.4,1365.3 534.5,1366.5 536.6,1367.6 538.3,1368.2 540.1,1366.8 541.9,1368.1 543.6,1368.7 545.4,1369.9 547.1,1371.0 548.9,1372.2 550.8,1372.2 552.8,1372.2 554.8,1372.2 556.8,1372.2 558.8,1372.2 560.7,1372.2 562.7,1372.2 564.7,1372.2 566.7,1372.2 568.7,1372.2 570.6,1372.2 572.6,1372.2 574.6,1372.2 576.6,1372.2 578.6,1372.2 580.5,1372.2 582.5,1372.2 584.5,1372.2 586.5,1372.2 588.5,1372.2 590.4,1372.2 592.4,1372.2 594.4,1372.2 596.9,1364.8 599.7,1358.9 602.1,1360.3 603.9,1366.6 606.0,1372.2 608.0,1372.2 610.1,1372.2 612.2,1372.2 614.3,1372.2 616.3,1372.2 618.4,1372.2 620.5,1372.2 622.6,1372.2 624.7,1372.2 626.7,1372.2 628.8,1372.2 630.9,1372.2 633.0,1372.2 634.7,1366.6 636.5,1365.0 638.2,1360.3 640.0,1361.4 641.7,1358.9 643.5,1355.3 645.2,1355.4 648.0,1348.4 650.5,1340.3 652.2,1352.6 654.0,1353.8 655.7,1362.4 657.5,1364.3 659.2,1363.8 661.0,1359.8 662.7,1359.6 665.5,1364.8 666.9,1345.6 668.3,1300.0 669.4,1300.0 670.8,1369.4 672.9,1358.0 675.0,1349.1 676.8,1337.8 678.5,1349.1 680.3,1368.3 682.0,1369.4 683.8,1366.3 685.5,1366.5 687.3,1367.6 689.0,1366.0 690.8,1367.7 692.5,1366.2 694.3,1368.7 696.0,1368.6 697.8,1368.0 699.5,1368.1 701.3,1368.3 703.0,1367.3 704.8,1366.7 706.5,1363.8 708.3,1368.7 710.0,1369.5 711.8,1370.0 713.5,1369.2 715.3,1370.1 717.2,1370.4 719.2,1370.7 721.1,1371.0 723.1,1371.3 725.1,1371.6 727.0,1371.9 729.0,1372.2" fill="none" stroke="#000000" stroke-width="2.1" stroke-linejoin="round" clip-path="url(#cbR6)"/>
<polyline points="450.9,1434.9 453.2,1434.9 456.0,1429.6 458.8,1420.9 461.3,1410.4 463.7,1415.6 466.5,1426.1 468.3,1424.0 470.0,1422.6 471.8,1422.6 473.5,1426.1 475.3,1425.9 477.0,1419.8 478.8,1422.1 480.5,1424.4 482.3,1419.5 484.0,1419.1 485.8,1420.7 487.5,1423.3 489.3,1424.0 491.0,1422.6 492.8,1421.7 494.6,1419.1 496.3,1423.1 498.1,1426.1 499.8,1425.0 501.6,1424.4 503.3,1426.4 505.1,1426.8 506.8,1420.8 508.6,1419.8 510.3,1420.2 512.1,1422.6 513.8,1423.2 515.6,1426.1 517.3,1424.6 519.1,1427.9 520.8,1429.4 522.6,1429.6 524.3,1426.8 526.1,1427.9 527.8,1426.7 529.6,1426.1 531.3,1429.0 533.1,1420.9 534.8,1420.2 536.6,1422.6 538.3,1418.5 540.1,1419.1 541.9,1422.6 543.6,1423.3 545.4,1426.0 547.1,1434.9 548.9,1440.0 550.8,1440.0 552.8,1440.0 554.8,1440.0 556.7,1440.0 558.7,1440.0 560.7,1440.0 562.7,1440.0 564.6,1440.0 566.6,1440.0 568.6,1440.0 570.5,1440.0 572.5,1440.0 574.5,1440.0 576.5,1440.0 578.4,1440.0 580.4,1440.0 582.4,1440.0 584.3,1440.0 586.3,1440.0 588.3,1440.0 590.2,1440.0 592.2,1440.0 594.2,1440.0 596.2,1440.0 599.0,1437.4 601.1,1437.4 603.2,1436.7 606.0,1440.0 608.0,1440.0 610.1,1440.0 612.2,1440.0 614.3,1440.0 616.3,1440.0 618.4,1440.0 620.5,1440.0 622.6,1440.0 624.7,1440.0 626.7,1440.0 628.8,1440.0 630.9,1440.0 633.0,1440.0 634.7,1438.9 636.5,1437.8 638.2,1436.7 640.0,1436.5 641.7,1438.8 643.5,1438.1 645.2,1437.4 647.0,1436.9 648.7,1437.3 650.5,1435.3 652.2,1436.7 654.0,1436.1 655.7,1435.6 657.5,1434.9 659.2,1434.9 661.0,1436.0 662.7,1436.4 664.5,1436.2 666.2,1436.7 668.0,1436.7 669.7,1433.8 671.5,1435.3 673.2,1437.4 675.0,1434.9 676.8,1433.1 678.5,1435.2 680.3,1436.7 682.0,1437.9 683.8,1435.7 685.5,1435.8 687.3,1435.9 689.0,1436.8 690.8,1435.6 692.5,1437.8 694.3,1436.7 696.0,1438.1 697.8,1435.6 699.5,1435.0 701.3,1435.9 703.0,1436.7 704.8,1431.4 706.5,1426.8 709.0,1434.9 711.1,1435.3 713.2,1437.5 715.3,1438.4 717.2,1438.6 719.2,1438.9 721.1,1439.1 723.1,1439.3 725.1,1439.6 727.0,1439.8 729.0,1440.0" fill="none" stroke="#ff0000" stroke-width="2.1" stroke-linejoin="round" clip-path="url(#cbR7)"/>
<polyline points="450.9,1503.3 453.2,1503.3 456.0,1499.8 457.8,1498.3 459.5,1496.3 461.3,1495.9 463.0,1498.1 464.8,1495.8 466.5,1496.3 468.3,1496.9 470.0,1498.8 471.8,1498.7 473.5,1497.1 475.3,1497.4 477.0,1497.5 478.8,1498.6 480.5,1498.8 482.3,1499.3 484.0,1497.8 485.8,1497.4 487.5,1500.5 489.3,1499.1 491.0,1496.3 492.8,1493.4 494.6,1492.8 496.3,1496.9 498.1,1496.3 499.8,1497.6 501.6,1495.3 503.3,1489.6 505.1,1489.3 506.8,1491.4 508.6,1491.1 510.3,1486.3 512.1,1485.8 513.8,1486.0 515.6,1487.6 517.3,1481.4 519.1,1480.6 520.8,1482.8 522.6,1484.1 524.3,1488.2 526.1,1482.3 527.8,1485.3 529.6,1478.8 531.3,1476.3 533.1,1480.6 534.8,1477.5 536.6,1477.0 538.3,1475.5 540.1,1470.0 541.9,1464.8 543.6,1473.5 545.4,1464.8 547.1,1487.6 548.9,1505.1 550.6,1507.8 552.6,1507.8 554.6,1507.8 556.6,1507.8 558.5,1507.8 560.5,1507.8 562.5,1507.8 564.5,1507.8 566.5,1507.8 568.4,1507.8 570.4,1507.8 572.4,1507.8 574.4,1507.8 576.4,1507.8 578.3,1507.8 580.3,1507.8 582.3,1507.8 584.3,1507.8 586.3,1507.8 588.2,1507.8 590.2,1507.8 592.2,1507.8 594.2,1507.8 596.2,1507.8 597.9,1507.0 599.7,1506.1 601.4,1506.2 603.2,1505.8 606.0,1507.8 608.0,1507.8 610.1,1507.8 612.2,1507.8 614.3,1507.8 616.3,1507.8 618.4,1507.8 620.5,1507.8 622.6,1507.8 624.7,1507.8 626.7,1507.8 628.8,1507.8 630.9,1507.8 633.0,1507.8 634.7,1506.4 636.5,1505.1 638.2,1506.5 640.0,1505.1 641.7,1505.8 643.5,1504.2 645.2,1503.9 647.0,1504.3 648.7,1504.4 650.5,1504.9 652.2,1505.4 654.0,1504.9 655.7,1505.1 657.5,1504.8 659.2,1503.4 661.0,1505.5 662.7,1504.4 664.5,1502.3 666.2,1502.9 668.0,1500.9 669.7,1495.3 671.5,1503.3 673.2,1495.9 675.0,1498.1 676.8,1496.3 678.5,1503.3 680.3,1501.3 682.0,1502.4 683.8,1501.6 685.5,1500.5 687.3,1499.8 689.0,1499.6 690.8,1500.9 692.5,1498.8 694.3,1499.1 696.0,1501.5 697.8,1505.1 699.5,1503.2 701.3,1499.5 703.0,1498.1 705.5,1486.9 707.6,1494.6 710.0,1504.4 711.8,1506.9 713.5,1505.1 715.3,1506.5 717.2,1506.7 719.2,1506.9 721.1,1507.0 723.1,1507.2 725.1,1507.4 727.0,1507.6 729.0,1507.8" fill="none" stroke="#ff0000" stroke-width="2.1" stroke-linejoin="round" clip-path="url(#cbR8)"/>
<polyline points="450.9,1569.9 453.2,1569.9 456.0,1568.1 457.8,1564.3 459.5,1565.3 462.3,1559.4 464.8,1562.9 466.5,1566.7 468.3,1566.4 470.0,1565.1 471.8,1563.9 473.5,1563.5 475.3,1569.6 477.0,1565.3 478.8,1560.3 480.5,1562.1 482.3,1562.9 484.0,1557.7 485.8,1562.5 487.5,1564.6 489.3,1564.8 491.0,1567.5 492.8,1561.8 494.6,1561.8 496.3,1566.4 498.1,1562.7 499.8,1564.4 501.6,1564.6 503.3,1567.2 505.1,1562.9 506.8,1564.8 508.6,1566.4 510.3,1564.0 512.1,1561.8 513.8,1562.5 515.6,1562.6 517.3,1563.9 519.1,1565.9 520.8,1564.5 522.6,1566.4 524.3,1567.9 526.1,1567.3 527.8,1567.4 529.6,1568.2 531.3,1567.7 533.1,1568.8 534.8,1569.5 536.6,1573.8 538.3,1570.2 540.1,1570.7 541.9,1573.2 543.6,1572.4 545.4,1575.0 547.1,1574.1 548.9,1574.9 550.6,1575.6 552.6,1575.6 554.6,1575.6 556.6,1575.6 558.6,1575.6 560.6,1575.6 562.6,1575.6 564.5,1575.6 566.5,1575.6 568.5,1575.6 570.5,1575.6 572.5,1575.6 574.5,1575.6 576.5,1575.6 578.5,1575.6 580.5,1575.6 582.5,1575.6 584.5,1575.6 586.4,1575.6 588.4,1575.6 590.4,1575.6 592.4,1575.6 594.4,1575.6 596.2,1566.4 597.9,1557.6 599.7,1554.1 601.4,1548.9 603.2,1555.9 604.9,1564.6 606.7,1573.4 608.4,1575.6 610.5,1575.6 612.5,1575.6 614.6,1575.6 616.6,1575.6 618.6,1575.6 620.7,1575.6 622.7,1575.6 624.8,1575.6 626.8,1575.6 628.9,1575.6 630.9,1575.6 633.0,1575.6 634.7,1569.9 636.5,1567.7 638.2,1565.3 640.0,1563.9 641.7,1568.8 643.5,1566.3 645.2,1565.3 647.0,1569.8 648.7,1572.4 650.5,1569.4 652.2,1569.9 654.0,1569.5 655.7,1573.4 657.5,1568.6 659.2,1561.8 661.0,1561.3 662.7,1560.4 665.5,1561.8 668.0,1572.4 669.7,1555.9 671.5,1574.5 673.2,1562.3 675.0,1541.9 677.5,1545.4 679.6,1573.4 682.0,1557.6 683.8,1550.6 686.6,1557.6 688.3,1548.9 690.8,1547.1 692.5,1573.4 694.3,1571.7 696.0,1571.7 697.8,1567.5 699.5,1568.1 702.0,1561.8 704.1,1536.6 705.8,1508.6 707.6,1526.1 709.0,1557.6 711.8,1569.9 713.5,1572.6 715.3,1574.5 717.0,1575.0 718.8,1575.6 720.8,1575.6 722.9,1575.6 724.9,1575.6 726.9,1575.6 729.0,1575.6" fill="none" stroke="#000000" stroke-width="2.1" stroke-linejoin="round" clip-path="url(#cbR9)"/>
<line x1="609.7" y1="897.7" x2="609.7" y2="1575.6" stroke="#ff0000" stroke-width="2.0" stroke-dasharray="13 5 5.5 4.8" stroke-dashoffset="8.4"/>
<text transform="translate(459,918.6) scale(1.040,1)" font-size="19">11th-layer</text>
<line x1="663.8" y1="909" x2="702.1" y2="909" stroke="#ff0000" stroke-width="2"/>
<text transform="translate(705.7,914.6)" font-size="16">O</text>
<text transform="translate(459,985) scale(1.040,1)" font-size="19">12th-layer</text>
<line x1="663.8" y1="976.79" x2="702.1" y2="976.79" stroke="#000000" stroke-width="2"/>
<text transform="translate(705.7,982.39)" font-size="16">W</text>
<text transform="translate(459,1053.6) scale(1.040,1)" font-size="19">13th-layer</text>
<line x1="663.8" y1="1044.58" x2="702.1" y2="1044.58" stroke="#6a00ff" stroke-width="2"/>
<text transform="translate(705.7,1050.18)" font-size="16">Zn</text>
<text transform="translate(459,1121.8) scale(1.040,1)" font-size="19">14th-layer</text>
<line x1="663.8" y1="1112.37" x2="702.1" y2="1112.37" stroke="#ff0000" stroke-width="2"/>
<text transform="translate(705.7,1117.97)" font-size="16">O</text>
<text transform="translate(459,1191.6) scale(1.040,1)" font-size="19">15th-layer</text>
<line x1="663.8" y1="1180.16" x2="702.1" y2="1180.16" stroke="#ff0000" stroke-width="2"/>
<text transform="translate(705.7,1185.76)" font-size="16">O</text>
<text transform="translate(459,1256.8) scale(1.040,1)" font-size="19">16th-layer</text>
<line x1="663.8" y1="1247.95" x2="702.1" y2="1247.95" stroke="#6a00ff" stroke-width="2"/>
<text transform="translate(705.7,1253.55)" font-size="16">Zn</text>
<text transform="translate(459,1325.4) scale(1.040,1)" font-size="19">17th-layer</text>
<line x1="663.8" y1="1315.74" x2="702.1" y2="1315.74" stroke="#000000" stroke-width="2"/>
<text transform="translate(705.7,1321.34)" font-size="16">W</text>
<text transform="translate(459,1391.2) scale(1.040,1)" font-size="19">18th-layer</text>
<line x1="663.8" y1="1383.53" x2="702.1" y2="1383.53" stroke="#ff0000" stroke-width="2"/>
<text transform="translate(705.7,1389.13)" font-size="16">O</text>
<text transform="translate(459,1461.9) scale(1.040,1)" font-size="19">19th-layer</text>
<line x1="663.8" y1="1451.32" x2="702.1" y2="1451.32" stroke="#ff0000" stroke-width="2"/>
<text transform="translate(705.7,1456.92)" font-size="16">O</text>
<text transform="translate(459,1530.2) scale(1.040,1)" font-size="19">20th-layer</text>
<line x1="663.8" y1="1519.11" x2="702.1" y2="1519.11" stroke="#000000" stroke-width="2"/>
<text transform="translate(705.7,1524.71)" font-size="16">W</text>
<line x1="45.5" y1="1749.92" x2="50" y2="1749.92" stroke="#000" stroke-width="1.5"/>
<line x1="45.5" y1="1736.94" x2="48.1" y2="1736.94" stroke="#000" stroke-width="1.5"/>
<line x1="45.5" y1="1723.96" x2="50" y2="1723.96" stroke="#000" stroke-width="1.5"/>
<line x1="45.5" y1="1710.99" x2="48.1" y2="1710.99" stroke="#000" stroke-width="1.5"/>
<text transform="translate(38.8,1756.62)" font-size="19" text-anchor="end">0</text>
<text transform="translate(38.8,1730.66)" font-size="19" text-anchor="end">3</text>
<line x1="45.5" y1="1802.04" x2="50" y2="1802.04" stroke="#000" stroke-width="1.5"/>
<line x1="45.5" y1="1789.06" x2="48.1" y2="1789.06" stroke="#000" stroke-width="1.5"/>
<line x1="45.5" y1="1776.09" x2="50" y2="1776.09" stroke="#000" stroke-width="1.5"/>
<line x1="45.5" y1="1763.11" x2="48.1" y2="1763.11" stroke="#000" stroke-width="1.5"/>
<text transform="translate(38.8,1808.74)" font-size="19" text-anchor="end">0</text>
<text transform="translate(38.8,1782.79)" font-size="19" text-anchor="end">3</text>
<line x1="45.5" y1="1854.16" x2="50" y2="1854.16" stroke="#000" stroke-width="1.5"/>
<line x1="45.5" y1="1841.19" x2="48.1" y2="1841.19" stroke="#000" stroke-width="1.5"/>
<line x1="45.5" y1="1828.21" x2="50" y2="1828.21" stroke="#000" stroke-width="1.5"/>
<line x1="45.5" y1="1815.23" x2="48.1" y2="1815.23" stroke="#000" stroke-width="1.5"/>
<text transform="translate(38.8,1860.86)" font-size="19" text-anchor="end">0</text>
<text transform="translate(38.8,1834.91)" font-size="19" text-anchor="end">3</text>
<line x1="45.5" y1="1906.29" x2="50" y2="1906.29" stroke="#000" stroke-width="1.5"/>
<line x1="45.5" y1="1893.31" x2="48.1" y2="1893.31" stroke="#000" stroke-width="1.5"/>
<line x1="45.5" y1="1880.33" x2="50" y2="1880.33" stroke="#000" stroke-width="1.5"/>
<line x1="45.5" y1="1867.35" x2="48.1" y2="1867.35" stroke="#000" stroke-width="1.5"/>
<text transform="translate(38.8,1912.99)" font-size="19" text-anchor="end">0</text>
<text transform="translate(38.8,1887.03)" font-size="19" text-anchor="end">3</text>
<line x1="45.5" y1="1958.41" x2="50" y2="1958.41" stroke="#000" stroke-width="1.5"/>
<line x1="45.5" y1="1945.43" x2="48.1" y2="1945.43" stroke="#000" stroke-width="1.5"/>
<line x1="45.5" y1="1932.45" x2="50" y2="1932.45" stroke="#000" stroke-width="1.5"/>
<line x1="45.5" y1="1919.47" x2="48.1" y2="1919.47" stroke="#000" stroke-width="1.5"/>
<text transform="translate(38.8,1965.11)" font-size="19" text-anchor="end">0</text>
<text transform="translate(38.8,1939.15)" font-size="19" text-anchor="end">3</text>
<line x1="45.5" y1="2010.53" x2="50" y2="2010.53" stroke="#000" stroke-width="1.5"/>
<line x1="45.5" y1="1997.55" x2="48.1" y2="1997.55" stroke="#000" stroke-width="1.5"/>
<line x1="45.5" y1="1984.57" x2="50" y2="1984.57" stroke="#000" stroke-width="1.5"/>
<line x1="45.5" y1="1971.59" x2="48.1" y2="1971.59" stroke="#000" stroke-width="1.5"/>
<text transform="translate(38.8,2017.23)" font-size="19" text-anchor="end">0</text>
<text transform="translate(38.8,1991.27)" font-size="19" text-anchor="end">3</text>
<line x1="45.5" y1="2062.65" x2="50" y2="2062.65" stroke="#000" stroke-width="1.5"/>
<line x1="45.5" y1="2049.67" x2="48.1" y2="2049.67" stroke="#000" stroke-width="1.5"/>
<line x1="45.5" y1="2036.69" x2="50" y2="2036.69" stroke="#000" stroke-width="1.5"/>
<line x1="45.5" y1="2023.72" x2="48.1" y2="2023.72" stroke="#000" stroke-width="1.5"/>
<text transform="translate(38.8,2069.35)" font-size="19" text-anchor="end">0</text>
<text transform="translate(38.8,2043.39)" font-size="19" text-anchor="end">3</text>
<line x1="45.5" y1="2114.77" x2="50" y2="2114.77" stroke="#000" stroke-width="1.5"/>
<line x1="45.5" y1="2101.79" x2="48.1" y2="2101.79" stroke="#000" stroke-width="1.5"/>
<line x1="45.5" y1="2088.81" x2="50" y2="2088.81" stroke="#000" stroke-width="1.5"/>
<line x1="45.5" y1="2075.84" x2="48.1" y2="2075.84" stroke="#000" stroke-width="1.5"/>
<text transform="translate(38.8,2121.47)" font-size="19" text-anchor="end">0</text>
<text transform="translate(38.8,2095.51)" font-size="19" text-anchor="end">3</text>
<line x1="45.5" y1="2166.89" x2="50" y2="2166.89" stroke="#000" stroke-width="1.5"/>
<line x1="45.5" y1="2153.91" x2="48.1" y2="2153.91" stroke="#000" stroke-width="1.5"/>
<line x1="45.5" y1="2140.94" x2="50" y2="2140.94" stroke="#000" stroke-width="1.5"/>
<line x1="45.5" y1="2127.96" x2="48.1" y2="2127.96" stroke="#000" stroke-width="1.5"/>
<text transform="translate(38.8,2173.59)" font-size="19" text-anchor="end">0</text>
<text transform="translate(38.8,2147.64)" font-size="19" text-anchor="end">3</text>
<line x1="45.5" y1="2219.01" x2="50" y2="2219.01" stroke="#000" stroke-width="1.5"/>
<line x1="45.5" y1="2206.04" x2="48.1" y2="2206.04" stroke="#000" stroke-width="1.5"/>
<line x1="45.5" y1="2193.06" x2="50" y2="2193.06" stroke="#000" stroke-width="1.5"/>
<line x1="45.5" y1="2180.08" x2="48.1" y2="2180.08" stroke="#000" stroke-width="1.5"/>
<text transform="translate(38.8,2225.71)" font-size="19" text-anchor="end">0</text>
<text transform="translate(38.8,2199.76)" font-size="19" text-anchor="end">3</text>
<line x1="45.5" y1="2271.14" x2="50" y2="2271.14" stroke="#000" stroke-width="1.5"/>
<line x1="45.5" y1="2258.16" x2="48.1" y2="2258.16" stroke="#000" stroke-width="1.5"/>
<line x1="45.5" y1="2245.18" x2="50" y2="2245.18" stroke="#000" stroke-width="1.5"/>
<line x1="45.5" y1="2232.2" x2="48.1" y2="2232.2" stroke="#000" stroke-width="1.5"/>
<text transform="translate(38.8,2277.84)" font-size="19" text-anchor="end">0</text>
<text transform="translate(38.8,2251.88)" font-size="19" text-anchor="end">3</text>
<line x1="45.5" y1="2323.26" x2="50" y2="2323.26" stroke="#000" stroke-width="1.5"/>
<line x1="45.5" y1="2310.28" x2="48.1" y2="2310.28" stroke="#000" stroke-width="1.5"/>
<line x1="45.5" y1="2297.3" x2="50" y2="2297.3" stroke="#000" stroke-width="1.5"/>
<line x1="45.5" y1="2284.32" x2="48.1" y2="2284.32" stroke="#000" stroke-width="1.5"/>
<text transform="translate(38.8,2329.96)" font-size="19" text-anchor="end">0</text>
<text transform="translate(38.8,2304)" font-size="19" text-anchor="end">3</text>
<line x1="45.5" y1="2375.38" x2="50" y2="2375.38" stroke="#000" stroke-width="1.5"/>
<line x1="45.5" y1="2362.4" x2="48.1" y2="2362.4" stroke="#000" stroke-width="1.5"/>
<line x1="45.5" y1="2349.42" x2="50" y2="2349.42" stroke="#000" stroke-width="1.5"/>
<line x1="45.5" y1="2336.44" x2="48.1" y2="2336.44" stroke="#000" stroke-width="1.5"/>
<text transform="translate(38.8,2382.08)" font-size="19" text-anchor="end">0</text>
<text transform="translate(38.8,2356.12)" font-size="19" text-anchor="end">3</text>
<line x1="45.5" y1="2427.5" x2="50" y2="2427.5" stroke="#000" stroke-width="1.5"/>
<line x1="45.5" y1="2414.52" x2="48.1" y2="2414.52" stroke="#000" stroke-width="1.5"/>
<line x1="45.5" y1="2401.54" x2="50" y2="2401.54" stroke="#000" stroke-width="1.5"/>
<line x1="45.5" y1="2388.57" x2="48.1" y2="2388.57" stroke="#000" stroke-width="1.5"/>
<text transform="translate(38.8,2434.2)" font-size="19" text-anchor="end">0</text>
<text transform="translate(38.8,2408.24)" font-size="19" text-anchor="end">3</text>
<line x1="45.5" y1="1749.92" x2="398.4" y2="1749.92" stroke="#000" stroke-width="2.5"/>
<line x1="45.5" y1="1802.04" x2="398.4" y2="1802.04" stroke="#000" stroke-width="2.5"/>
<line x1="45.5" y1="1854.16" x2="398.4" y2="1854.16" stroke="#000" stroke-width="2.5"/>
<line x1="45.5" y1="1906.29" x2="398.4" y2="1906.29" stroke="#000" stroke-width="2.5"/>
<line x1="45.5" y1="1958.41" x2="398.4" y2="1958.41" stroke="#000" stroke-width="2.5"/>
<line x1="45.5" y1="2010.53" x2="398.4" y2="2010.53" stroke="#000" stroke-width="2.5"/>
<line x1="45.5" y1="2062.65" x2="398.4" y2="2062.65" stroke="#000" stroke-width="2.5"/>
<line x1="45.5" y1="2114.77" x2="398.4" y2="2114.77" stroke="#000" stroke-width="2.5"/>
<line x1="45.5" y1="2166.89" x2="398.4" y2="2166.89" stroke="#000" stroke-width="2.5"/>
<line x1="45.5" y1="2219.01" x2="398.4" y2="2219.01" stroke="#000" stroke-width="2.5"/>
<line x1="45.5" y1="2271.14" x2="398.4" y2="2271.14" stroke="#000" stroke-width="2.5"/>
<line x1="45.5" y1="2323.26" x2="398.4" y2="2323.26" stroke="#000" stroke-width="2.5"/>
<line x1="45.5" y1="2375.38" x2="398.4" y2="2375.38" stroke="#000" stroke-width="2.5"/>
<rect x="45.5" y="1697.8" width="352.9" height="729.7" fill="none" stroke="#000" stroke-width="2.0"/>
<line x1="70.71" y1="2427.5" x2="70.71" y2="2424.9" stroke="#000" stroke-width="1.5"/>
<line x1="95.91" y1="2427.5" x2="95.91" y2="2423" stroke="#000" stroke-width="1.5"/>
<line x1="121.12" y1="2427.5" x2="121.12" y2="2424.9" stroke="#000" stroke-width="1.5"/>
<line x1="146.33" y1="2427.5" x2="146.33" y2="2423" stroke="#000" stroke-width="1.5"/>
<line x1="171.54" y1="2427.5" x2="171.54" y2="2424.9" stroke="#000" stroke-width="1.5"/>
<line x1="196.74" y1="2427.5" x2="196.74" y2="2423" stroke="#000" stroke-width="1.5"/>
<line x1="221.95" y1="2427.5" x2="221.95" y2="2424.9" stroke="#000" stroke-width="1.5"/>
<line x1="247.16" y1="2427.5" x2="247.16" y2="2423" stroke="#000" stroke-width="1.5"/>
<line x1="272.36" y1="2427.5" x2="272.36" y2="2424.9" stroke="#000" stroke-width="1.5"/>
<line x1="297.57" y1="2427.5" x2="297.57" y2="2423" stroke="#000" stroke-width="1.5"/>
<line x1="322.78" y1="2427.5" x2="322.78" y2="2424.9" stroke="#000" stroke-width="1.5"/>
<line x1="347.99" y1="2427.5" x2="347.99" y2="2423" stroke="#000" stroke-width="1.5"/>
<line x1="373.19" y1="2427.5" x2="373.19" y2="2424.9" stroke="#000" stroke-width="1.5"/>
<text transform="translate(45.5,2448)" font-size="19" text-anchor="middle">-8</text>
<text transform="translate(95.91,2448)" font-size="19" text-anchor="middle">-6</text>
<text transform="translate(146.33,2448)" font-size="19" text-anchor="middle">-4</text>
<text transform="translate(196.74,2448)" font-size="19" text-anchor="middle">-2</text>
<text transform="translate(247.16,2448)" font-size="19" text-anchor="middle">0</text>
<text transform="translate(297.57,2448)" font-size="19" text-anchor="middle">2</text>
<text transform="translate(347.99,2448)" font-size="19" text-anchor="middle">4</text>
<text transform="translate(398.4,2448)" font-size="19" text-anchor="middle">6</text>
<polyline points="43.5,1729.1 45.6,1729.1 48.3,1735.3 50.1,1717.6 51.9,1712.9 54.1,1715.2 55.9,1695.0 57.8,1695.0 59.6,1695.0 61.5,1695.0 63.4,1695.0 65.2,1695.0 67.1,1695.0 68.9,1708.9 70.4,1715.5 72.0,1721.9 72.9,1728.2 74.3,1720.1 76.1,1722.8 77.6,1729.7 79.2,1734.9 81.9,1742.9 83.4,1744.5 85.0,1743.8 87.5,1744.7 89.9,1744.7 92.0,1744.8 94.1,1744.9 96.1,1745.2 98.2,1745.5 100.2,1745.2 102.5,1743.2 104.7,1744.3 107.0,1743.8 109.2,1744.7 111.1,1744.2 112.9,1744.8 114.8,1745.4 116.7,1741.8 118.5,1742.3 120.4,1744.3 122.6,1743.8 124.9,1743.9 127.1,1746.1 129.0,1745.6 131.0,1746.8 132.9,1746.5 134.8,1745.9 136.7,1747.8 138.6,1746.7 140.6,1746.5 142.6,1747.6 144.5,1748.2 146.5,1746.8 148.5,1746.7 150.5,1746.0 152.5,1747.5 154.5,1746.3 156.5,1746.4 158.5,1747.0 160.5,1746.2 162.5,1746.7 164.5,1747.8 166.5,1747.3 168.4,1748.7 170.4,1747.0 172.4,1748.0 174.4,1746.4 176.4,1747.4 178.4,1746.9 180.4,1747.0 182.4,1747.1 184.4,1747.8 186.4,1746.9 188.4,1747.4 190.3,1748.0 192.3,1746.2 194.3,1747.9 196.3,1746.2 198.3,1748.8 200.3,1748.1 202.3,1747.9 204.3,1747.4 206.3,1749.2 208.3,1748.8 210.3,1749.0 212.3,1748.3 214.5,1746.8 216.7,1748.3 219.0,1747.9 221.2,1744.3 223.5,1742.0 225.7,1744.3 227.5,1745.8 229.3,1747.9 230.8,1748.9 232.4,1749.9 234.4,1749.9 236.4,1749.9 238.4,1749.9 240.4,1749.9 242.4,1749.9 244.4,1749.9 246.4,1749.9 248.4,1749.9 250.4,1749.9 252.4,1749.9 254.4,1749.9 256.4,1749.9 258.4,1749.9 260.4,1749.9 262.4,1749.9 264.4,1749.9 266.4,1749.9 268.4,1749.9 270.4,1749.9 272.4,1749.9 274.4,1749.9 276.4,1749.9 278.4,1749.9 280.4,1749.9 282.4,1749.9 284.4,1749.9 286.4,1749.9 288.4,1749.9 290.4,1749.9 292.4,1749.9 294.3,1749.9 296.3,1749.9 298.3,1749.9 300.3,1749.9 302.3,1749.9 304.3,1749.9 306.3,1749.9 308.3,1749.8 310.2,1749.6 312.1,1749.4 314.0,1749.3 315.9,1749.1 317.9,1748.9 319.8,1748.8 321.7,1747.1 323.6,1747.7 325.5,1748.2 327.5,1748.0 329.4,1748.2 331.3,1746.7 333.2,1747.9 335.5,1748.2 337.7,1745.6 339.9,1745.2 341.5,1742.4 343.1,1740.7 345.8,1745.2 347.6,1746.4 349.3,1744.6 351.1,1747.9 353.1,1747.9 355.0,1747.4 356.9,1746.9 358.8,1748.9 360.7,1747.2 362.7,1748.2 364.6,1748.8 366.6,1747.9 368.6,1748.9 370.6,1749.8 372.5,1747.8 374.5,1747.8 376.5,1748.6 378.5,1749.1 380.5,1748.6 382.5,1748.8 384.4,1749.3 386.4,1749.2 388.3,1748.8 390.3,1749.0 392.2,1749.0 394.2,1749.1 396.1,1749.1 398.0,1749.2 400.0,1749.2" fill="none" stroke="#6a00ff" stroke-width="2.1" stroke-linejoin="round" clip-path="url(#ccL0)"/>
<polyline points="43.5,1798.9 46.0,1798.9 48.5,1799.5 51.0,1797.2 53.2,1795.2 55.4,1794.5 57.7,1794.7 59.9,1795.8 62.2,1797.1 64.4,1793.6 66.6,1795.2 68.9,1795.8 71.1,1798.5 73.4,1796.4 75.6,1798.6 77.8,1797.2 80.1,1797.2 82.3,1798.1 84.6,1797.5 86.8,1796.3 89.0,1797.3 91.3,1793.6 93.5,1794.4 95.8,1797.2 98.0,1796.2 100.2,1795.6 102.5,1796.3 104.7,1795.8 107.0,1794.7 109.2,1793.0 111.4,1794.5 113.7,1792.1 115.9,1791.3 117.5,1788.4 119.1,1782.4 120.9,1773.4 122.6,1782.4 124.9,1789.1 127.1,1784.4 129.4,1786.8 131.6,1787.7 133.8,1791.3 135.4,1789.9 137.0,1786.8 138.8,1785.8 140.6,1791.3 142.8,1788.4 145.0,1789.1 147.3,1786.5 149.5,1782.4 151.8,1780.1 154.0,1786.8 156.2,1791.8 158.5,1789.1 160.7,1787.5 163.0,1786.8 165.2,1792.4 167.4,1791.3 169.7,1791.3 171.9,1793.6 174.2,1795.7 176.4,1795.8 178.6,1797.6 180.9,1797.7 183.1,1797.2 185.4,1798.0 187.6,1796.6 189.8,1798.7 192.1,1800.2 194.3,1800.3 196.6,1802.0 198.6,1802.0 200.6,1802.0 202.7,1802.0 204.7,1802.0 206.8,1802.0 208.8,1802.0 210.8,1802.0 212.9,1802.0 214.9,1802.0 216.9,1802.0 219.0,1802.0 220.5,1802.0 222.0,1797.6 223.1,1782.5 223.9,1773.5 225.0,1770.5 226.1,1769.8 226.9,1760.0 227.9,1755.9 229.1,1758.5 229.9,1787.0 230.6,1780.3 231.8,1781.0 232.5,1793.8 234.0,1802.0 235.5,1797.6 236.7,1775.0 237.0,1760.0 238.2,1754.0 239.3,1752.5 239.7,1745.0 241.5,1745.0 242.3,1749.5 243.0,1775.0 243.8,1793.8 244.5,1802.0 246.0,1802.0 247.5,1802.0 249.2,1802.0 250.9,1802.0 252.6,1802.0 254.6,1802.0 256.6,1802.0 258.5,1802.0 260.5,1802.0 262.5,1802.0 264.5,1802.0 266.5,1802.0 268.5,1802.0 270.5,1802.0 272.5,1802.0 274.5,1802.0 276.5,1802.0 278.5,1802.0 280.5,1802.0 282.4,1802.0 284.4,1802.0 286.4,1802.0 288.4,1802.0 290.4,1802.0 292.4,1802.0 294.4,1802.0 296.4,1802.0 298.4,1802.0 300.4,1802.0 302.4,1802.0 304.3,1802.0 306.3,1802.0 308.6,1801.7 310.8,1801.4 313.1,1801.1 315.3,1800.7 317.2,1798.3 319.1,1800.8 321.1,1801.5 323.0,1801.1 324.9,1801.7 326.8,1799.5 328.7,1800.3 330.6,1800.1 332.5,1798.9 334.3,1797.7 336.2,1797.8 338.1,1799.1 339.9,1797.2 341.5,1793.9 343.1,1789.1 344.9,1791.6 346.7,1795.8 348.9,1795.8 351.1,1797.2 353.4,1798.6 355.6,1798.9 357.9,1799.4 360.1,1799.1 362.3,1801.1 364.6,1798.0 366.8,1796.1 369.1,1793.6 371.3,1789.1 372.9,1791.7 374.4,1795.8 377.1,1791.3 378.7,1792.7 380.3,1794.5 382.5,1797.2 384.7,1798.0 387.0,1798.9 389.2,1798.2 391.5,1798.0 393.7,1799.8 395.9,1795.8 398.0,1797.6 400.0,1798.9" fill="none" stroke="#ff0000" stroke-width="2.1" stroke-linejoin="round" clip-path="url(#ccL1)"/>
<polyline points="43.5,1837.5 46.0,1837.5 48.7,1839.3 51.0,1836.6 53.2,1840.6 55.4,1841.3 57.7,1842.8 59.9,1840.3 62.2,1840.6 64.4,1843.1 66.6,1845.1 68.9,1845.5 71.1,1846.4 73.4,1846.9 75.6,1845.7 77.8,1845.1 80.1,1844.1 82.3,1842.6 84.6,1842.8 86.8,1843.5 89.0,1843.1 91.3,1842.0 93.5,1841.5 95.8,1838.4 98.0,1839.4 100.2,1840.6 102.5,1839.7 104.7,1839.3 107.0,1839.5 109.2,1841.3 111.4,1842.8 113.7,1845.8 115.9,1838.9 118.2,1840.6 120.4,1842.7 122.6,1845.5 124.9,1842.8 127.1,1839.1 129.4,1844.4 131.6,1839.3 133.8,1838.4 136.1,1843.0 138.3,1840.6 140.6,1840.5 142.8,1838.3 145.0,1838.4 147.3,1836.8 149.5,1838.1 151.8,1839.3 154.0,1837.8 156.2,1843.0 158.5,1836.1 160.7,1831.6 163.0,1833.9 165.2,1837.6 167.4,1833.0 169.7,1831.0 171.9,1834.8 174.2,1830.4 176.4,1836.1 178.6,1839.2 180.9,1837.5 183.1,1831.8 185.4,1836.1 187.6,1837.6 189.8,1839.3 192.1,1844.8 194.3,1845.1 196.6,1851.8 198.8,1854.2 200.8,1854.2 202.9,1854.2 204.9,1854.2 207.0,1854.2 209.0,1854.2 211.0,1854.2 213.1,1854.2 215.1,1854.2 217.1,1854.2 219.2,1854.2 221.2,1854.2 223.5,1853.4 225.7,1852.7 227.9,1853.4 230.2,1854.2 232.4,1853.8 234.7,1853.4 236.9,1853.1 239.1,1852.7 241.4,1853.4 243.6,1854.2 245.6,1854.2 247.7,1854.2 249.7,1854.2 251.7,1854.2 253.7,1854.2 255.8,1854.2 257.8,1854.2 259.8,1854.2 261.8,1854.2 263.8,1854.2 265.9,1854.2 267.9,1854.2 269.9,1854.2 271.9,1854.2 274.0,1854.2 276.0,1854.2 278.0,1854.2 280.0,1854.2 282.1,1854.2 284.1,1854.2 286.1,1854.2 288.1,1854.2 290.2,1854.2 292.2,1854.2 294.2,1854.2 296.2,1854.2 298.2,1854.2 300.3,1854.2 302.3,1854.2 304.3,1854.2 306.3,1854.2 308.6,1851.9 310.8,1849.6 313.1,1848.2 315.3,1846.5 317.5,1848.1 319.8,1847.3 322.0,1849.4 324.3,1846.8 326.5,1848.2 328.7,1848.2 331.0,1848.7 333.2,1846.7 335.5,1849.9 337.7,1849.6 339.9,1849.8 342.2,1850.9 344.4,1849.3 346.7,1850.9 348.9,1849.9 351.1,1852.3 353.4,1850.6 355.6,1852.7 357.9,1852.5 360.1,1852.9 362.3,1852.7 364.6,1852.7 366.6,1852.9 368.6,1853.0 370.6,1853.2 372.5,1853.4 374.5,1853.5 376.5,1853.7 378.5,1853.8 380.5,1854.0 382.5,1854.2 384.4,1854.2 386.4,1854.2 388.3,1854.2 390.3,1854.2 392.2,1854.2 394.2,1854.2 396.1,1854.2 398.0,1854.2 400.0,1854.2" fill="none" stroke="#ff0000" stroke-width="2.1" stroke-linejoin="round" clip-path="url(#ccL2)"/>
<polyline points="43.5,1896.1 45.0,1896.1 47.0,1893.3 49.0,1892.9 51.0,1890.1 52.5,1882.1 54.0,1884.1 55.5,1878.4 57.0,1876.6 58.5,1880.5 60.0,1887.1 61.5,1883.6 63.0,1881.1 64.5,1874.1 66.0,1871.3 67.5,1869.7 69.0,1878.1 71.3,1881.8 72.8,1867.6 74.3,1854.1 75.0,1851.1 76.8,1851.1 78.5,1851.1 80.3,1851.1 81.0,1863.1 82.5,1878.1 84.8,1885.6 86.7,1891.5 88.5,1881.8 90.8,1887.1 93.0,1890.8 94.9,1887.8 96.8,1889.3 99.1,1892.3 100.6,1892.2 102.1,1888.6 103.6,1891.4 105.1,1893.8 107.3,1900.2 109.6,1896.8 111.8,1897.9 114.1,1899.8 116.3,1899.0 118.6,1899.1 120.8,1896.8 122.7,1899.0 124.6,1900.6 126.8,1903.0 129.1,1902.1 131.1,1902.0 133.1,1902.6 135.1,1902.9 137.1,1904.1 139.1,1904.0 141.1,1903.6 143.1,1902.8 145.1,1905.5 147.1,1902.1 149.1,1902.5 151.1,1902.9 153.1,1902.9 155.1,1901.6 157.1,1902.5 159.1,1903.6 161.1,1904.3 163.0,1904.2 165.0,1902.1 166.9,1902.3 168.8,1904.2 170.7,1903.4 172.6,1903.9 174.5,1903.0 176.4,1903.4 178.4,1903.4 180.4,1904.6 182.4,1903.4 184.4,1903.6 186.4,1903.5 188.4,1904.2 190.3,1904.0 192.3,1903.4 194.3,1903.9 196.6,1906.3 198.6,1906.3 200.6,1906.3 202.6,1906.3 204.6,1906.3 206.6,1906.3 208.6,1906.3 210.6,1906.3 212.6,1906.3 214.6,1906.3 216.6,1906.3 218.6,1906.3 220.6,1906.3 222.6,1906.3 224.6,1906.3 226.6,1906.3 228.6,1906.3 230.6,1906.3 232.6,1906.3 234.7,1906.3 236.9,1902.5 239.1,1901.2 241.4,1903.9 243.6,1906.3 245.6,1906.3 247.7,1906.3 249.7,1906.3 251.7,1906.3 253.7,1906.3 255.8,1906.3 257.8,1906.3 259.8,1906.3 261.8,1906.3 263.8,1906.3 265.9,1906.3 267.9,1906.3 269.9,1906.3 271.9,1906.3 274.0,1906.3 276.0,1906.3 278.0,1906.3 280.0,1906.3 282.1,1906.3 284.1,1906.3 286.1,1906.3 288.1,1906.3 290.2,1906.3 292.2,1906.3 294.2,1906.3 296.2,1906.3 298.2,1906.3 300.3,1906.3 302.3,1906.3 304.3,1906.3 306.3,1906.3 308.3,1906.1 310.2,1905.9 312.1,1905.6 314.0,1905.4 315.9,1905.2 317.9,1905.0 319.8,1904.8 321.8,1903.7 323.8,1904.4 325.8,1904.6 327.7,1903.1 329.7,1905.0 331.7,1904.5 333.7,1905.2 335.7,1904.0 337.7,1904.8 339.7,1904.9 341.7,1905.1 343.7,1905.3 345.7,1905.4 347.7,1905.6 349.6,1905.8 351.6,1905.9 353.6,1906.1 355.6,1906.3 357.7,1906.3 359.7,1906.3 361.7,1906.3 363.8,1906.3 365.8,1906.3 367.8,1906.3 369.9,1906.3 371.9,1906.3 373.9,1906.3 376.0,1906.3 378.0,1906.3 380.0,1906.3 382.0,1906.3 384.0,1906.3 386.0,1906.3 388.0,1906.3 390.0,1906.3 392.0,1906.3 394.0,1906.3 396.0,1906.3 398.0,1906.3 400.0,1906.3" fill="none" stroke="#6a00ff" stroke-width="2.1" stroke-linejoin="round" clip-path="url(#ccL3)"/>
<polyline points="43.5,1933.8 45.0,1933.8 46.0,1941.3 46.9,1946.3 49.1,1948.2 51.3,1946.9 53.8,1946.3 56.3,1949.4 58.1,1950.4 60.0,1951.3 61.7,1952.1 63.4,1949.9 65.0,1951.9 67.1,1955.4 69.2,1952.7 71.3,1952.6 73.4,1952.8 75.5,1951.2 77.5,1953.2 79.4,1952.2 81.3,1953.8 83.2,1953.7 85.1,1951.3 86.7,1949.3 88.4,1950.8 90.1,1948.8 92.6,1950.1 94.4,1948.3 96.3,1948.8 98.2,1949.8 100.1,1949.4 102.0,1951.2 103.8,1946.9 105.7,1947.0 107.6,1950.1 109.3,1948.8 110.9,1947.9 112.6,1950.7 114.3,1950.8 115.9,1950.7 117.6,1953.2 119.5,1950.5 121.4,1950.1 123.4,1951.5 125.5,1949.6 127.6,1950.7 129.7,1948.0 131.8,1949.4 133.9,1951.3 135.9,1949.8 138.0,1954.0 140.0,1950.7 141.7,1953.7 143.4,1952.8 145.0,1951.8 147.0,1949.3 148.9,1953.0 150.8,1952.7 152.7,1954.4 154.6,1951.6 156.6,1951.7 158.5,1953.2 160.4,1955.0 162.3,1953.2 164.2,1952.7 166.2,1953.5 168.1,1954.7 170.0,1955.4 171.9,1954.9 173.8,1956.9 175.8,1955.3 177.7,1957.2 179.6,1955.8 181.5,1956.3 183.4,1956.9 185.4,1956.3 187.3,1956.9 189.2,1955.1 191.1,1956.5 193.0,1956.9 195.0,1957.3 196.9,1957.4 198.8,1957.6 200.8,1957.6 202.9,1957.6 204.9,1957.6 207.0,1957.6 209.0,1957.6 211.0,1957.6 213.1,1957.6 215.1,1957.6 217.1,1957.6 219.2,1957.6 221.2,1957.6 223.1,1957.5 225.1,1956.6 227.0,1957.4 228.9,1958.2 230.8,1956.9 232.7,1956.1 234.7,1956.7 236.9,1955.6 239.1,1958.0 241.4,1956.9 243.6,1957.6 245.9,1958.0 248.1,1958.4 250.1,1958.4 252.1,1958.4 254.0,1958.4 256.0,1958.4 258.0,1958.4 260.0,1958.4 262.0,1958.4 263.9,1958.4 265.9,1958.4 267.9,1958.4 269.9,1958.4 271.9,1958.4 273.9,1958.4 275.8,1958.4 277.8,1958.4 279.8,1958.4 281.8,1958.4 283.8,1958.4 285.7,1958.4 287.7,1958.4 289.7,1958.4 291.7,1958.4 293.7,1958.4 295.7,1958.4 297.6,1958.4 299.6,1958.4 301.9,1953.2 304.1,1947.3 306.3,1942.8 308.1,1943.7 309.9,1938.4 311.5,1932.4 313.1,1931.6 314.6,1930.7 316.2,1930.7 318.9,1936.1 320.4,1938.0 322.0,1938.4 324.3,1941.5 326.5,1940.6 328.7,1940.3 331.0,1945.1 333.2,1949.9 335.5,1948.7 337.7,1950.3 339.9,1946.0 341.5,1949.6 343.1,1951.8 345.8,1957.6 347.7,1957.6 349.7,1957.6 351.7,1957.6 353.6,1957.6 355.6,1957.6 357.7,1957.5 359.7,1957.5 361.7,1957.5 363.8,1956.4 365.8,1957.7 367.8,1956.5 369.9,1956.4 371.9,1956.5 373.9,1956.7 376.0,1957.7 378.0,1956.7 380.0,1957.7 382.0,1956.1 384.0,1956.9 386.0,1958.1 388.0,1957.6 390.0,1956.6 392.0,1956.5 394.0,1956.6 396.0,1956.9 398.0,1957.6 400.0,1956.7" fill="none" stroke="#000000" stroke-width="2.1" stroke-linejoin="round" clip-path="url(#ccL4)"/>
<polyline points="43.5,2000.2 46.0,2000.2 48.5,2001.2 51.0,2001.1 53.2,1999.2 55.4,1999.7 57.7,1999.9 59.9,2001.1 62.2,2000.1 64.4,2000.4 66.6,1998.8 68.9,1999.7 71.1,2001.1 73.4,2002.4 75.6,1998.8 77.8,1999.3 80.1,1999.7 82.3,2003.1 84.6,2001.3 86.8,2001.1 89.0,1999.6 91.3,2001.4 93.5,2002.4 95.8,2003.3 98.0,2000.9 100.2,1999.7 102.5,1998.2 104.7,1998.6 107.0,2000.1 109.2,2001.1 111.4,2004.4 113.7,1999.5 115.9,1998.2 118.2,1998.8 120.4,1998.7 122.6,2002.6 124.9,1998.1 127.1,1999.7 129.4,2000.0 131.6,2003.3 133.8,2001.4 136.1,2001.1 138.3,2004.6 140.6,2003.0 142.8,2003.3 144.4,2002.8 145.9,2001.1 148.6,1993.5 150.2,1988.9 151.8,1994.4 154.0,1990.7 156.2,1992.1 158.5,1995.0 160.7,1993.5 163.0,1992.3 165.2,1989.9 167.4,1995.3 169.7,1990.8 171.9,1991.3 174.2,1989.0 176.4,1986.1 178.6,1990.8 180.9,1986.9 183.1,1987.6 185.4,1993.8 187.6,1989.9 189.4,1986.6 191.2,1986.3 192.8,1987.6 194.3,1990.8 196.6,2003.3 197.9,2010.5 199.9,2010.5 201.8,2010.5 203.8,2010.5 205.8,2010.5 207.7,2010.5 209.7,2010.5 211.7,2010.5 213.6,2010.5 215.6,2010.5 217.5,2010.5 219.5,2010.5 221.5,2010.5 223.4,2010.5 225.4,2010.5 227.4,2010.5 229.3,2010.5 231.3,2010.5 233.2,2010.5 235.2,2010.5 237.2,2010.5 239.1,2010.5 241.4,2008.7 243.6,2010.5 245.6,2010.5 247.7,2010.5 249.7,2010.5 251.7,2010.5 253.7,2010.5 255.8,2010.5 257.8,2010.5 259.8,2010.5 261.8,2010.5 263.8,2010.5 265.9,2010.5 267.9,2010.5 269.9,2010.5 271.9,2010.5 274.0,2010.5 276.0,2010.5 278.0,2010.5 280.0,2010.5 282.1,2010.5 284.1,2010.5 286.1,2010.5 288.1,2010.5 290.2,2010.5 292.2,2010.5 294.2,2010.5 296.2,2010.5 298.2,2010.5 300.3,2010.5 302.3,2010.5 304.3,2010.5 306.3,2010.5 308.6,2009.2 310.8,2007.8 313.1,2005.7 315.3,2007.5 317.5,2005.5 319.8,2006.9 322.0,2008.6 324.3,2007.0 326.5,2003.9 328.7,2006.9 331.0,2006.7 333.2,2007.2 335.5,2008.9 337.7,2008.7 339.9,2009.3 342.2,2008.3 344.4,2010.1 346.7,2009.6 348.7,2009.7 350.6,2009.8 352.6,2009.9 354.6,2010.0 356.6,2010.1 358.6,2010.2 360.6,2010.3 362.6,2010.4 364.6,2010.5 366.5,2010.5 368.5,2010.5 370.5,2010.5 372.4,2010.5 374.4,2010.5 376.4,2010.5 378.3,2010.5 380.3,2010.5 382.3,2010.5 384.2,2010.5 386.2,2010.5 388.2,2010.5 390.1,2010.5 392.1,2010.5 394.1,2010.5 396.0,2010.5 398.0,2010.5 400.0,2010.5" fill="none" stroke="#ff0000" stroke-width="2.1" stroke-linejoin="round" clip-path="url(#ccL5)"/>
<polyline points="43.5,2047.3 46.0,2047.3 48.7,2049.6 51.0,2051.2 53.2,2052.7 55.4,2055.0 57.7,2055.4 59.9,2055.5 62.2,2056.0 64.4,2054.0 66.6,2055.5 68.9,2055.6 71.1,2055.4 73.4,2053.3 75.6,2051.4 77.8,2052.7 80.1,2055.4 82.3,2058.1 84.6,2057.0 86.8,2054.0 89.0,2052.3 91.3,2052.6 93.5,2055.6 95.8,2051.8 98.0,2051.8 100.2,2056.1 102.5,2055.1 104.7,2054.0 107.0,2049.9 109.2,2054.5 111.4,2054.5 113.7,2052.7 115.9,2054.0 118.2,2052.5 120.4,2049.8 122.6,2051.8 124.9,2052.5 127.1,2052.4 129.4,2052.7 131.6,2049.9 133.8,2049.6 136.1,2043.7 138.3,2050.9 140.6,2051.6 142.8,2051.8 145.0,2050.1 147.3,2048.2 149.5,2053.0 151.8,2049.6 154.0,2045.0 156.2,2045.1 158.5,2044.4 160.7,2048.2 163.0,2043.9 165.2,2042.8 167.4,2046.8 169.7,2043.7 171.9,2040.6 174.2,2041.2 176.4,2045.1 178.6,2043.0 180.9,2041.9 183.1,2041.7 185.4,2042.8 187.2,2046.8 189.0,2038.4 190.5,2038.5 192.1,2043.7 193.7,2053.2 195.2,2051.8 197.0,2062.7 199.0,2062.7 201.1,2062.7 203.1,2062.7 205.1,2062.7 207.1,2062.7 209.1,2062.7 211.1,2062.7 213.1,2062.7 215.2,2062.7 217.2,2062.7 219.2,2062.7 221.2,2062.7 223.2,2062.7 225.2,2062.7 227.3,2062.7 229.3,2062.7 231.3,2062.7 233.3,2062.7 235.3,2062.7 237.3,2062.7 239.4,2062.7 241.4,2062.7 243.4,2062.7 245.4,2062.7 247.4,2062.7 249.4,2062.7 251.5,2062.7 253.5,2062.7 255.5,2062.7 257.5,2062.7 259.5,2062.7 261.5,2062.7 263.6,2062.7 265.6,2062.7 267.6,2062.7 269.6,2062.7 271.6,2062.7 273.6,2062.7 275.6,2062.7 277.7,2062.7 279.7,2062.7 281.7,2062.7 283.7,2062.7 285.7,2062.7 287.7,2062.7 289.8,2062.7 291.8,2062.7 293.8,2062.7 295.8,2062.7 297.8,2062.7 299.8,2062.7 301.9,2062.7 304.1,2061.7 306.3,2060.8 308.6,2059.6 310.8,2059.9 313.1,2059.0 315.3,2058.2 317.5,2060.2 319.8,2057.2 322.0,2057.3 324.3,2054.0 326.5,2056.1 328.7,2057.2 331.0,2061.1 333.2,2058.0 335.5,2059.9 337.7,2060.8 339.9,2060.8 342.2,2061.7 344.4,2062.2 346.7,2061.7 348.7,2061.8 350.6,2061.9 352.6,2062.0 354.6,2062.1 356.6,2062.2 358.6,2062.3 360.6,2062.4 362.6,2062.5 364.6,2062.7 366.5,2062.7 368.5,2062.7 370.5,2062.7 372.4,2062.7 374.4,2062.7 376.4,2062.7 378.3,2062.7 380.3,2062.7 382.3,2062.7 384.2,2062.7 386.2,2062.7 388.2,2062.7 390.1,2062.7 392.1,2062.7 394.1,2062.7 396.0,2062.7 398.0,2062.7 400.0,2062.7" fill="none" stroke="#ff0000" stroke-width="2.1" stroke-linejoin="round" clip-path="url(#ccL6)"/>
<polyline points="43.5,2098.8 46.0,2098.8 48.7,2101.1 51.0,2105.8 53.2,2104.7 55.4,2108.1 57.7,2107.8 59.9,2110.1 62.2,2109.9 64.4,2109.2 66.6,2107.5 68.9,2110.3 71.1,2109.9 73.4,2107.8 75.6,2108.7 77.8,2109.3 80.1,2109.8 82.3,2109.2 84.6,2109.1 86.8,2105.6 89.0,2103.0 91.3,2101.6 93.5,2104.7 95.8,2103.3 98.0,2106.3 100.2,2106.5 102.5,2107.2 104.7,2108.8 107.0,2107.8 109.2,2107.2 111.4,2108.6 113.7,2106.5 115.9,2107.2 118.2,2106.9 120.4,2107.7 122.6,2105.6 124.9,2104.2 127.1,2107.9 129.4,2107.1 131.6,2107.8 133.8,2109.1 136.1,2108.3 138.3,2107.9 140.6,2109.2 142.8,2109.1 145.0,2107.7 147.3,2108.4 149.5,2110.0 151.8,2109.4 154.0,2108.2 156.2,2110.7 158.5,2109.2 160.7,2110.7 163.0,2110.7 165.2,2110.3 167.4,2110.9 169.7,2109.6 171.9,2111.4 174.2,2111.2 176.4,2112.3 178.6,2112.9 180.9,2112.0 183.1,2110.8 185.4,2112.7 187.6,2112.7 189.8,2113.7 192.1,2114.3 194.3,2113.6 196.6,2114.2 198.8,2114.8 200.8,2114.8 202.8,2114.8 204.8,2114.8 206.8,2114.8 208.8,2114.8 210.9,2114.8 212.9,2114.8 214.9,2114.8 216.9,2114.8 218.9,2114.8 220.9,2114.8 222.9,2114.8 224.9,2114.8 226.9,2114.8 228.9,2114.8 230.9,2114.8 232.9,2114.8 234.9,2114.8 236.9,2114.8 238.9,2114.8 241.0,2114.8 243.0,2114.8 245.0,2114.8 247.0,2114.8 249.0,2114.8 251.0,2114.8 253.0,2114.8 255.0,2114.8 257.0,2114.8 259.0,2114.8 261.0,2114.8 263.0,2114.8 265.0,2114.8 267.0,2114.8 269.0,2114.8 271.1,2114.8 273.1,2114.8 275.1,2114.8 277.1,2114.8 279.1,2114.8 281.1,2114.8 283.1,2114.8 285.1,2114.8 287.1,2114.8 289.1,2114.8 291.1,2114.8 293.1,2114.8 295.1,2114.8 296.7,2112.9 298.3,2110.9 301.0,2104.7 302.5,2103.4 304.1,2095.7 306.3,2098.0 308.6,2096.6 310.8,2095.3 313.1,2094.4 315.3,2093.3 317.5,2092.1 319.8,2089.9 322.0,2089.9 323.6,2093.3 325.2,2091.2 326.9,2096.7 328.7,2096.6 330.5,2103.4 332.3,2098.8 333.9,2099.1 335.5,2101.1 337.0,2099.7 338.6,2101.1 341.3,2110.0 342.9,2110.6 344.4,2113.6 346.3,2113.5 348.2,2113.9 350.0,2114.2 351.9,2113.0 353.8,2113.8 355.6,2113.6 357.6,2112.8 359.6,2113.4 361.6,2113.1 363.6,2113.3 365.6,2113.0 367.6,2112.1 369.6,2112.0 371.5,2110.6 373.5,2112.7 375.8,2113.5 378.0,2112.3 380.3,2111.5 382.5,2110.9 384.7,2112.4 387.0,2108.7 389.2,2110.1 391.5,2110.0 393.6,2108.7 395.7,2109.2 397.8,2111.5 400.0,2112.3" fill="none" stroke="#000000" stroke-width="2.1" stroke-linejoin="round" clip-path="url(#ccL7)"/>
<polyline points="43.5,2138.5 45.0,2138.5 46.5,2133.2 48.0,2132.5 49.9,2130.4 51.8,2123.5 54.0,2129.5 56.3,2143.0 57.8,2145.7 59.3,2146.8 61.5,2137.0 63.0,2138.2 64.5,2138.5 66.0,2132.6 67.5,2133.3 69.8,2122.0 71.3,2119.0 72.8,2126.5 75.0,2131.0 76.5,2129.5 78.8,2140.0 81.0,2149.0 82.5,2149.2 84.0,2155.0 86.3,2148.3 88.5,2153.5 90.8,2149.8 93.0,2158.0 94.5,2159.8 96.1,2159.5 98.3,2161.8 99.8,2159.7 101.3,2158.0 103.6,2161.1 105.1,2162.5 106.6,2162.6 108.8,2158.6 111.1,2158.0 113.3,2161.1 115.6,2161.8 117.1,2161.8 118.6,2164.1 120.1,2162.5 121.6,2161.8 123.1,2160.2 124.6,2161.8 126.8,2162.4 129.1,2163.3 131.1,2162.8 133.1,2164.5 135.1,2162.6 137.1,2161.4 139.1,2162.9 141.1,2164.1 143.1,2164.8 145.1,2163.1 147.1,2163.3 149.1,2164.1 151.1,2163.7 153.1,2164.1 155.1,2164.8 157.1,2161.8 159.1,2163.8 161.1,2164.8 163.0,2165.8 165.0,2166.9 167.4,2165.2 169.4,2164.7 171.4,2164.5 173.4,2165.6 175.4,2165.0 177.4,2164.5 179.4,2166.6 181.4,2165.5 183.4,2165.3 185.4,2165.6 187.2,2165.8 189.1,2166.0 191.0,2166.2 192.8,2166.5 194.7,2166.7 196.6,2166.9 198.6,2166.9 200.5,2166.9 202.5,2166.9 204.5,2166.9 206.5,2166.9 208.5,2166.9 210.5,2166.9 212.5,2166.9 214.4,2166.9 216.4,2166.9 218.4,2166.9 220.4,2166.9 222.4,2166.9 224.4,2166.9 226.4,2166.9 228.4,2166.9 230.3,2166.9 232.3,2166.9 234.3,2166.9 236.3,2166.9 238.3,2166.9 240.3,2166.9 242.3,2166.9 244.2,2166.9 246.2,2166.9 248.2,2166.9 250.2,2166.9 252.2,2166.9 254.2,2166.9 256.2,2166.9 258.2,2166.9 260.1,2166.9 262.1,2166.9 264.1,2166.9 266.1,2166.9 268.1,2166.9 270.1,2166.9 272.1,2166.9 274.0,2166.9 276.0,2166.9 278.0,2166.9 280.0,2166.9 282.0,2166.9 284.0,2166.9 286.0,2166.9 288.0,2166.9 289.9,2166.9 291.9,2166.9 293.9,2166.9 295.9,2166.9 297.9,2166.9 299.9,2166.9 301.9,2166.9 304.1,2166.6 306.3,2166.2 308.6,2165.9 310.8,2165.6 312.8,2165.9 314.8,2165.3 316.8,2165.9 318.8,2165.8 320.8,2164.3 322.8,2165.8 324.8,2165.9 326.7,2165.5 328.7,2165.6 330.8,2165.7 332.9,2165.8 334.9,2165.9 337.0,2166.0 339.1,2166.1 341.1,2166.2 343.2,2166.3 345.3,2166.4 347.3,2166.5 349.4,2166.6 351.5,2166.7 353.6,2166.8 355.6,2166.9 357.6,2166.7 359.6,2166.6 361.6,2166.5 363.6,2166.3 365.6,2166.2 367.6,2166.0 369.6,2165.9 371.5,2165.7 373.5,2165.6 375.8,2164.8 378.0,2166.0 380.3,2162.9 382.5,2163.8 384.7,2163.3 387.0,2163.2 389.2,2163.8 391.5,2164.7 393.6,2165.9 395.7,2166.0 397.8,2164.9 400.0,2166.1" fill="none" stroke="#6a00ff" stroke-width="2.1" stroke-linejoin="round" clip-path="url(#ccL8)"/>
<polyline points="43.5,2207.6 45.0,2207.6 47.0,2207.1 49.0,2205.1 51.0,2207.6 53.3,2209.1 55.5,2212.1 57.8,2213.6 60.0,2215.1 62.0,2217.4 64.0,2215.9 66.0,2215.9 68.0,2215.4 70.0,2216.2 72.0,2215.9 74.0,2214.7 76.0,2214.2 78.0,2214.4 80.0,2213.2 82.0,2214.2 84.0,2213.6 85.5,2212.9 87.0,2211.4 89.3,2211.3 91.5,2209.8 93.0,2211.8 94.5,2212.9 96.8,2211.9 99.1,2212.1 101.1,2212.1 103.1,2210.8 105.1,2210.6 107.1,2208.3 109.1,2206.9 111.1,2209.1 112.6,2208.1 114.1,2207.6 115.6,2212.4 117.1,2213.6 118.6,2209.1 120.1,2209.1 121.6,2204.8 123.1,2206.1 125.3,2207.1 127.6,2204.6 129.1,2206.4 130.6,2206.8 132.8,2209.1 135.1,2209.1 136.6,2208.3 138.1,2206.1 139.6,2209.5 141.1,2212.1 142.6,2212.9 144.1,2209.1 146.1,2209.5 148.1,2207.3 150.1,2206.1 151.6,2203.3 153.1,2204.6 154.6,2206.3 156.1,2206.8 157.6,2209.7 159.1,2206.1 160.6,2208.8 162.1,2209.1 165.0,2203.1 167.4,2198.8 169.7,2201.4 171.9,2203.3 174.2,2202.2 176.4,2202.4 178.6,2201.5 180.9,2205.6 183.1,2207.5 185.4,2202.4 187.6,2204.0 189.8,2204.2 192.1,2206.2 194.3,2210.0 196.6,2219.0 198.6,2219.0 200.5,2219.0 202.5,2219.0 204.5,2219.0 206.5,2219.0 208.5,2219.0 210.5,2219.0 212.5,2219.0 214.4,2219.0 216.4,2219.0 218.4,2219.0 220.4,2219.0 222.4,2219.0 224.4,2219.0 226.4,2219.0 228.4,2219.0 230.3,2219.0 232.3,2219.0 234.3,2219.0 236.3,2219.0 238.3,2219.0 240.3,2219.0 242.3,2219.0 244.2,2219.0 246.2,2219.0 248.2,2219.0 250.2,2219.0 252.2,2219.0 254.2,2219.0 256.2,2219.0 258.2,2219.0 260.1,2219.0 262.1,2219.0 264.1,2219.0 266.1,2219.0 268.1,2219.0 270.1,2219.0 272.1,2219.0 274.0,2219.0 276.0,2219.0 278.0,2219.0 280.0,2219.0 282.0,2219.0 284.0,2219.0 286.0,2219.0 288.0,2219.0 289.9,2219.0 291.9,2219.0 293.9,2219.0 295.9,2219.0 297.9,2219.0 299.9,2219.0 301.9,2219.0 304.1,2217.4 306.3,2215.9 308.6,2214.1 310.8,2213.3 313.1,2214.1 315.3,2210.6 317.5,2214.3 319.8,2213.2 322.0,2213.3 324.3,2214.2 326.5,2215.7 328.7,2213.6 331.0,2213.6 333.2,2212.7 335.5,2214.5 337.7,2213.5 339.9,2216.8 342.2,2219.0 344.2,2219.0 346.3,2219.0 348.3,2219.0 350.3,2219.0 352.4,2219.0 354.4,2219.0 356.4,2219.0 358.5,2219.0 360.5,2219.0 362.5,2219.0 364.6,2219.0 366.5,2219.0 368.5,2219.0 370.5,2219.0 372.4,2219.0 374.4,2219.0 376.4,2219.0 378.3,2219.0 380.3,2219.0 382.3,2219.0 384.2,2219.0 386.2,2219.0 388.2,2219.0 390.1,2219.0 392.1,2219.0 394.1,2219.0 396.0,2219.0 398.0,2219.0 400.0,2219.0" fill="none" stroke="#ff0000" stroke-width="2.1" stroke-linejoin="round" clip-path="url(#ccL9)"/>
<polyline points="43.5,2260.2 45.0,2260.2 47.3,2259.4 49.5,2261.7 51.8,2263.4 54.0,2264.7 56.0,2264.2 58.0,2266.5 60.0,2266.2 62.0,2267.0 64.0,2266.8 66.0,2266.9 68.0,2267.9 70.0,2266.2 72.0,2267.7 74.0,2267.9 76.0,2267.4 78.0,2266.2 80.0,2266.6 82.0,2264.8 84.0,2265.4 86.0,2267.2 88.0,2263.1 90.0,2262.4 92.3,2263.3 94.5,2263.9 96.8,2263.4 99.1,2262.4 101.1,2264.8 103.1,2262.1 105.1,2261.7 107.1,2259.2 109.1,2259.4 111.1,2258.6 112.6,2258.6 114.1,2260.2 115.6,2262.8 117.1,2261.7 118.6,2263.0 120.1,2260.2 122.1,2261.4 124.1,2262.6 126.1,2258.6 127.6,2260.4 129.1,2260.2 131.1,2261.2 133.1,2261.5 135.1,2258.6 136.6,2259.2 138.1,2255.6 139.6,2261.4 141.1,2261.7 142.6,2258.3 144.1,2260.2 145.6,2263.4 147.1,2258.6 148.6,2258.4 150.1,2257.9 151.6,2256.6 153.1,2260.2 154.6,2255.2 156.1,2259.4 157.6,2257.9 159.1,2258.6 160.6,2254.7 162.1,2256.4 165.0,2260.2 167.3,2260.7 169.7,2256.2 171.9,2247.3 174.2,2251.7 176.4,2250.4 178.6,2255.9 180.9,2257.1 183.1,2263.0 185.4,2254.8 187.6,2255.3 189.8,2257.1 192.1,2255.4 194.3,2259.3 196.6,2271.1 198.6,2271.1 200.5,2271.1 202.5,2271.1 204.5,2271.1 206.5,2271.1 208.5,2271.1 210.5,2271.1 212.5,2271.1 214.4,2271.1 216.4,2271.1 218.4,2271.1 220.4,2271.1 222.4,2271.1 224.4,2271.1 226.4,2271.1 228.4,2271.1 230.3,2271.1 232.3,2271.1 234.3,2271.1 236.3,2271.1 238.3,2271.1 240.3,2271.1 242.3,2271.1 244.2,2271.1 246.2,2271.1 248.2,2271.1 250.2,2271.1 252.2,2271.1 254.2,2271.1 256.2,2271.1 258.2,2271.1 260.1,2271.1 262.1,2271.1 264.1,2271.1 266.1,2271.1 268.1,2271.1 270.1,2271.1 272.1,2271.1 274.0,2271.1 276.0,2271.1 278.0,2271.1 280.0,2271.1 282.0,2271.1 284.0,2271.1 286.0,2271.1 288.0,2271.1 289.9,2271.1 291.9,2271.1 293.9,2271.1 295.9,2271.1 297.9,2271.1 299.9,2271.1 301.9,2271.1 304.1,2269.7 306.3,2268.3 308.6,2266.1 310.8,2266.0 313.1,2265.0 315.3,2265.2 317.5,2268.5 319.8,2264.3 322.0,2263.2 324.3,2265.6 326.5,2265.2 328.7,2265.3 331.0,2266.4 333.2,2266.9 335.5,2266.9 337.7,2268.9 339.9,2268.3 342.2,2271.1 344.2,2271.1 346.3,2271.1 348.3,2271.1 350.3,2271.1 352.4,2271.1 354.4,2271.1 356.4,2271.1 358.5,2271.1 360.5,2271.1 362.5,2271.1 364.6,2271.1 366.5,2270.9 368.4,2270.7 370.3,2270.5 372.3,2270.3 374.2,2270.1 376.1,2269.8 378.0,2269.6 380.3,2268.8 382.5,2267.7 384.7,2268.2 387.0,2268.7 389.1,2269.1 391.3,2266.7 393.5,2269.8 395.6,2270.0 397.8,2268.5 400.0,2269.6" fill="none" stroke="#ff0000" stroke-width="2.1" stroke-linejoin="round" clip-path="url(#ccL10)"/>
<polyline points="43.5,2296.5 45.0,2296.5 47.3,2290.5 49.5,2289.0 51.8,2286.8 54.0,2286.0 56.3,2290.5 58.5,2295.0 60.0,2292.0 61.5,2296.5 63.0,2300.0 64.5,2301.0 66.8,2283.0 68.3,2280.0 69.8,2275.5 71.3,2272.5 72.8,2283.0 73.5,2293.5 75.0,2292.0 76.5,2296.5 78.0,2299.5 79.5,2304.0 81.0,2308.5 83.3,2310.0 84.8,2304.0 86.3,2301.8 88.5,2309.3 90.0,2311.5 91.5,2313.6 93.0,2313.0 94.5,2312.7 96.1,2315.3 97.6,2316.4 99.1,2317.5 100.6,2316.5 102.1,2316.0 103.6,2318.0 105.1,2318.3 106.6,2320.8 108.1,2319.1 109.6,2320.9 111.1,2316.0 112.6,2315.1 114.1,2317.5 115.6,2317.1 117.1,2319.8 118.6,2321.6 120.1,2319.1 121.6,2320.7 123.1,2320.6 125.1,2321.5 127.1,2320.8 129.1,2319.8 131.1,2321.3 133.1,2320.8 135.1,2320.6 137.1,2321.5 139.1,2322.4 141.1,2323.3 143.1,2322.4 145.1,2321.5 147.1,2320.6 149.1,2321.8 151.1,2322.2 153.1,2320.6 155.1,2321.9 157.1,2321.9 159.1,2320.6 161.1,2321.5 163.0,2322.4 165.0,2323.3 167.4,2321.2 169.4,2321.4 171.4,2321.7 173.4,2318.9 175.4,2321.7 177.4,2321.3 179.4,2321.5 181.4,2321.2 183.4,2320.0 185.4,2321.6 187.2,2321.9 189.1,2322.2 191.0,2322.4 192.8,2322.7 194.7,2323.0 196.6,2323.3 198.6,2323.3 200.6,2323.3 202.6,2323.3 204.6,2323.3 206.7,2323.3 208.7,2323.3 210.7,2323.3 212.7,2323.3 214.7,2323.3 216.7,2323.3 218.7,2323.3 220.8,2323.3 222.8,2323.3 224.8,2323.3 226.8,2323.3 228.8,2323.3 230.8,2323.3 232.9,2323.3 234.9,2323.3 236.9,2323.3 238.9,2323.3 240.9,2323.3 242.9,2323.3 245.0,2323.3 247.0,2323.3 249.0,2323.3 251.0,2323.3 253.0,2323.3 255.0,2323.3 257.1,2323.3 259.1,2323.3 261.1,2323.3 263.1,2323.3 265.1,2323.3 267.1,2323.3 269.2,2323.3 271.2,2323.3 273.2,2323.3 275.2,2323.3 277.2,2323.3 279.2,2323.3 281.2,2323.3 283.3,2323.3 285.3,2323.3 287.3,2323.3 289.3,2323.3 291.3,2323.3 293.3,2323.3 295.4,2323.3 297.4,2323.3 299.6,2322.0 301.9,2320.7 304.1,2319.9 306.3,2321.1 308.6,2319.5 310.8,2319.8 312.8,2318.8 314.8,2319.1 316.8,2320.3 318.8,2318.9 320.8,2319.1 322.8,2319.2 324.8,2320.5 326.7,2320.9 328.7,2320.7 330.8,2320.4 332.9,2321.1 334.9,2320.7 337.0,2320.2 339.1,2321.0 341.1,2321.0 343.2,2320.7 345.3,2321.3 347.3,2322.2 349.4,2322.2 351.5,2321.6 353.6,2322.7 355.6,2322.1 357.6,2321.8 359.6,2321.7 361.6,2321.3 363.6,2320.8 365.6,2322.5 367.6,2320.2 369.6,2320.5 371.5,2321.8 373.5,2320.7 375.8,2320.4 378.0,2319.7 380.3,2319.5 382.5,2319.8 384.7,2320.4 387.0,2320.7 389.2,2320.0 391.5,2320.7 393.6,2321.3 395.7,2322.8 397.8,2323.0 400.0,2322.1" fill="none" stroke="#6a00ff" stroke-width="2.1" stroke-linejoin="round" clip-path="url(#ccL11)"/>
<polyline points="43.5,2362.6 45.0,2362.6 47.3,2362.1 49.5,2364.1 51.8,2368.1 54.0,2368.6 56.0,2368.8 58.0,2369.6 60.0,2371.6 62.0,2373.5 64.0,2371.8 66.0,2372.4 68.0,2373.1 70.0,2371.8 72.0,2372.4 74.0,2370.5 76.0,2369.2 78.0,2370.1 80.0,2372.9 82.0,2372.7 84.0,2368.6 86.3,2364.8 88.5,2368.6 90.0,2368.3 91.5,2367.1 93.0,2369.2 94.5,2368.6 96.8,2365.6 99.1,2370.1 101.1,2371.6 103.1,2368.7 105.1,2370.9 107.1,2370.6 109.1,2368.1 111.1,2367.1 112.6,2367.7 114.1,2368.6 116.1,2367.5 118.1,2370.1 120.1,2370.9 122.1,2372.2 124.1,2369.4 126.1,2368.6 127.6,2366.1 129.1,2367.8 131.1,2366.6 133.1,2368.9 135.1,2370.1 137.3,2371.3 139.6,2367.8 141.1,2370.9 142.6,2371.6 144.8,2370.9 147.1,2371.6 149.1,2370.5 151.1,2369.7 153.1,2370.9 155.1,2371.9 157.1,2371.0 159.1,2371.6 161.1,2372.9 163.0,2374.1 165.0,2375.4 167.4,2372.8 169.7,2375.3 171.9,2374.3 174.2,2374.0 176.4,2373.7 178.6,2374.1 180.9,2374.5 183.1,2374.9 185.4,2375.4 187.4,2375.4 189.4,2375.4 191.4,2375.4 193.4,2375.4 195.3,2375.4 197.3,2375.4 199.3,2375.4 201.3,2375.4 203.3,2375.4 205.3,2375.4 207.3,2375.4 209.3,2375.4 211.3,2375.4 213.3,2375.4 215.3,2375.4 217.3,2375.4 219.3,2375.4 221.3,2375.4 223.3,2375.4 225.3,2375.4 227.3,2375.4 229.3,2375.4 231.3,2375.4 233.3,2375.4 235.3,2375.4 237.3,2375.4 239.3,2375.4 241.3,2375.4 243.2,2375.4 245.2,2375.4 247.2,2375.4 249.2,2375.4 251.2,2375.4 253.2,2375.4 255.2,2375.4 257.2,2375.4 259.2,2375.4 261.2,2375.4 263.2,2375.4 265.2,2375.4 267.2,2375.4 269.2,2375.4 271.2,2375.4 273.2,2375.4 275.2,2375.4 277.2,2375.4 279.2,2375.4 281.2,2375.4 283.2,2375.4 285.2,2375.4 287.2,2375.4 289.1,2375.4 291.1,2375.4 293.1,2375.4 295.1,2375.4 297.4,2369.2 299.2,2363.1 301.0,2363.8 302.5,2361.8 304.1,2360.2 306.3,2359.9 308.6,2359.3 310.8,2362.9 313.1,2357.1 315.3,2357.7 317.5,2354.8 319.1,2347.7 320.7,2352.6 322.5,2356.1 324.3,2355.7 326.5,2353.1 328.7,2359.3 330.5,2359.7 332.3,2361.6 333.9,2362.2 335.5,2363.8 337.0,2366.4 338.6,2369.2 341.3,2372.8 342.9,2374.1 344.4,2375.4 346.4,2375.4 348.3,2375.4 350.2,2375.4 352.2,2375.4 354.1,2375.4 356.1,2375.4 358.0,2375.4 360.0,2375.4 361.9,2375.4 363.8,2375.4 365.8,2375.4 367.7,2375.4 369.7,2375.4 371.6,2375.4 373.5,2375.4 375.8,2374.5 378.0,2373.6 380.3,2372.7 382.5,2371.9 384.7,2369.8 387.0,2367.7 389.2,2368.3 391.5,2369.0 393.7,2371.9 395.8,2372.1 397.9,2370.6 400.0,2372.8" fill="none" stroke="#000000" stroke-width="2.1" stroke-linejoin="round" clip-path="url(#ccL12)"/>
<polyline points="43.5,2414.4 45.0,2414.4 47.3,2415.4 49.5,2416.6 51.8,2419.7 54.0,2419.7 56.0,2421.6 58.0,2420.9 60.0,2421.9 62.0,2422.4 64.0,2421.7 66.0,2421.2 68.0,2420.7 70.0,2423.3 72.0,2421.9 74.0,2424.7 76.0,2420.0 78.0,2421.2 80.0,2419.9 82.0,2420.1 84.0,2419.7 86.3,2417.4 88.5,2419.7 90.0,2417.2 91.5,2417.4 93.0,2420.1 94.5,2419.7 96.8,2418.2 99.1,2419.7 101.1,2422.4 103.1,2421.7 105.1,2420.4 107.1,2419.4 109.1,2419.9 111.1,2418.2 112.6,2418.0 114.1,2418.9 116.1,2421.4 118.1,2419.5 120.1,2420.4 121.6,2418.4 123.1,2418.2 125.1,2415.3 127.1,2417.5 129.1,2416.6 130.6,2416.4 132.1,2418.2 133.6,2415.2 135.1,2418.9 136.6,2414.6 138.1,2415.9 139.6,2419.6 141.1,2418.2 142.6,2417.3 144.1,2417.4 145.6,2415.8 147.1,2414.4 148.6,2416.5 150.1,2415.9 151.6,2417.4 153.1,2415.1 155.0,2407.8 156.9,2409.1 159.1,2412.9 160.6,2415.7 162.1,2412.9 165.0,2417.4 167.3,2412.1 169.7,2407.7 171.9,2408.7 174.2,2403.2 176.4,2401.9 178.6,2405.2 180.9,2408.6 183.1,2409.7 185.4,2406.4 187.6,2408.6 189.8,2405.0 192.1,2409.5 194.3,2413.1 196.6,2427.5 198.6,2427.5 200.6,2427.5 202.6,2427.5 204.6,2427.5 206.7,2427.5 208.7,2427.5 210.7,2427.5 212.7,2427.5 214.7,2427.5 216.7,2427.5 218.7,2427.5 220.8,2427.5 222.8,2427.5 224.8,2427.5 226.8,2427.5 228.8,2427.5 230.8,2427.5 232.9,2427.5 234.9,2427.5 236.9,2427.5 238.9,2427.5 240.9,2427.5 242.9,2427.5 245.0,2427.5 247.0,2427.5 249.0,2427.5 251.0,2427.5 253.0,2427.5 255.0,2427.5 257.1,2427.5 259.1,2427.5 261.1,2427.5 263.1,2427.5 265.1,2427.5 267.1,2427.5 269.2,2427.5 271.2,2427.5 273.2,2427.5 275.2,2427.5 277.2,2427.5 279.2,2427.5 281.2,2427.5 283.3,2427.5 285.3,2427.5 287.3,2427.5 289.3,2427.5 291.3,2427.5 293.3,2427.5 295.4,2427.5 297.4,2427.5 299.6,2426.6 301.9,2425.6 304.1,2425.5 306.3,2425.1 308.6,2424.1 310.8,2424.3 313.1,2422.0 315.3,2423.6 317.5,2424.7 319.8,2422.9 322.0,2425.1 324.3,2422.1 326.5,2422.0 328.7,2423.0 331.0,2425.7 333.2,2424.7 335.5,2424.8 337.7,2426.0 339.9,2425.6 342.2,2427.5 344.1,2427.5 346.1,2427.5 348.1,2427.5 350.0,2427.5 352.0,2427.5 353.9,2427.5 355.9,2427.5 357.9,2427.5 359.8,2427.5 361.8,2427.5 363.7,2427.5 365.7,2427.5 367.7,2427.5 369.6,2427.5 371.6,2427.5 373.5,2427.5 375.8,2427.3 378.0,2427.0 380.3,2426.8 382.5,2426.5 384.7,2427.5 387.0,2426.0 389.2,2426.0 391.5,2425.6 393.6,2425.9 395.7,2426.4 397.8,2426.8 400.0,2426.5" fill="none" stroke="#ff0000" stroke-width="2.1" stroke-linejoin="round" clip-path="url(#ccL13)"/>
<line x1="247.16" y1="1697.8" x2="247.16" y2="2427.5" stroke="#ff0000" stroke-width="2.0" stroke-dasharray="13 5 5.5 4.8" stroke-dashoffset="23.6"/>
<text transform="translate(58.8,1709.3) scale(1.100,1)" font-size="12.5">1st-layer</text>
<line x1="333.1" y1="1708.5" x2="369.7" y2="1708.5" stroke="#6a00ff" stroke-width="2"/>
<text transform="translate(372.7,1714)" font-size="14.5">Zn</text>
<text transform="translate(58.8,1761.8) scale(1.100,1)" font-size="12.5">2nd-layer</text>
<line x1="333.1" y1="1760.62" x2="369.7" y2="1760.62" stroke="#ff0000" stroke-width="2"/>
<text transform="translate(372.7,1766.12)" font-size="14.5">O</text>
<text transform="translate(58.8,1815.7) scale(1.100,1)" font-size="12.5">3rd-layer</text>
<line x1="333.1" y1="1812.74" x2="369.7" y2="1812.74" stroke="#ff0000" stroke-width="2"/>
<text transform="translate(372.7,1818.24)" font-size="14.5">O</text>
<text transform="translate(58.8,1868.2) scale(1.100,1)" font-size="12.5">4th-layer</text>
<line x1="333.1" y1="1864.86" x2="369.7" y2="1864.86" stroke="#6a00ff" stroke-width="2"/>
<text transform="translate(372.7,1870.36)" font-size="14.5">Zn</text>
<text transform="translate(58.8,1919.3) scale(1.100,1)" font-size="12.5">5th-layer</text>
<line x1="333.1" y1="1916.99" x2="369.7" y2="1916.99" stroke="#000000" stroke-width="2"/>
<text transform="translate(372.7,1922.49)" font-size="14.5">W</text>
<text transform="translate(58.8,1969.2) scale(1.100,1)" font-size="12.5">6th-layer</text>
<line x1="333.1" y1="1969.11" x2="369.7" y2="1969.11" stroke="#ff0000" stroke-width="2"/>
<text transform="translate(372.7,1974.61)" font-size="14.5">O</text>
<text transform="translate(58.8,2024.3) scale(1.100,1)" font-size="12.5">7th-layer</text>
<line x1="333.1" y1="2021.23" x2="369.7" y2="2021.23" stroke="#ff0000" stroke-width="2"/>
<text transform="translate(372.7,2026.73)" font-size="14.5">O</text>
<text transform="translate(58.8,2075) scale(1.100,1)" font-size="12.5">8th-layer</text>
<line x1="333.1" y1="2073.35" x2="369.7" y2="2073.35" stroke="#000000" stroke-width="2"/>
<text transform="translate(372.7,2078.85)" font-size="14.5">W</text>
<text transform="translate(58.8,2126.4) scale(1.100,1)" font-size="12.5">9th-layer</text>
<line x1="333.1" y1="2125.47" x2="369.7" y2="2125.47" stroke="#6a00ff" stroke-width="2"/>
<text transform="translate(372.7,2130.97)" font-size="14.5">Zn</text>
<text transform="translate(58.8,2182.7) scale(1.100,1)" font-size="12.5">10th-layer</text>
<line x1="333.1" y1="2177.59" x2="369.7" y2="2177.59" stroke="#ff0000" stroke-width="2"/>
<text transform="translate(372.7,2183.09)" font-size="14.5">O</text>
<text transform="translate(58.8,2235.7) scale(1.100,1)" font-size="12.5">11th-layer</text>
<line x1="333.1" y1="2229.71" x2="369.7" y2="2229.71" stroke="#ff0000" stroke-width="2"/>
<text transform="translate(372.7,2235.21)" font-size="14.5">O</text>
<text transform="translate(58.8,2292.7) scale(1.100,1)" font-size="12.5">12th-layer</text>
<line x1="333.1" y1="2281.84" x2="369.7" y2="2281.84" stroke="#6a00ff" stroke-width="2"/>
<text transform="translate(372.7,2287.34)" font-size="14.5">Zn</text>
<text transform="translate(58.8,2338.5) scale(1.100,1)" font-size="12.5">13th-layer</text>
<line x1="333.1" y1="2333.96" x2="369.7" y2="2333.96" stroke="#000000" stroke-width="2"/>
<text transform="translate(372.7,2339.46)" font-size="14.5">W</text>
<text transform="translate(58.8,2388.8) scale(1.100,1)" font-size="12.5">14th-layer</text>
<line x1="333.1" y1="2386.08" x2="369.7" y2="2386.08" stroke="#ff0000" stroke-width="2"/>
<text transform="translate(372.7,2391.58)" font-size="14.5">O</text>
<line x1="440.3" y1="1749.92" x2="444.8" y2="1749.92" stroke="#000" stroke-width="1.5"/>
<line x1="440.3" y1="1736.94" x2="442.9" y2="1736.94" stroke="#000" stroke-width="1.5"/>
<line x1="440.3" y1="1723.96" x2="444.8" y2="1723.96" stroke="#000" stroke-width="1.5"/>
<line x1="440.3" y1="1710.99" x2="442.9" y2="1710.99" stroke="#000" stroke-width="1.5"/>
<text transform="translate(433.2,1756.62)" font-size="19" text-anchor="end">0</text>
<text transform="translate(433.2,1730.66)" font-size="19" text-anchor="end">3</text>
<line x1="440.3" y1="1802.04" x2="444.8" y2="1802.04" stroke="#000" stroke-width="1.5"/>
<line x1="440.3" y1="1789.06" x2="442.9" y2="1789.06" stroke="#000" stroke-width="1.5"/>
<line x1="440.3" y1="1776.09" x2="444.8" y2="1776.09" stroke="#000" stroke-width="1.5"/>
<line x1="440.3" y1="1763.11" x2="442.9" y2="1763.11" stroke="#000" stroke-width="1.5"/>
<text transform="translate(433.2,1808.74)" font-size="19" text-anchor="end">0</text>
<text transform="translate(433.2,1782.79)" font-size="19" text-anchor="end">3</text>
<line x1="440.3" y1="1854.16" x2="444.8" y2="1854.16" stroke="#000" stroke-width="1.5"/>
<line x1="440.3" y1="1841.19" x2="442.9" y2="1841.19" stroke="#000" stroke-width="1.5"/>
<line x1="440.3" y1="1828.21" x2="444.8" y2="1828.21" stroke="#000" stroke-width="1.5"/>
<line x1="440.3" y1="1815.23" x2="442.9" y2="1815.23" stroke="#000" stroke-width="1.5"/>
<text transform="translate(433.2,1860.86)" font-size="19" text-anchor="end">0</text>
<text transform="translate(433.2,1834.91)" font-size="19" text-anchor="end">3</text>
<line x1="440.3" y1="1906.29" x2="444.8" y2="1906.29" stroke="#000" stroke-width="1.5"/>
<line x1="440.3" y1="1893.31" x2="442.9" y2="1893.31" stroke="#000" stroke-width="1.5"/>
<line x1="440.3" y1="1880.33" x2="444.8" y2="1880.33" stroke="#000" stroke-width="1.5"/>
<line x1="440.3" y1="1867.35" x2="442.9" y2="1867.35" stroke="#000" stroke-width="1.5"/>
<text transform="translate(433.2,1912.99)" font-size="19" text-anchor="end">0</text>
<text transform="translate(433.2,1887.03)" font-size="19" text-anchor="end">3</text>
<line x1="440.3" y1="1958.41" x2="444.8" y2="1958.41" stroke="#000" stroke-width="1.5"/>
<line x1="440.3" y1="1945.43" x2="442.9" y2="1945.43" stroke="#000" stroke-width="1.5"/>
<line x1="440.3" y1="1932.45" x2="444.8" y2="1932.45" stroke="#000" stroke-width="1.5"/>
<line x1="440.3" y1="1919.47" x2="442.9" y2="1919.47" stroke="#000" stroke-width="1.5"/>
<text transform="translate(433.2,1965.11)" font-size="19" text-anchor="end">0</text>
<text transform="translate(433.2,1939.15)" font-size="19" text-anchor="end">3</text>
<line x1="440.3" y1="2010.53" x2="444.8" y2="2010.53" stroke="#000" stroke-width="1.5"/>
<line x1="440.3" y1="1997.55" x2="442.9" y2="1997.55" stroke="#000" stroke-width="1.5"/>
<line x1="440.3" y1="1984.57" x2="444.8" y2="1984.57" stroke="#000" stroke-width="1.5"/>
<line x1="440.3" y1="1971.59" x2="442.9" y2="1971.59" stroke="#000" stroke-width="1.5"/>
<text transform="translate(433.2,2017.23)" font-size="19" text-anchor="end">0</text>
<text transform="translate(433.2,1991.27)" font-size="19" text-anchor="end">3</text>
<line x1="440.3" y1="2062.65" x2="444.8" y2="2062.65" stroke="#000" stroke-width="1.5"/>
<line x1="440.3" y1="2049.67" x2="442.9" y2="2049.67" stroke="#000" stroke-width="1.5"/>
<line x1="440.3" y1="2036.69" x2="444.8" y2="2036.69" stroke="#000" stroke-width="1.5"/>
<line x1="440.3" y1="2023.72" x2="442.9" y2="2023.72" stroke="#000" stroke-width="1.5"/>
<text transform="translate(433.2,2069.35)" font-size="19" text-anchor="end">0</text>
<text transform="translate(433.2,2043.39)" font-size="19" text-anchor="end">3</text>
<line x1="440.3" y1="2114.77" x2="444.8" y2="2114.77" stroke="#000" stroke-width="1.5"/>
<line x1="440.3" y1="2101.79" x2="442.9" y2="2101.79" stroke="#000" stroke-width="1.5"/>
<line x1="440.3" y1="2088.81" x2="444.8" y2="2088.81" stroke="#000" stroke-width="1.5"/>
<line x1="440.3" y1="2075.84" x2="442.9" y2="2075.84" stroke="#000" stroke-width="1.5"/>
<text transform="translate(433.2,2121.47)" font-size="19" text-anchor="end">0</text>
<text transform="translate(433.2,2095.51)" font-size="19" text-anchor="end">3</text>
<line x1="440.3" y1="2166.89" x2="444.8" y2="2166.89" stroke="#000" stroke-width="1.5"/>
<line x1="440.3" y1="2153.91" x2="442.9" y2="2153.91" stroke="#000" stroke-width="1.5"/>
<line x1="440.3" y1="2140.94" x2="444.8" y2="2140.94" stroke="#000" stroke-width="1.5"/>
<line x1="440.3" y1="2127.96" x2="442.9" y2="2127.96" stroke="#000" stroke-width="1.5"/>
<text transform="translate(433.2,2173.59)" font-size="19" text-anchor="end">0</text>
<text transform="translate(433.2,2147.64)" font-size="19" text-anchor="end">3</text>
<line x1="440.3" y1="2219.01" x2="444.8" y2="2219.01" stroke="#000" stroke-width="1.5"/>
<line x1="440.3" y1="2206.04" x2="442.9" y2="2206.04" stroke="#000" stroke-width="1.5"/>
<line x1="440.3" y1="2193.06" x2="444.8" y2="2193.06" stroke="#000" stroke-width="1.5"/>
<line x1="440.3" y1="2180.08" x2="442.9" y2="2180.08" stroke="#000" stroke-width="1.5"/>
<text transform="translate(433.2,2225.71)" font-size="19" text-anchor="end">0</text>
<text transform="translate(433.2,2199.76)" font-size="19" text-anchor="end">3</text>
<line x1="440.3" y1="2271.14" x2="444.8" y2="2271.14" stroke="#000" stroke-width="1.5"/>
<line x1="440.3" y1="2258.16" x2="442.9" y2="2258.16" stroke="#000" stroke-width="1.5"/>
<line x1="440.3" y1="2245.18" x2="444.8" y2="2245.18" stroke="#000" stroke-width="1.5"/>
<line x1="440.3" y1="2232.2" x2="442.9" y2="2232.2" stroke="#000" stroke-width="1.5"/>
<text transform="translate(433.2,2277.84)" font-size="19" text-anchor="end">0</text>
<text transform="translate(433.2,2251.88)" font-size="19" text-anchor="end">3</text>
<line x1="440.3" y1="2323.26" x2="444.8" y2="2323.26" stroke="#000" stroke-width="1.5"/>
<line x1="440.3" y1="2310.28" x2="442.9" y2="2310.28" stroke="#000" stroke-width="1.5"/>
<line x1="440.3" y1="2297.3" x2="444.8" y2="2297.3" stroke="#000" stroke-width="1.5"/>
<line x1="440.3" y1="2284.32" x2="442.9" y2="2284.32" stroke="#000" stroke-width="1.5"/>
<text transform="translate(433.2,2329.96)" font-size="19" text-anchor="end">0</text>
<text transform="translate(433.2,2304)" font-size="19" text-anchor="end">3</text>
<line x1="440.3" y1="2375.38" x2="444.8" y2="2375.38" stroke="#000" stroke-width="1.5"/>
<line x1="440.3" y1="2362.4" x2="442.9" y2="2362.4" stroke="#000" stroke-width="1.5"/>
<line x1="440.3" y1="2349.42" x2="444.8" y2="2349.42" stroke="#000" stroke-width="1.5"/>
<line x1="440.3" y1="2336.44" x2="442.9" y2="2336.44" stroke="#000" stroke-width="1.5"/>
<text transform="translate(433.2,2382.08)" font-size="19" text-anchor="end">0</text>
<text transform="translate(433.2,2356.12)" font-size="19" text-anchor="end">3</text>
<line x1="440.3" y1="2427.5" x2="444.8" y2="2427.5" stroke="#000" stroke-width="1.5"/>
<line x1="440.3" y1="2414.52" x2="442.9" y2="2414.52" stroke="#000" stroke-width="1.5"/>
<line x1="440.3" y1="2401.54" x2="444.8" y2="2401.54" stroke="#000" stroke-width="1.5"/>
<line x1="440.3" y1="2388.57" x2="442.9" y2="2388.57" stroke="#000" stroke-width="1.5"/>
<text transform="translate(433.2,2434.2)" font-size="19" text-anchor="end">0</text>
<text transform="translate(433.2,2408.24)" font-size="19" text-anchor="end">3</text>
<line x1="440.3" y1="1749.92" x2="793.3" y2="1749.92" stroke="#000" stroke-width="2.5"/>
<line x1="440.3" y1="1802.04" x2="793.3" y2="1802.04" stroke="#000" stroke-width="2.5"/>
<line x1="440.3" y1="1854.16" x2="793.3" y2="1854.16" stroke="#000" stroke-width="2.5"/>
<line x1="440.3" y1="1906.29" x2="793.3" y2="1906.29" stroke="#000" stroke-width="2.5"/>
<line x1="440.3" y1="1958.41" x2="793.3" y2="1958.41" stroke="#000" stroke-width="2.5"/>
<line x1="440.3" y1="2010.53" x2="793.3" y2="2010.53" stroke="#000" stroke-width="2.5"/>
<line x1="440.3" y1="2062.65" x2="793.3" y2="2062.65" stroke="#000" stroke-width="2.5"/>
<line x1="440.3" y1="2114.77" x2="793.3" y2="2114.77" stroke="#000" stroke-width="2.5"/>
<line x1="440.3" y1="2166.89" x2="793.3" y2="2166.89" stroke="#000" stroke-width="2.5"/>
<line x1="440.3" y1="2219.01" x2="793.3" y2="2219.01" stroke="#000" stroke-width="2.5"/>
<line x1="440.3" y1="2271.14" x2="793.3" y2="2271.14" stroke="#000" stroke-width="2.5"/>
<line x1="440.3" y1="2323.26" x2="793.3" y2="2323.26" stroke="#000" stroke-width="2.5"/>
<line x1="440.3" y1="2375.38" x2="793.3" y2="2375.38" stroke="#000" stroke-width="2.5"/>
<rect x="440.3" y="1697.8" width="353" height="729.7" fill="none" stroke="#000" stroke-width="2.0"/>
<line x1="465.51" y1="2427.5" x2="465.51" y2="2424.9" stroke="#000" stroke-width="1.5"/>
<line x1="490.73" y1="2427.5" x2="490.73" y2="2423" stroke="#000" stroke-width="1.5"/>
<line x1="515.94" y1="2427.5" x2="515.94" y2="2424.9" stroke="#000" stroke-width="1.5"/>
<line x1="541.16" y1="2427.5" x2="541.16" y2="2423" stroke="#000" stroke-width="1.5"/>
<line x1="566.37" y1="2427.5" x2="566.37" y2="2424.9" stroke="#000" stroke-width="1.5"/>
<line x1="591.59" y1="2427.5" x2="591.59" y2="2423" stroke="#000" stroke-width="1.5"/>
<line x1="616.8" y1="2427.5" x2="616.8" y2="2424.9" stroke="#000" stroke-width="1.5"/>
<line x1="642.01" y1="2427.5" x2="642.01" y2="2423" stroke="#000" stroke-width="1.5"/>
<line x1="667.23" y1="2427.5" x2="667.23" y2="2424.9" stroke="#000" stroke-width="1.5"/>
<line x1="692.44" y1="2427.5" x2="692.44" y2="2423" stroke="#000" stroke-width="1.5"/>
<line x1="717.66" y1="2427.5" x2="717.66" y2="2424.9" stroke="#000" stroke-width="1.5"/>
<line x1="742.87" y1="2427.5" x2="742.87" y2="2423" stroke="#000" stroke-width="1.5"/>
<line x1="768.09" y1="2427.5" x2="768.09" y2="2424.9" stroke="#000" stroke-width="1.5"/>
<text transform="translate(440.3,2448)" font-size="19" text-anchor="middle">-8</text>
<text transform="translate(490.73,2448)" font-size="19" text-anchor="middle">-6</text>
<text transform="translate(541.16,2448)" font-size="19" text-anchor="middle">-4</text>
<text transform="translate(591.59,2448)" font-size="19" text-anchor="middle">-2</text>
<text transform="translate(642.01,2448)" font-size="19" text-anchor="middle">0</text>
<text transform="translate(692.44,2448)" font-size="19" text-anchor="middle">2</text>
<text transform="translate(742.87,2448)" font-size="19" text-anchor="middle">4</text>
<text transform="translate(793.3,2448)" font-size="19" text-anchor="middle">6</text>
<polyline points="438.3,1737.0 440.0,1737.0 442.3,1736.7 444.5,1738.5 446.8,1737.0 449.0,1741.5 451.0,1744.9 453.0,1740.0 455.0,1744.5 457.0,1744.7 459.0,1743.7 461.0,1743.0 463.0,1741.9 465.0,1742.8 467.0,1744.5 469.0,1744.1 471.0,1744.2 473.0,1743.8 475.0,1743.4 477.0,1742.8 479.0,1741.5 481.3,1739.3 483.5,1742.3 485.0,1742.9 486.5,1740.0 488.0,1741.7 489.5,1743.0 491.8,1741.5 494.1,1744.5 496.1,1742.0 498.1,1744.9 500.1,1744.5 502.1,1745.0 504.1,1742.5 506.1,1741.5 507.6,1745.9 509.1,1742.3 511.3,1743.2 513.6,1746.1 515.1,1743.4 516.6,1742.3 518.8,1743.4 521.1,1741.5 522.6,1737.7 524.1,1739.3 525.6,1743.2 527.1,1742.3 529.3,1739.6 531.6,1740.8 533.8,1738.5 536.1,1743.0 537.6,1743.6 539.1,1740.0 541.4,1736.3 543.6,1736.3 545.1,1740.1 546.6,1738.5 548.9,1737.4 551.1,1731.8 552.6,1736.2 554.1,1735.5 555.6,1734.9 557.1,1734.8 560.0,1740.0 561.8,1736.3 563.7,1729.9 565.9,1727.6 568.2,1728.6 570.4,1724.1 572.6,1730.8 574.9,1725.1 577.1,1728.6 578.7,1725.6 580.3,1726.4 582.1,1730.8 583.8,1730.8 585.6,1727.9 587.4,1733.1 589.0,1737.8 590.6,1744.3 591.9,1749.9 593.9,1749.9 595.9,1749.9 597.9,1749.9 599.9,1749.9 601.9,1749.9 603.9,1749.9 605.9,1749.9 607.9,1749.9 609.9,1749.9 611.9,1749.9 613.9,1749.9 615.9,1749.9 617.9,1749.9 619.9,1749.9 621.9,1749.9 623.9,1749.9 625.9,1749.9 627.9,1749.9 629.9,1749.9 631.9,1749.9 633.9,1749.9 635.9,1749.9 637.9,1749.9 639.9,1749.9 641.9,1749.9 643.9,1749.9 645.9,1749.9 647.9,1749.9 649.9,1749.9 651.9,1749.9 653.9,1749.9 655.9,1749.9 657.9,1749.9 659.9,1749.9 661.9,1749.9 663.9,1749.9 665.9,1749.9 667.9,1749.9 669.9,1749.9 671.9,1749.9 673.9,1749.9 675.9,1749.9 677.9,1749.9 679.9,1749.9 681.9,1749.9 683.9,1749.9 685.9,1749.9 687.9,1749.9 689.9,1749.9 691.9,1749.9 693.9,1749.9 695.9,1749.9 698.1,1748.9 700.3,1747.9 702.6,1748.3 704.8,1747.1 707.1,1747.0 709.3,1746.2 711.5,1745.0 713.8,1745.2 715.6,1744.2 717.4,1743.4 719.2,1744.0 720.9,1746.5 722.7,1746.5 725.0,1746.6 727.2,1745.9 729.5,1747.0 731.7,1747.8 733.9,1747.9 736.2,1749.9 738.2,1749.9 740.3,1749.9 742.3,1749.9 744.3,1749.9 746.4,1749.9 748.4,1749.9 750.4,1749.9 752.5,1749.9 754.5,1749.9 756.5,1749.9 758.6,1749.9 760.5,1749.9 762.5,1749.9 764.5,1749.9 766.4,1749.9 768.4,1749.9 770.4,1749.9 772.3,1749.9 774.3,1749.9 776.3,1749.9 778.2,1749.9 780.2,1749.9 782.2,1749.9 784.1,1749.9 786.1,1749.9 788.1,1749.9 790.0,1749.9 792.0,1749.9 794.0,1749.9 795.3,1749.9" fill="none" stroke="#ff0000" stroke-width="2.1" stroke-linejoin="round" clip-path="url(#ccR0)"/>
<polyline points="438.3,1787.3 440.0,1787.3 442.3,1788.5 444.5,1788.8 446.8,1793.0 449.0,1792.6 451.0,1791.6 453.0,1794.4 455.0,1796.4 457.0,1796.1 459.0,1798.6 461.0,1797.1 463.0,1797.5 465.0,1798.8 467.0,1797.9 469.0,1798.0 471.0,1799.8 473.0,1794.8 475.0,1796.0 477.0,1792.5 479.0,1794.1 480.5,1790.3 482.0,1795.5 483.5,1794.1 485.0,1793.5 486.5,1791.8 488.0,1793.3 489.5,1794.1 491.8,1791.1 494.1,1794.8 496.1,1797.7 498.1,1794.4 500.1,1794.8 502.1,1796.2 504.1,1791.6 506.1,1792.6 507.6,1792.9 509.1,1793.3 511.1,1792.4 513.1,1793.1 515.1,1795.6 517.1,1797.2 519.1,1795.5 521.1,1794.1 522.6,1795.4 524.1,1792.6 526.1,1792.6 528.1,1792.3 530.1,1794.8 532.0,1793.3 533.8,1793.3 536.1,1797.1 538.1,1796.0 540.1,1797.4 542.1,1796.4 544.1,1796.1 546.1,1799.7 548.1,1797.1 550.1,1797.4 552.1,1795.1 554.1,1796.4 556.1,1795.7 558.0,1797.5 560.0,1798.6 561.4,1798.0 563.7,1796.1 565.9,1799.1 568.2,1797.5 570.4,1798.9 572.6,1798.5 574.9,1797.9 577.1,1799.3 579.4,1800.3 581.2,1800.6 583.1,1800.9 585.0,1801.2 586.8,1801.5 588.7,1801.8 590.6,1802.0 592.6,1802.0 594.6,1802.0 596.6,1802.0 598.6,1802.0 600.6,1802.0 602.6,1802.0 604.7,1802.0 606.7,1802.0 608.7,1802.0 610.7,1802.0 612.7,1802.0 614.7,1802.0 616.7,1802.0 618.7,1802.0 620.7,1802.0 622.8,1802.0 624.8,1802.0 626.8,1802.0 628.8,1802.0 630.8,1802.0 632.8,1802.0 634.8,1802.0 636.8,1802.0 638.8,1802.0 640.9,1802.0 642.9,1802.0 644.9,1802.0 646.9,1802.0 648.9,1802.0 650.9,1802.0 652.9,1802.0 654.9,1802.0 657.0,1802.0 659.0,1802.0 661.0,1802.0 663.0,1802.0 665.0,1802.0 667.0,1802.0 669.0,1802.0 671.0,1802.0 673.0,1802.0 675.1,1802.0 677.1,1802.0 679.1,1802.0 681.1,1802.0 683.1,1802.0 685.1,1802.0 687.1,1802.0 689.1,1802.0 691.4,1797.2 693.2,1795.4 695.0,1789.1 696.5,1784.7 698.1,1784.6 700.3,1784.2 702.6,1783.7 704.8,1778.5 707.1,1781.0 709.3,1781.2 711.5,1779.2 713.8,1773.2 716.0,1776.5 717.6,1779.5 719.2,1780.1 720.9,1780.3 722.7,1784.6 724.5,1789.9 726.3,1786.8 727.9,1788.0 729.5,1790.0 731.0,1789.3 732.6,1791.3 735.3,1797.2 736.9,1799.6 738.4,1802.0 740.4,1802.0 742.3,1802.0 744.2,1802.0 746.2,1802.0 748.1,1802.0 750.1,1802.0 752.0,1802.0 754.0,1802.0 755.9,1802.0 757.8,1802.0 759.8,1802.0 761.7,1802.0 763.7,1802.0 765.6,1802.0 767.5,1802.0 769.8,1800.7 772.0,1799.4 774.3,1798.0 776.5,1794.4 778.7,1796.4 781.0,1794.5 783.2,1794.5 785.5,1795.8 787.7,1798.0 789.9,1798.9 792.0,1799.3 794.0,1800.3 795.3,1800.3" fill="none" stroke="#000000" stroke-width="2.1" stroke-linejoin="round" clip-path="url(#ccR1)"/>
<polyline points="438.3,1825.6 440.0,1825.6 441.5,1826.2 443.0,1821.1 444.5,1818.2 446.0,1818.1 447.5,1815.1 449.0,1818.1 450.5,1824.1 452.0,1822.6 453.5,1818.6 455.0,1824.1 456.5,1821.1 458.0,1816.1 459.5,1830.1 461.8,1818.1 463.3,1809.1 464.8,1803.1 466.3,1801.6 467.8,1812.1 468.5,1819.6 470.0,1821.1 471.5,1825.6 473.8,1830.1 476.0,1837.6 477.5,1839.4 479.0,1838.4 480.5,1832.4 482.0,1835.4 484.3,1839.9 486.5,1840.6 488.0,1842.7 489.5,1843.6 491.1,1843.4 492.6,1845.2 494.1,1848.0 495.6,1846.7 497.1,1846.0 498.6,1847.4 500.8,1844.9 503.1,1846.7 504.6,1849.2 506.1,1845.2 507.6,1845.1 509.1,1846.7 510.6,1845.6 512.1,1848.9 513.6,1850.0 515.1,1849.7 516.6,1845.6 518.1,1848.2 520.1,1848.0 522.1,1849.9 524.1,1848.9 526.1,1848.8 528.1,1849.2 530.1,1850.4 532.1,1852.2 534.1,1850.6 536.1,1850.4 538.1,1851.2 540.1,1851.6 542.1,1850.4 544.1,1852.0 546.1,1850.1 548.1,1851.2 550.1,1849.7 552.1,1849.5 554.1,1850.4 556.1,1851.1 558.0,1852.8 560.0,1850.4 561.4,1852.3 563.4,1852.4 565.4,1852.7 567.4,1851.7 569.4,1853.4 571.4,1852.8 573.4,1851.6 575.4,1852.3 577.4,1852.0 579.4,1852.7 581.2,1852.9 583.1,1853.2 585.0,1853.4 586.8,1853.7 588.7,1853.9 590.6,1854.2 592.6,1854.2 594.6,1854.2 596.6,1854.2 598.6,1854.2 600.7,1854.2 602.7,1854.2 604.7,1854.2 606.7,1854.2 608.7,1854.2 610.7,1854.2 612.7,1854.2 614.8,1854.2 616.8,1854.2 618.8,1854.2 620.8,1854.2 622.8,1854.2 624.8,1854.2 626.9,1854.2 628.9,1854.2 630.9,1854.2 632.9,1854.2 634.9,1854.2 636.9,1854.2 639.0,1854.2 641.0,1854.2 643.0,1854.2 645.0,1854.2 647.0,1854.2 649.0,1854.2 651.1,1854.2 653.1,1854.2 655.1,1854.2 657.1,1854.2 659.1,1854.2 661.1,1854.2 663.2,1854.2 665.2,1854.2 667.2,1854.2 669.2,1854.2 671.2,1854.2 673.2,1854.2 675.2,1854.2 677.3,1854.2 679.3,1854.2 681.3,1854.2 683.3,1854.2 685.3,1854.2 687.3,1854.2 689.4,1854.2 691.4,1854.2 693.6,1853.0 695.9,1851.8 698.1,1852.7 700.3,1851.6 702.6,1853.6 704.8,1852.7 706.8,1853.4 708.8,1852.2 710.8,1852.5 712.8,1852.4 714.8,1850.5 716.8,1851.1 718.8,1854.2 720.7,1853.3 722.7,1851.8 724.8,1852.0 726.9,1850.0 728.9,1852.3 731.0,1852.3 733.1,1852.2 735.1,1852.0 737.2,1851.6 739.3,1852.1 741.3,1853.5 743.4,1854.2 745.5,1852.5 747.6,1852.8 749.6,1852.7 751.6,1852.7 753.6,1852.4 755.6,1852.2 757.6,1851.1 759.6,1852.3 761.6,1853.1 763.6,1851.8 765.5,1852.2 767.5,1851.8 769.8,1852.1 772.0,1850.4 774.3,1851.3 776.5,1850.9 778.7,1851.2 781.0,1850.4 783.2,1850.8 785.5,1851.8 787.6,1851.5 789.7,1853.4 791.8,1853.9 794.0,1852.7 795.3,1852.7" fill="none" stroke="#6a00ff" stroke-width="2.1" stroke-linejoin="round" clip-path="url(#ccR2)"/>
<polyline points="438.3,1894.3 440.0,1894.3 442.3,1895.5 444.5,1895.0 446.8,1896.5 449.0,1898.0 451.0,1900.3 453.0,1899.6 455.0,1899.5 457.0,1901.8 459.0,1899.3 461.0,1901.8 463.0,1900.6 465.0,1901.5 467.0,1902.6 469.0,1902.8 471.0,1901.3 473.0,1901.1 475.0,1899.2 477.0,1899.3 479.0,1900.3 480.5,1901.1 482.0,1898.0 483.5,1899.3 485.0,1898.8 486.5,1898.6 488.0,1897.3 489.5,1896.9 491.1,1895.8 492.6,1901.6 494.1,1898.8 496.1,1895.8 498.1,1897.9 500.1,1896.5 501.6,1897.1 503.1,1898.0 504.6,1894.4 506.1,1891.3 507.6,1894.4 509.1,1895.0 510.6,1897.5 512.1,1897.3 513.6,1892.3 515.1,1895.0 516.6,1895.2 518.1,1894.3 520.3,1894.1 522.6,1892.8 524.1,1897.0 525.6,1895.0 527.8,1897.4 530.1,1895.8 532.0,1893.5 533.8,1889.8 536.1,1897.3 537.6,1897.3 539.1,1895.0 541.4,1894.2 543.6,1892.0 545.1,1893.5 546.6,1894.3 548.9,1892.6 551.1,1893.5 553.4,1893.5 555.6,1889.8 557.1,1896.5 560.0,1889.0 561.8,1887.6 563.7,1889.1 565.9,1888.8 568.2,1885.9 570.4,1884.6 572.6,1891.0 574.9,1891.3 577.1,1889.6 579.4,1889.1 581.6,1891.5 583.8,1892.2 586.1,1894.4 588.3,1895.8 590.6,1906.3 592.6,1906.3 594.5,1906.3 596.5,1906.3 598.5,1906.3 600.5,1906.3 602.5,1906.3 604.4,1906.3 606.4,1906.3 608.4,1906.3 610.4,1906.3 612.4,1906.3 614.3,1906.3 616.3,1906.3 618.3,1906.3 620.3,1906.3 622.3,1906.3 624.3,1906.3 626.2,1906.3 628.2,1906.3 630.2,1906.3 632.2,1906.3 634.2,1906.3 636.1,1906.3 638.1,1906.3 640.1,1906.3 642.1,1906.3 644.1,1906.3 646.1,1906.3 648.0,1906.3 650.0,1906.3 652.0,1906.3 654.0,1906.3 656.0,1906.3 657.9,1906.3 659.9,1906.3 661.9,1906.3 663.9,1906.3 665.9,1906.3 667.9,1906.3 669.8,1906.3 671.8,1906.3 673.8,1906.3 675.8,1906.3 677.8,1906.3 679.7,1906.3 681.7,1906.3 683.7,1906.3 685.7,1906.3 687.7,1906.3 689.7,1906.3 691.6,1906.3 693.6,1906.3 695.9,1905.1 698.1,1903.9 700.3,1903.2 702.6,1902.9 704.8,1901.2 707.1,1902.1 709.3,1898.5 711.5,1899.4 713.8,1901.7 716.0,1900.6 718.3,1900.3 720.5,1902.5 722.7,1900.3 725.0,1901.2 727.2,1903.6 729.5,1903.0 731.7,1903.9 733.9,1905.1 736.2,1906.3 738.1,1906.3 740.1,1906.3 742.1,1906.3 744.0,1906.3 746.0,1906.3 747.9,1906.3 749.9,1906.3 751.9,1906.3 753.8,1906.3 755.8,1906.3 757.7,1906.3 759.7,1906.3 761.7,1906.3 763.6,1906.3 765.6,1906.3 767.5,1906.3 769.8,1905.7 772.0,1905.1 774.3,1904.5 776.5,1903.9 778.7,1905.8 781.0,1904.0 783.2,1904.8 785.5,1904.8 787.6,1905.1 789.7,1905.5 791.8,1905.9 794.0,1906.3 795.3,1906.3" fill="none" stroke="#ff0000" stroke-width="2.1" stroke-linejoin="round" clip-path="url(#ccR3)"/>
<polyline points="438.3,1946.8 440.0,1946.8 442.3,1948.4 444.5,1946.1 446.8,1948.6 449.0,1949.8 451.0,1951.8 453.0,1953.0 455.0,1953.6 457.0,1953.4 459.0,1953.7 461.0,1954.4 463.0,1954.5 465.0,1954.9 467.0,1954.4 469.0,1953.6 471.0,1954.1 473.0,1953.6 475.0,1954.0 477.0,1955.9 479.0,1952.1 481.0,1952.1 483.0,1951.0 485.0,1949.1 486.5,1948.7 488.0,1950.6 489.5,1950.5 491.1,1952.1 492.6,1951.3 494.1,1949.8 496.1,1948.0 498.1,1950.7 500.1,1949.1 502.1,1949.9 504.1,1947.0 506.1,1946.1 507.6,1949.5 509.1,1947.6 510.6,1953.2 512.1,1951.4 513.6,1946.6 515.1,1946.1 516.6,1948.8 518.1,1944.6 520.3,1942.3 522.6,1943.1 524.1,1944.0 525.6,1947.6 527.8,1948.3 530.1,1947.6 531.6,1946.0 533.1,1945.3 534.6,1951.9 536.1,1949.8 537.6,1949.7 539.1,1948.3 541.4,1945.3 543.6,1944.6 545.1,1946.7 546.6,1946.1 548.9,1946.0 551.1,1947.6 552.6,1948.0 554.1,1946.1 555.6,1944.1 557.1,1948.3 560.0,1941.6 561.8,1944.9 563.7,1938.4 565.9,1937.5 568.2,1942.8 570.4,1945.2 572.6,1940.6 574.9,1940.7 577.1,1945.1 579.4,1937.9 581.6,1942.8 583.8,1942.2 586.1,1947.3 587.9,1948.9 589.7,1949.6 591.5,1958.4 593.5,1958.4 595.5,1958.4 597.5,1958.4 599.5,1958.4 601.5,1958.4 603.5,1958.4 605.5,1958.4 607.5,1958.4 609.5,1958.4 611.5,1958.4 613.5,1958.4 615.5,1958.4 617.5,1958.4 619.5,1958.4 621.5,1958.4 623.5,1958.4 625.5,1958.4 627.5,1958.4 629.5,1958.4 631.5,1958.4 633.5,1958.4 635.5,1958.4 637.5,1958.4 639.5,1958.4 641.5,1958.4 643.5,1958.4 645.5,1958.4 647.5,1958.4 649.6,1958.4 651.6,1958.4 653.6,1958.4 655.6,1958.4 657.6,1958.4 659.6,1958.4 661.6,1958.4 663.6,1958.4 665.6,1958.4 667.6,1958.4 669.6,1958.4 671.6,1958.4 673.6,1958.4 675.6,1958.4 677.6,1958.4 679.6,1958.4 681.6,1958.4 683.6,1958.4 685.6,1958.4 687.6,1958.4 689.6,1958.4 691.6,1958.4 693.6,1958.4 695.9,1956.7 698.1,1954.9 700.3,1954.8 702.6,1954.1 704.8,1953.2 707.1,1952.0 709.3,1953.6 711.5,1951.8 713.8,1949.8 716.0,1950.2 718.3,1952.3 720.5,1951.8 722.7,1952.6 725.0,1953.2 727.2,1953.4 729.5,1954.3 731.7,1954.9 733.9,1956.7 736.2,1958.4 738.1,1958.4 740.1,1958.4 742.1,1958.4 744.0,1958.4 746.0,1958.4 747.9,1958.4 749.9,1958.4 751.9,1958.4 753.8,1958.4 755.8,1958.4 757.7,1958.4 759.7,1958.4 761.7,1958.4 763.6,1958.4 765.6,1958.4 767.5,1958.4 769.8,1958.0 772.0,1957.6 774.3,1957.2 776.5,1956.7 778.7,1957.3 781.0,1956.8 783.2,1958.3 785.5,1956.7 787.6,1957.8 789.7,1957.5 791.8,1957.7 794.0,1957.6 795.3,1957.6" fill="none" stroke="#ff0000" stroke-width="2.1" stroke-linejoin="round" clip-path="url(#ccR4)"/>
<polyline points="438.3,1982.1 440.0,1982.1 441.5,1977.3 443.0,1973.1 445.3,1967.9 447.5,1971.6 449.0,1978.1 450.5,1983.6 452.0,1985.8 453.5,1989.6 455.0,1983.9 456.5,1980.6 458.0,1971.1 459.5,1979.9 461.0,1977.1 462.5,1973.1 464.8,1964.1 466.3,1962.6 467.8,1970.1 469.3,1974.6 470.8,1973.1 472.3,1980.6 474.5,1989.6 476.0,1991.1 477.5,1997.1 479.8,1993.4 482.0,1991.9 484.3,1996.4 485.8,1994.1 488.0,2000.9 489.5,2005.4 491.1,2001.7 492.6,2001.4 494.1,2003.9 496.3,2000.9 498.6,2003.2 500.1,2004.3 501.6,2004.7 503.8,2003.2 506.1,2001.7 507.6,2000.0 509.1,2003.9 510.6,2005.8 512.1,2005.4 513.6,2006.4 515.1,2006.2 516.6,2004.9 518.1,2004.7 520.1,2005.6 522.1,2007.9 524.1,2005.4 526.1,2003.9 528.1,2004.8 530.1,2006.2 532.1,2007.8 534.1,2009.0 536.1,2007.7 538.1,2007.2 540.1,2007.2 542.1,2006.9 544.1,2007.3 546.1,2006.2 548.1,2007.7 550.1,2009.3 552.1,2008.1 554.1,2006.9 556.1,2007.2 558.0,2007.1 560.0,2007.7 561.4,2009.2 563.4,2009.1 565.4,2008.4 567.4,2009.8 569.4,2009.6 571.4,2007.9 573.4,2008.6 575.4,2007.4 577.4,2009.6 579.4,2009.6 581.2,2009.8 583.1,2009.9 585.0,2010.1 586.8,2010.2 588.7,2010.4 590.6,2010.5 592.6,2010.5 594.5,2010.5 596.5,2010.5 598.5,2010.5 600.5,2010.5 602.5,2010.5 604.5,2010.5 606.5,2010.5 608.4,2010.5 610.4,2010.5 612.4,2010.5 614.4,2010.5 616.4,2010.5 618.4,2010.5 620.4,2010.5 622.4,2010.5 624.3,2010.5 626.3,2010.5 628.3,2010.5 630.3,2010.5 632.3,2010.5 634.3,2010.5 636.3,2010.5 638.2,2010.5 640.2,2010.5 642.2,2010.5 644.2,2010.5 646.2,2010.5 648.2,2010.5 650.2,2010.5 652.2,2010.5 654.1,2010.5 656.1,2010.5 658.1,2010.5 660.1,2010.5 662.1,2010.5 664.1,2010.5 666.1,2010.5 668.0,2010.5 670.0,2010.5 672.0,2010.5 674.0,2010.5 676.0,2010.5 678.0,2010.5 680.0,2010.5 682.0,2010.5 683.9,2010.5 685.9,2010.5 687.9,2010.5 689.9,2010.5 691.9,2010.5 693.9,2010.5 695.9,2010.5 698.1,2010.2 700.3,2009.8 702.6,2009.5 704.8,2009.2 706.8,2009.1 708.8,2008.2 710.8,2009.1 712.8,2010.2 714.8,2006.7 716.8,2009.5 718.8,2009.1 720.7,2009.6 722.7,2009.6 724.8,2009.7 726.9,2009.7 728.9,2009.8 731.0,2009.9 733.1,2010.0 735.1,2010.0 737.2,2010.1 739.3,2010.2 741.3,2010.2 743.4,2010.3 745.5,2010.4 747.6,2010.5 749.6,2010.5 751.6,2010.4 753.6,2010.3 755.6,2010.2 757.6,2010.1 759.6,2010.0 761.6,2009.9 763.6,2009.8 765.5,2009.7 767.5,2009.6 769.8,2008.5 772.0,2008.7 774.3,2008.1 776.5,2007.8 778.7,2010.0 781.0,2009.0 783.2,2008.3 785.5,2008.7 787.6,2009.2 789.7,2009.6 791.8,2010.1 794.0,2010.5 795.3,2010.5" fill="none" stroke="#6a00ff" stroke-width="2.1" stroke-linejoin="round" clip-path="url(#ccR5)"/>
<polyline points="438.3,2045.5 440.0,2045.5 441.5,2047.5 443.0,2048.5 444.5,2046.3 446.0,2050.0 447.5,2051.7 449.0,2053.0 450.5,2053.0 452.0,2056.1 453.5,2054.1 455.0,2056.8 457.0,2057.0 459.0,2058.0 461.0,2058.3 463.0,2059.6 465.0,2060.2 467.0,2059.1 468.5,2059.3 470.0,2056.1 471.5,2058.3 473.0,2057.6 475.0,2058.7 477.0,2057.5 479.0,2056.1 480.5,2053.0 482.0,2053.8 483.5,2053.8 485.0,2052.3 486.5,2055.9 488.0,2056.1 489.5,2053.9 491.1,2055.3 492.6,2053.7 494.1,2053.8 495.6,2052.7 497.1,2053.0 498.6,2054.9 500.1,2054.5 502.1,2055.1 504.1,2056.0 506.1,2054.5 508.3,2054.3 510.6,2056.1 512.1,2058.0 513.6,2058.3 515.1,2057.7 516.6,2053.0 518.8,2053.2 521.1,2054.5 523.3,2056.3 525.6,2056.8 527.8,2058.3 530.1,2056.1 531.6,2053.8 533.1,2055.7 534.6,2056.8 536.8,2057.9 539.1,2059.1 540.6,2060.3 542.1,2057.6 543.6,2053.1 545.1,2056.1 546.6,2055.3 548.1,2057.6 549.6,2058.3 551.1,2056.8 552.6,2057.3 554.1,2059.8 555.6,2057.8 557.1,2057.6 560.0,2059.8 561.4,2058.5 563.7,2058.5 565.9,2058.2 568.2,2059.3 570.4,2059.9 572.6,2061.8 574.9,2061.3 577.1,2060.7 579.4,2060.8 581.6,2060.4 583.8,2061.7 586.1,2061.3 588.3,2061.7 590.6,2062.2 592.8,2062.7 594.8,2062.7 596.8,2062.7 598.8,2062.7 600.8,2062.7 602.8,2062.7 604.9,2062.7 606.9,2062.7 608.9,2062.7 610.9,2062.7 612.9,2062.7 614.9,2062.7 616.9,2062.7 618.9,2062.7 620.9,2062.7 622.9,2062.7 624.9,2062.7 626.9,2062.7 628.9,2062.7 630.9,2062.7 632.9,2062.7 635.0,2062.7 637.0,2062.7 639.0,2062.7 641.0,2062.7 643.0,2062.7 645.0,2062.7 647.0,2062.7 649.0,2062.7 651.0,2062.7 653.0,2062.7 655.0,2062.7 657.0,2062.7 659.0,2062.7 661.0,2062.7 663.0,2062.7 665.1,2062.7 667.1,2062.7 669.1,2062.7 671.1,2062.7 673.1,2062.7 675.1,2062.7 677.1,2062.7 679.1,2062.7 681.1,2062.7 683.1,2062.7 685.1,2062.7 687.1,2062.7 689.1,2062.7 690.7,2060.6 692.3,2058.5 695.0,2051.8 696.5,2052.1 698.1,2045.1 700.3,2047.1 702.6,2046.4 704.8,2046.1 707.1,2042.8 709.3,2050.0 711.5,2041.9 713.1,2039.4 714.7,2038.4 716.5,2038.4 718.3,2039.3 720.5,2037.3 722.7,2045.1 724.5,2046.6 726.3,2047.3 727.9,2044.9 729.5,2048.2 731.0,2044.5 732.6,2049.6 735.3,2058.5 736.9,2060.6 738.4,2062.7 740.4,2062.7 742.3,2062.7 744.2,2062.7 746.2,2062.7 748.1,2062.7 750.1,2062.7 752.0,2062.7 754.0,2062.7 755.9,2062.7 757.8,2062.7 759.8,2062.7 761.7,2062.7 763.7,2062.7 765.6,2062.7 767.5,2062.7 769.8,2061.3 772.0,2059.9 774.3,2058.5 776.5,2057.7 778.7,2056.3 781.0,2057.0 783.2,2055.3 785.5,2058.5 787.6,2058.3 789.7,2059.3 791.8,2059.2 794.0,2059.9 795.3,2059.9" fill="none" stroke="#000000" stroke-width="2.1" stroke-linejoin="round" clip-path="url(#ccR6)"/>
<polyline points="438.3,2098.8 440.0,2098.8 441.5,2094.5 443.0,2100.3 444.5,2100.3 446.0,2102.6 447.5,2104.7 449.0,2105.6 451.3,2103.3 453.5,2109.4 455.8,2109.9 458.0,2108.6 460.0,2109.4 462.0,2111.8 464.0,2110.1 466.3,2111.6 468.5,2110.9 470.8,2107.7 473.0,2109.4 475.0,2108.2 477.0,2108.1 479.0,2107.9 480.5,2105.6 482.0,2106.7 483.5,2107.9 485.8,2110.8 488.0,2107.1 489.5,2110.4 491.1,2108.6 493.1,2107.9 495.1,2107.1 497.1,2105.6 498.6,2107.3 500.1,2108.6 502.1,2109.1 504.1,2105.8 506.1,2107.1 507.6,2109.7 509.1,2110.1 510.6,2109.0 512.1,2110.1 513.6,2110.5 515.1,2107.1 516.6,2106.8 518.1,2108.6 519.6,2106.6 521.1,2107.1 523.3,2107.4 525.6,2105.6 527.8,2100.1 530.1,2101.1 531.6,2097.3 533.8,2101.8 535.7,2104.6 537.6,2107.1 539.1,2110.8 540.6,2107.1 542.1,2105.9 543.6,2102.6 545.1,2102.6 546.6,2104.1 548.9,2103.7 551.1,2102.6 552.6,2106.5 554.1,2104.1 555.6,2097.3 557.1,2101.1 560.0,2104.1 561.8,2103.8 563.7,2096.6 565.9,2093.0 568.2,2092.5 570.4,2095.7 572.6,2095.3 574.9,2093.0 577.1,2095.2 579.4,2094.4 581.2,2090.9 583.0,2089.9 584.5,2096.9 586.1,2095.7 587.7,2101.8 589.2,2103.3 591.0,2114.8 593.0,2114.8 595.1,2114.8 597.1,2114.8 599.1,2114.8 601.1,2114.8 603.1,2114.8 605.1,2114.8 607.1,2114.8 609.2,2114.8 611.2,2114.8 613.2,2114.8 615.2,2114.8 617.2,2114.8 619.2,2114.8 621.3,2114.8 623.3,2114.8 625.3,2114.8 627.3,2114.8 629.3,2114.8 631.3,2114.8 633.4,2114.8 635.4,2114.8 637.4,2114.8 639.4,2114.8 641.4,2114.8 643.4,2114.8 645.5,2114.8 647.5,2114.8 649.5,2114.8 651.5,2114.8 653.5,2114.8 655.5,2114.8 657.6,2114.8 659.6,2114.8 661.6,2114.8 663.6,2114.8 665.6,2114.8 667.6,2114.8 669.6,2114.8 671.7,2114.8 673.7,2114.8 675.7,2114.8 677.7,2114.8 679.7,2114.8 681.7,2114.8 683.8,2114.8 685.8,2114.8 687.8,2114.8 689.8,2114.8 691.8,2114.8 693.8,2114.8 695.9,2114.8 698.1,2113.8 700.3,2112.7 702.6,2111.0 704.8,2110.6 707.1,2110.9 709.3,2109.6 711.5,2109.9 713.8,2109.2 716.0,2110.9 718.3,2107.8 720.5,2109.3 722.7,2110.0 725.0,2110.6 727.2,2112.5 729.5,2112.3 731.7,2111.6 733.9,2113.6 736.2,2114.0 738.4,2114.4 740.7,2114.8 742.7,2114.8 744.6,2114.8 746.6,2114.8 748.6,2114.8 750.6,2114.8 752.6,2114.8 754.6,2114.8 756.6,2114.8 758.6,2114.8 760.5,2114.8 762.5,2114.8 764.5,2114.8 766.4,2114.8 768.4,2114.8 770.4,2114.8 772.3,2114.8 774.3,2114.8 776.3,2114.8 778.2,2114.8 780.2,2114.8 782.2,2114.8 784.1,2114.8 786.1,2114.8 788.1,2114.8 790.0,2114.8 792.0,2114.8 794.0,2114.8 795.3,2114.8" fill="none" stroke="#ff0000" stroke-width="2.1" stroke-linejoin="round" clip-path="url(#ccR7)"/>
<polyline points="438.3,2157.4 440.0,2157.4 442.3,2156.2 444.5,2158.2 446.8,2155.6 449.0,2157.4 451.0,2160.8 453.0,2157.7 455.0,2158.9 456.5,2156.9 458.0,2156.7 459.5,2159.1 461.0,2158.2 463.3,2158.0 465.5,2158.2 467.8,2161.1 470.0,2158.9 471.5,2157.4 473.8,2160.3 476.0,2161.2 478.3,2162.0 480.5,2161.2 482.8,2161.6 485.0,2158.9 486.5,2162.1 488.0,2160.4 489.5,2160.5 491.1,2159.7 493.3,2157.2 495.6,2158.2 497.8,2161.2 500.1,2161.2 502.3,2160.6 504.6,2158.9 506.8,2160.3 509.1,2161.2 511.3,2162.0 513.6,2160.4 515.1,2160.5 516.6,2158.9 518.8,2161.3 521.1,2159.7 523.3,2159.3 525.6,2158.9 527.8,2158.7 530.1,2158.2 532.3,2157.3 534.6,2158.2 536.1,2159.6 537.6,2161.9 539.1,2163.2 540.6,2162.7 542.1,2152.9 543.6,2153.0 545.1,2152.9 546.6,2148.6 548.1,2150.6 549.6,2150.9 551.1,2154.4 552.6,2151.1 554.1,2149.9 555.6,2151.5 557.1,2153.6 560.0,2149.9 561.8,2152.7 563.7,2149.5 565.9,2150.8 568.2,2146.8 570.4,2146.1 572.6,2149.5 574.9,2148.6 577.1,2145.9 579.4,2142.1 581.6,2148.1 583.4,2145.9 585.2,2143.6 586.8,2148.4 588.3,2149.5 590.6,2159.3 591.9,2166.9 593.9,2166.9 595.8,2166.9 597.8,2166.9 599.8,2166.9 601.7,2166.9 603.7,2166.9 605.7,2166.9 607.6,2166.9 609.6,2166.9 611.5,2166.9 613.5,2166.9 615.5,2166.9 617.4,2166.9 619.4,2166.9 621.4,2166.9 623.3,2166.9 625.3,2166.9 627.2,2166.9 629.2,2166.9 631.2,2166.9 633.1,2166.9 635.4,2165.2 637.6,2166.9 639.6,2166.9 641.7,2166.9 643.7,2166.9 645.7,2166.9 647.7,2166.9 649.8,2166.9 651.8,2166.9 653.8,2166.9 655.8,2166.9 657.8,2166.9 659.9,2166.9 661.9,2166.9 663.9,2166.9 665.9,2166.9 668.0,2166.9 670.0,2166.9 672.0,2166.9 674.0,2166.9 676.1,2166.9 678.1,2166.9 680.1,2166.9 682.1,2166.9 684.2,2166.9 686.2,2166.9 688.2,2166.9 690.2,2166.9 692.2,2166.9 694.3,2166.9 696.3,2166.9 698.3,2166.9 700.3,2166.9 702.6,2165.4 704.8,2163.8 707.1,2162.6 709.3,2164.0 711.5,2160.8 713.8,2162.5 716.0,2162.2 718.3,2162.7 720.5,2162.7 722.7,2162.9 725.0,2163.0 727.2,2161.8 729.5,2163.3 731.7,2164.7 733.9,2165.5 736.2,2165.6 738.4,2166.8 740.7,2166.1 742.7,2166.1 744.6,2166.2 746.6,2166.3 748.6,2166.4 750.6,2166.5 752.6,2166.6 754.6,2166.7 756.6,2166.8 758.6,2166.9 760.5,2166.9 762.5,2166.9 764.5,2166.9 766.4,2166.9 768.4,2166.9 770.4,2166.9 772.3,2166.9 774.3,2166.9 776.3,2166.9 778.2,2166.9 780.2,2166.9 782.2,2166.9 784.1,2166.9 786.1,2166.9 788.1,2166.9 790.0,2166.9 792.0,2166.9 794.0,2166.9 795.3,2166.9" fill="none" stroke="#ff0000" stroke-width="2.1" stroke-linejoin="round" clip-path="url(#ccR8)"/>
<polyline points="438.3,2195.0 440.3,2195.0 441.3,2202.6 441.9,2206.9 444.1,2204.2 446.3,2207.6 448.8,2206.9 451.3,2210.1 453.1,2210.5 455.0,2212.6 456.7,2212.9 458.4,2213.9 460.0,2213.2 462.1,2212.0 464.2,2212.8 466.3,2213.8 468.4,2213.1 470.5,2211.8 472.5,2214.4 474.4,2215.6 476.3,2215.1 478.2,2215.6 480.1,2212.6 481.7,2212.8 483.4,2212.5 485.1,2210.1 487.6,2211.3 489.4,2210.2 491.3,2209.4 493.2,2209.9 495.1,2210.1 496.6,2207.1 498.2,2208.2 500.4,2212.2 502.6,2211.3 504.3,2210.4 505.9,2213.3 507.6,2211.9 509.3,2213.1 510.9,2214.5 512.6,2214.4 514.5,2213.1 516.4,2211.3 518.4,2215.2 520.5,2208.9 522.6,2211.9 524.7,2209.9 526.8,2209.9 528.9,2212.6 530.9,2211.6 533.0,2212.8 535.0,2212.6 537.0,2212.3 539.0,2214.5 541.0,2215.8 542.9,2214.2 544.8,2212.9 546.7,2215.5 548.6,2214.0 550.6,2216.4 552.5,2215.9 554.4,2215.7 556.3,2216.2 558.2,2217.0 560.2,2217.4 562.1,2216.0 564.0,2216.5 565.9,2216.8 567.8,2215.8 569.8,2216.6 571.7,2216.8 573.6,2218.6 575.5,2218.4 577.4,2217.5 579.4,2218.1 581.3,2218.2 583.2,2218.4 585.1,2218.5 587.0,2218.6 589.0,2218.8 590.9,2218.9 592.8,2219.0 594.8,2219.0 596.9,2219.0 598.9,2219.0 601.0,2219.0 603.0,2219.0 605.0,2219.0 607.1,2219.0 609.1,2219.0 611.1,2219.0 613.2,2219.0 615.2,2219.0 617.1,2218.8 619.1,2218.6 621.0,2218.4 622.9,2218.2 624.8,2218.0 626.7,2217.9 628.7,2217.7 630.9,2218.0 633.1,2218.3 635.4,2218.7 637.6,2219.0 639.9,2219.0 642.1,2219.0 644.1,2219.0 646.1,2219.0 648.0,2219.0 650.0,2219.0 652.0,2219.0 654.0,2219.0 656.0,2219.0 657.9,2219.0 659.9,2219.0 661.9,2219.0 663.9,2219.0 665.9,2219.0 667.9,2219.0 669.8,2219.0 671.8,2219.0 673.8,2219.0 675.8,2219.0 677.8,2219.0 679.7,2219.0 681.7,2219.0 683.7,2219.0 685.7,2219.0 687.7,2219.0 689.7,2219.0 691.6,2219.0 693.6,2219.0 695.9,2214.5 698.1,2208.7 700.3,2204.2 702.1,2204.1 703.9,2201.1 705.5,2195.7 707.1,2194.4 708.6,2198.2 710.2,2192.1 712.9,2196.6 714.4,2203.1 716.0,2198.8 718.3,2205.3 720.5,2202.4 722.7,2203.7 725.0,2205.6 727.2,2207.6 729.5,2207.8 731.7,2209.3 733.9,2210.0 735.5,2211.1 737.1,2212.3 739.8,2217.7 741.7,2217.9 743.7,2218.2 745.7,2218.5 747.6,2218.7 749.6,2219.0 751.7,2218.9 753.7,2218.8 755.7,2218.6 757.8,2218.5 759.8,2218.4 761.8,2218.3 763.9,2218.2 765.9,2218.0 767.9,2217.9 770.0,2217.8 772.0,2217.7 774.0,2218.2 776.0,2217.2 778.0,2217.4 780.0,2216.9 782.0,2219.0 784.0,2218.7 786.0,2218.1 788.0,2216.4 790.0,2217.2 792.0,2217.6 794.0,2217.7 795.3,2217.7" fill="none" stroke="#000000" stroke-width="2.1" stroke-linejoin="round" clip-path="url(#ccR9)"/>
<polyline points="438.3,2262.1 440.0,2262.1 441.5,2264.5 443.0,2263.6 444.5,2262.8 446.0,2259.1 447.5,2251.7 449.0,2250.1 451.3,2241.8 452.8,2244.1 454.3,2253.1 456.5,2248.6 458.8,2244.1 460.3,2237.3 462.5,2242.6 464.8,2247.1 467.0,2248.6 468.5,2232.1 469.3,2217.1 471.0,2217.1 472.8,2217.1 474.5,2217.1 476.0,2238.1 478.3,2251.6 480.5,2247.1 482.8,2250.1 485.0,2247.8 487.3,2256.1 489.5,2257.6 491.1,2259.5 492.6,2259.1 494.8,2253.8 497.1,2256.1 498.6,2257.3 500.1,2259.8 501.6,2257.7 503.1,2261.4 504.6,2260.6 506.1,2262.1 507.6,2263.8 509.1,2265.1 510.6,2264.9 512.1,2265.1 513.6,2267.3 515.1,2262.1 516.6,2265.7 518.1,2265.9 519.6,2267.5 521.1,2267.4 522.6,2269.0 524.1,2268.1 526.1,2267.7 528.1,2268.4 530.1,2267.4 532.1,2268.6 534.1,2269.9 536.1,2271.1 538.1,2270.1 540.1,2269.1 542.1,2268.1 544.1,2266.5 546.1,2266.7 548.1,2267.4 550.1,2267.1 552.1,2267.5 554.1,2268.1 556.1,2267.4 558.0,2266.8 560.0,2266.6 562.1,2265.8 564.1,2267.4 566.2,2269.1 568.3,2267.0 570.4,2267.8 572.4,2265.9 574.4,2266.9 576.4,2269.1 578.4,2268.7 580.4,2267.6 582.4,2268.4 584.3,2269.4 586.3,2266.8 588.3,2268.7 590.6,2271.1 592.6,2271.1 594.6,2271.1 596.6,2271.1 598.6,2271.1 600.6,2271.1 602.6,2271.1 604.6,2271.1 606.6,2271.1 608.6,2271.1 610.6,2271.1 612.6,2271.1 614.6,2271.1 616.6,2271.1 618.6,2271.1 620.6,2271.1 622.6,2271.1 624.6,2271.1 626.6,2271.1 628.7,2271.1 630.9,2267.4 633.1,2266.0 635.4,2268.7 637.6,2271.1 639.6,2271.1 641.7,2271.1 643.7,2271.1 645.7,2271.1 647.7,2271.1 649.8,2271.1 651.8,2271.1 653.8,2271.1 655.8,2271.1 657.8,2271.1 659.9,2271.1 661.9,2271.1 663.9,2271.1 665.9,2271.1 668.0,2271.1 670.0,2271.1 672.0,2271.1 674.0,2271.1 676.1,2271.1 678.1,2271.1 680.1,2271.1 682.1,2271.1 684.2,2271.1 686.2,2271.1 688.2,2271.1 690.2,2271.1 692.2,2271.1 694.3,2271.1 696.3,2271.1 698.3,2271.1 700.3,2271.1 702.3,2270.9 704.2,2270.7 706.1,2270.5 708.0,2270.3 709.9,2270.1 711.9,2269.8 713.8,2269.6 715.8,2270.2 717.8,2269.0 719.8,2268.6 721.7,2269.8 723.7,2269.3 725.7,2268.8 727.7,2270.9 729.7,2270.1 731.7,2269.6 733.7,2269.8 735.7,2270.0 737.7,2270.1 739.7,2270.3 741.7,2270.5 743.6,2270.6 745.6,2270.8 747.6,2271.0 749.6,2271.1 751.7,2271.0 753.7,2270.9 755.7,2270.7 757.8,2270.6 759.8,2270.5 761.8,2270.3 763.9,2270.2 765.9,2270.0 767.9,2269.9 770.0,2269.8 772.0,2269.6 774.0,2270.0 776.0,2270.6 778.0,2269.0 780.0,2269.0 782.0,2268.6 784.0,2268.8 786.0,2270.0 788.0,2269.5 790.0,2271.1 792.0,2268.5 794.0,2269.6 795.3,2269.6" fill="none" stroke="#6a00ff" stroke-width="2.1" stroke-linejoin="round" clip-path="url(#ccR10)"/>
<polyline points="438.3,2307.1 440.0,2307.1 441.5,2311.1 443.0,2313.2 444.5,2312.6 446.0,2313.2 448.3,2309.8 450.5,2310.2 452.0,2312.6 453.5,2314.7 455.8,2316.8 458.0,2317.7 460.0,2317.7 462.0,2318.9 464.0,2319.2 466.0,2318.8 468.0,2317.2 470.0,2317.7 472.0,2316.4 474.0,2319.2 476.0,2319.2 478.0,2318.6 480.0,2316.1 482.0,2316.2 483.5,2316.5 485.0,2313.9 486.5,2315.2 488.0,2314.7 489.5,2312.7 491.1,2313.2 492.6,2316.3 494.1,2314.7 495.9,2314.2 497.8,2309.4 500.1,2311.7 501.6,2313.7 503.1,2314.7 504.6,2317.2 506.1,2313.2 507.6,2313.5 509.1,2315.4 511.1,2318.4 513.1,2315.5 515.1,2311.7 516.6,2312.7 518.1,2314.7 520.1,2315.5 522.1,2315.2 524.1,2314.7 526.1,2317.0 528.1,2314.7 530.1,2311.7 531.6,2315.3 533.1,2316.2 535.3,2315.9 537.6,2317.7 539.8,2313.9 542.1,2313.2 543.6,2311.8 545.1,2310.2 546.6,2305.6 548.1,2308.6 549.6,2311.9 551.1,2311.7 553.4,2308.8 555.6,2302.6 557.1,2308.6 560.0,2305.6 561.4,2304.1 563.7,2303.4 565.9,2305.5 568.2,2305.7 570.4,2306.4 572.6,2304.7 574.9,2307.3 577.1,2303.3 579.4,2306.4 581.6,2303.8 583.8,2310.0 586.1,2311.8 588.3,2315.3 590.6,2320.7 592.8,2323.3 594.8,2323.3 596.9,2323.3 598.9,2323.3 601.0,2323.3 603.0,2323.3 605.0,2323.3 607.1,2323.3 609.1,2323.3 611.1,2323.3 613.2,2323.3 615.2,2323.3 617.5,2322.2 619.7,2321.2 621.9,2322.2 624.2,2323.3 626.4,2322.7 628.7,2322.2 630.9,2321.7 633.1,2321.2 635.4,2322.2 637.6,2323.3 639.6,2323.3 641.7,2323.3 643.7,2323.3 645.7,2323.3 647.7,2323.3 649.8,2323.3 651.8,2323.3 653.8,2323.3 655.8,2323.3 657.8,2323.3 659.9,2323.3 661.9,2323.3 663.9,2323.3 665.9,2323.3 668.0,2323.3 670.0,2323.3 672.0,2323.3 674.0,2323.3 676.1,2323.3 678.1,2323.3 680.1,2323.3 682.1,2323.3 684.2,2323.3 686.2,2323.3 688.2,2323.3 690.2,2323.3 692.2,2323.3 694.3,2323.3 696.3,2323.3 698.3,2323.3 700.3,2323.3 702.6,2321.1 704.8,2318.9 707.1,2319.1 709.3,2317.7 711.5,2316.2 713.8,2316.2 716.0,2315.9 718.3,2317.0 720.5,2316.8 722.7,2317.6 725.0,2320.3 727.2,2317.8 729.5,2319.7 731.7,2318.9 733.9,2319.1 736.2,2318.8 738.4,2321.2 740.7,2319.8 742.9,2320.1 745.1,2321.0 747.4,2320.7 749.6,2322.1 751.9,2321.9 754.1,2322.9 756.3,2322.4 758.6,2322.1 760.6,2322.2 762.6,2322.3 764.6,2322.5 766.5,2322.6 768.5,2322.7 770.5,2322.9 772.5,2323.0 774.5,2323.1 776.5,2323.3 778.4,2323.3 780.4,2323.3 782.3,2323.3 784.3,2323.3 786.2,2323.3 788.2,2323.3 790.1,2323.3 792.0,2323.3 794.0,2323.3 795.3,2323.3" fill="none" stroke="#ff0000" stroke-width="2.1" stroke-linejoin="round" clip-path="url(#ccR11)"/>
<polyline points="438.3,2375.4 440.0,2375.4 441.5,2375.4 443.0,2375.4 444.5,2373.9 446.0,2372.4 447.5,2371.6 449.0,2371.6 451.3,2368.6 453.5,2370.9 455.8,2368.6 458.0,2371.6 459.5,2370.6 461.0,2371.6 462.5,2372.7 464.0,2373.1 466.0,2373.4 468.0,2374.0 470.0,2373.9 471.5,2372.7 473.0,2373.1 474.5,2374.2 476.0,2375.4 477.5,2375.4 479.0,2375.4 481.0,2374.9 483.0,2374.4 485.0,2373.9 487.0,2374.8 489.0,2372.2 491.1,2373.1 493.1,2372.8 495.1,2374.4 497.1,2371.6 498.6,2374.0 500.1,2373.9 501.6,2374.0 503.1,2373.9 504.6,2372.7 506.1,2371.6 508.3,2370.2 510.6,2370.1 512.1,2371.6 513.6,2358.1 515.1,2347.6 516.6,2352.1 518.1,2364.1 520.3,2368.6 521.8,2367.2 523.3,2363.3 524.8,2363.8 526.3,2365.6 527.8,2366.9 529.3,2367.1 531.6,2363.3 533.8,2367.8 535.3,2369.5 536.8,2370.9 538.3,2372.1 539.8,2370.9 541.7,2368.4 543.6,2366.3 545.3,2362.1 546.9,2357.3 548.9,2362.6 550.4,2359.8 551.9,2367.1 554.1,2363.3 556.4,2362.6 558.6,2367.1 560.0,2365.6 562.3,2366.0 564.6,2370.3 566.8,2368.3 569.1,2370.4 571.3,2370.5 573.5,2370.6 575.8,2372.3 578.0,2373.0 580.3,2372.8 582.5,2374.2 584.7,2372.4 587.0,2374.4 589.2,2374.1 591.5,2375.4 593.5,2375.4 595.6,2375.4 597.7,2375.4 599.8,2375.4 601.9,2375.4 603.9,2375.4 606.0,2375.4 608.1,2375.4 610.2,2375.4 612.2,2375.4 614.3,2375.4 616.6,2372.8 618.8,2345.9 620.6,2331.5 622.8,2341.4 624.6,2331.5 626.0,2345.9 627.8,2372.8 630.0,2375.4 631.8,2321.2 633.6,2321.2 635.4,2321.2 636.7,2375.4 638.7,2375.4 640.7,2375.4 642.7,2375.4 644.7,2375.4 646.7,2375.4 648.6,2375.4 650.6,2375.4 652.6,2375.4 654.6,2375.4 656.6,2375.4 658.6,2375.4 660.6,2375.4 662.6,2375.4 664.6,2375.4 666.5,2375.4 668.5,2375.4 670.5,2375.4 672.5,2375.4 674.5,2375.4 676.5,2375.4 678.5,2375.4 680.5,2375.4 682.4,2375.4 684.4,2375.4 686.4,2375.4 688.4,2375.4 690.4,2375.4 692.4,2375.4 694.4,2375.4 696.4,2375.4 698.3,2375.4 700.3,2375.4 702.6,2374.9 704.8,2374.5 707.1,2374.1 709.3,2373.7 711.2,2374.8 713.1,2374.2 715.1,2372.7 717.0,2372.8 718.9,2373.5 720.8,2374.6 722.7,2372.8 724.6,2372.7 726.5,2371.3 728.3,2371.2 730.2,2368.5 732.1,2366.4 733.9,2369.2 735.5,2365.9 737.1,2362.5 738.9,2368.8 740.7,2368.3 742.9,2369.6 745.1,2370.5 747.4,2370.5 749.6,2372.8 751.9,2371.2 754.1,2372.7 756.3,2373.0 758.6,2371.9 760.8,2370.7 763.1,2367.4 765.3,2362.9 766.9,2364.4 768.4,2369.2 771.1,2363.8 772.7,2367.1 774.3,2368.3 776.5,2370.5 778.7,2372.1 781.0,2372.8 783.2,2372.6 785.5,2370.5 787.7,2370.3 789.9,2369.2 792.0,2370.0 794.0,2371.9 795.3,2371.9" fill="none" stroke="#ff0000" stroke-width="2.1" stroke-linejoin="round" clip-path="url(#ccR12)"/>
<polyline points="438.3,2406.1 440.0,2406.1 442.3,2412.1 443.8,2409.1 446.0,2397.1 447.5,2389.6 449.3,2373.9 452.0,2373.9 453.2,2382.1 454.3,2373.9 456.5,2373.9 458.8,2373.9 461.0,2373.9 462.5,2382.1 464.8,2392.6 467.0,2404.6 468.5,2398.6 470.0,2400.1 472.3,2407.6 474.5,2416.6 476.0,2418.2 477.5,2421.2 479.0,2421.9 480.5,2421.9 482.8,2423.6 485.0,2423.4 487.3,2423.3 489.5,2424.2 491.8,2423.4 494.1,2422.7 496.1,2424.1 498.1,2422.5 500.1,2422.7 502.1,2424.4 504.1,2421.8 506.1,2424.2 508.1,2422.0 510.1,2424.0 512.1,2423.4 513.6,2421.0 515.1,2421.2 516.6,2422.3 518.1,2424.2 520.1,2423.6 522.1,2424.7 524.1,2424.9 526.1,2424.7 528.1,2425.4 530.1,2424.2 532.1,2425.3 534.1,2426.4 536.1,2427.5 538.1,2426.6 540.1,2425.8 542.1,2424.9 544.1,2425.8 546.1,2426.6 548.1,2427.5 550.1,2427.5 552.1,2427.5 554.1,2427.5 556.1,2427.5 558.0,2427.5 560.0,2427.5 562.1,2426.9 564.1,2426.2 566.2,2425.6 568.3,2424.9 570.4,2424.3 572.4,2423.4 574.4,2423.7 576.4,2425.5 578.4,2426.1 580.4,2422.7 582.4,2425.8 584.3,2424.9 586.3,2424.2 588.3,2424.7 590.4,2425.9 592.4,2425.2 594.5,2424.7 596.5,2423.9 598.6,2424.1 600.7,2423.5 602.7,2424.3 604.8,2426.0 606.8,2424.6 608.9,2425.9 610.9,2423.7 613.0,2424.7 615.2,2422.0 617.5,2420.3 619.7,2421.2 621.5,2423.5 623.3,2424.7 624.8,2426.1 626.4,2427.5 628.4,2427.5 630.4,2427.5 632.4,2427.5 634.4,2427.5 636.4,2427.5 638.4,2427.5 640.4,2427.5 642.4,2427.5 644.4,2427.5 646.4,2427.5 648.4,2427.5 650.4,2427.5 652.4,2427.5 654.4,2427.5 656.4,2427.5 658.4,2427.5 660.4,2427.5 662.4,2427.5 664.4,2427.5 666.4,2427.5 668.4,2427.5 670.4,2427.5 672.4,2427.5 674.4,2427.5 676.4,2427.5 678.4,2427.5 680.4,2427.5 682.4,2427.5 684.4,2427.5 686.4,2427.5 688.3,2427.5 690.3,2427.5 692.3,2427.5 694.3,2427.5 696.3,2427.5 698.3,2427.5 700.3,2427.5 702.3,2427.2 704.2,2427.0 706.1,2426.7 708.0,2426.4 709.9,2426.2 711.9,2425.9 713.8,2425.6 715.7,2425.1 717.6,2426.1 719.5,2425.5 721.5,2425.7 723.4,2425.4 725.3,2424.9 727.2,2424.7 729.5,2424.7 731.7,2424.4 733.9,2422.0 735.5,2419.2 737.1,2417.6 739.8,2422.0 741.6,2423.1 743.3,2422.5 745.1,2424.7 747.1,2424.7 749.0,2426.2 750.9,2424.2 752.8,2424.5 754.7,2425.9 756.7,2424.3 758.6,2425.6 760.6,2424.5 762.6,2425.7 764.6,2425.1 766.5,2425.0 768.5,2426.3 770.5,2424.2 772.5,2425.9 774.5,2426.4 776.5,2425.6 778.4,2425.7 780.4,2425.7 782.3,2424.8 784.3,2425.2 786.2,2426.0 788.2,2426.8 790.1,2426.0 792.0,2425.5 794.0,2426.1 795.3,2426.1" fill="none" stroke="#6a00ff" stroke-width="2.1" stroke-linejoin="round" clip-path="url(#ccR13)"/>
<line x1="642.01" y1="1697.8" x2="642.01" y2="2427.5" stroke="#ff0000" stroke-width="2.0" stroke-dasharray="13 5 5.5 4.8" stroke-dashoffset="21.9"/>
<text transform="translate(445.3,1711.7) scale(1.100,1)" font-size="12.5">15th-layer</text>
<line x1="733.3" y1="1710.5" x2="769.7" y2="1710.5" stroke="#ff0000" stroke-width="2"/>
<text transform="translate(772.9,1716)" font-size="14.5">O</text>
<text transform="translate(445.3,1764) scale(1.100,1)" font-size="12.5">16th-layer</text>
<line x1="733.3" y1="1762.62" x2="769.7" y2="1762.62" stroke="#000000" stroke-width="2"/>
<text transform="translate(772.9,1768.12)" font-size="14.5">W</text>
<text transform="translate(445.3,1818) scale(1.100,1)" font-size="12.5">17th-layer</text>
<line x1="733.3" y1="1814.74" x2="769.7" y2="1814.74" stroke="#6a00ff" stroke-width="2"/>
<text transform="translate(772.9,1820.24)" font-size="14.5">Zn</text>
<text transform="translate(445.3,1870.9) scale(1.100,1)" font-size="12.5">18th-layer</text>
<line x1="733.3" y1="1866.86" x2="769.7" y2="1866.86" stroke="#ff0000" stroke-width="2"/>
<text transform="translate(772.9,1872.36)" font-size="14.5">O</text>
<text transform="translate(445.3,1922.3) scale(1.100,1)" font-size="12.5">19th-layer</text>
<line x1="733.3" y1="1918.99" x2="769.7" y2="1918.99" stroke="#ff0000" stroke-width="2"/>
<text transform="translate(772.9,1924.49)" font-size="14.5">O</text>
<text transform="translate(445.3,1971.8) scale(1.100,1)" font-size="12.5">20th-layer</text>
<line x1="733.3" y1="1971.11" x2="769.7" y2="1971.11" stroke="#6a00ff" stroke-width="2"/>
<text transform="translate(772.9,1976.61)" font-size="14.5">Zn</text>
<text transform="translate(445.3,2026.7) scale(1.100,1)" font-size="12.5">21th-layer</text>
<line x1="733.3" y1="2023.23" x2="769.7" y2="2023.23" stroke="#000000" stroke-width="2"/>
<text transform="translate(772.9,2028.73)" font-size="14.5">W</text>
<text transform="translate(445.3,2078.2) scale(1.100,1)" font-size="12.5">22th-layer</text>
<line x1="733.3" y1="2075.35" x2="769.7" y2="2075.35" stroke="#ff0000" stroke-width="2"/>
<text transform="translate(772.9,2080.85)" font-size="14.5">O</text>
<text transform="translate(445.3,2129.2) scale(1.100,1)" font-size="12.5">23th-layer</text>
<line x1="733.3" y1="2127.47" x2="769.7" y2="2127.47" stroke="#ff0000" stroke-width="2"/>
<text transform="translate(772.9,2132.97)" font-size="14.5">O</text>
<text transform="translate(445.3,2182.7) scale(1.100,1)" font-size="12.5">24th-layer</text>
<line x1="733.3" y1="2179.59" x2="769.7" y2="2179.59" stroke="#000000" stroke-width="2"/>
<text transform="translate(772.9,2185.09)" font-size="14.5">W</text>
<text transform="translate(445.3,2235) scale(1.100,1)" font-size="12.5">25th-layer</text>
<line x1="733.3" y1="2231.71" x2="769.7" y2="2231.71" stroke="#6a00ff" stroke-width="2"/>
<text transform="translate(772.9,2237.21)" font-size="14.5">Zn</text>
<text transform="translate(445.3,2289.7) scale(1.100,1)" font-size="12.5">26th-layer</text>
<line x1="733.3" y1="2283.84" x2="769.7" y2="2283.84" stroke="#ff0000" stroke-width="2"/>
<text transform="translate(772.9,2289.34)" font-size="14.5">O</text>
<text transform="translate(445.3,2341.2) scale(1.100,1)" font-size="12.5">27th-layer</text>
<line x1="733.3" y1="2335.96" x2="769.7" y2="2335.96" stroke="#ff0000" stroke-width="2"/>
<text transform="translate(772.9,2341.46)" font-size="14.5">O</text>
<text transform="translate(445.3,2391.8) scale(1.100,1)" font-size="12.5">28th-layer</text>
<line x1="733.3" y1="2388.08" x2="769.7" y2="2388.08" stroke="#6a00ff" stroke-width="2"/>
<text transform="translate(772.9,2393.58)" font-size="14.5">Zn</text>
<text transform="translate(64,17.3) scale(1.114,1)" font-size="20.8">(a)O-Zn trem.</text>
<text transform="translate(140.8,890.3) scale(1.092,1)" font-size="19.6">(b)DL-W</text>
<text transform="translate(50,1688.4) scale(1.095,1)" font-size="20.3">(c)DL-Zn trem.</text>
<text transform="translate(142.1,823.3) scale(1.085,1)" font-size="24.6" font-weight="bold">Energy (eV)</text>
<text transform="translate(552.6,827.8) scale(1.095,1)" font-size="24.6" font-weight="bold">Energy (eV)</text>
<text transform="translate(185.4,1631.2) scale(1.070,1)" font-size="24.6" font-weight="bold">Energy (eV)</text>
<text transform="translate(520.9,1631.2) scale(1.070,1)" font-size="24.6" font-weight="bold">Energy (eV)</text>
<text transform="translate(181.5,2473.4) scale(1.080,1)" font-size="23.4" font-weight="bold">Energy (eV)</text>
<text transform="translate(578.6,2473.4) scale(1.085,1)" font-size="23.4" font-weight="bold">Energy (eV)</text>
<text transform="translate(20.1,477.1) rotate(-90) scale(1.038,1)" font-size="26" font-weight="bold" xml:space="preserve">density  of states</text>
<text transform="translate(427.3,477.1) rotate(-90) scale(1.038,1)" font-size="26" font-weight="bold" xml:space="preserve">density  of states</text>
<text transform="translate(87.7,1336.4) rotate(-90) scale(1.045,1)" font-size="25.8" font-weight="bold" xml:space="preserve">density  of states</text>
<text transform="translate(425.7,1336) rotate(-90) scale(1.045,1)" font-size="25.8" font-weight="bold" xml:space="preserve">density  of states</text>
<text transform="translate(18.6,2129.3) rotate(-90) scale(1.036,1)" font-size="24.5" font-weight="bold" xml:space="preserve">density  of states</text>
<text transform="translate(420.8,2129.3) rotate(-90) scale(1.036,1)" font-size="24.5" font-weight="bold" xml:space="preserve">density  of states</text>
</svg>
</body></html>
